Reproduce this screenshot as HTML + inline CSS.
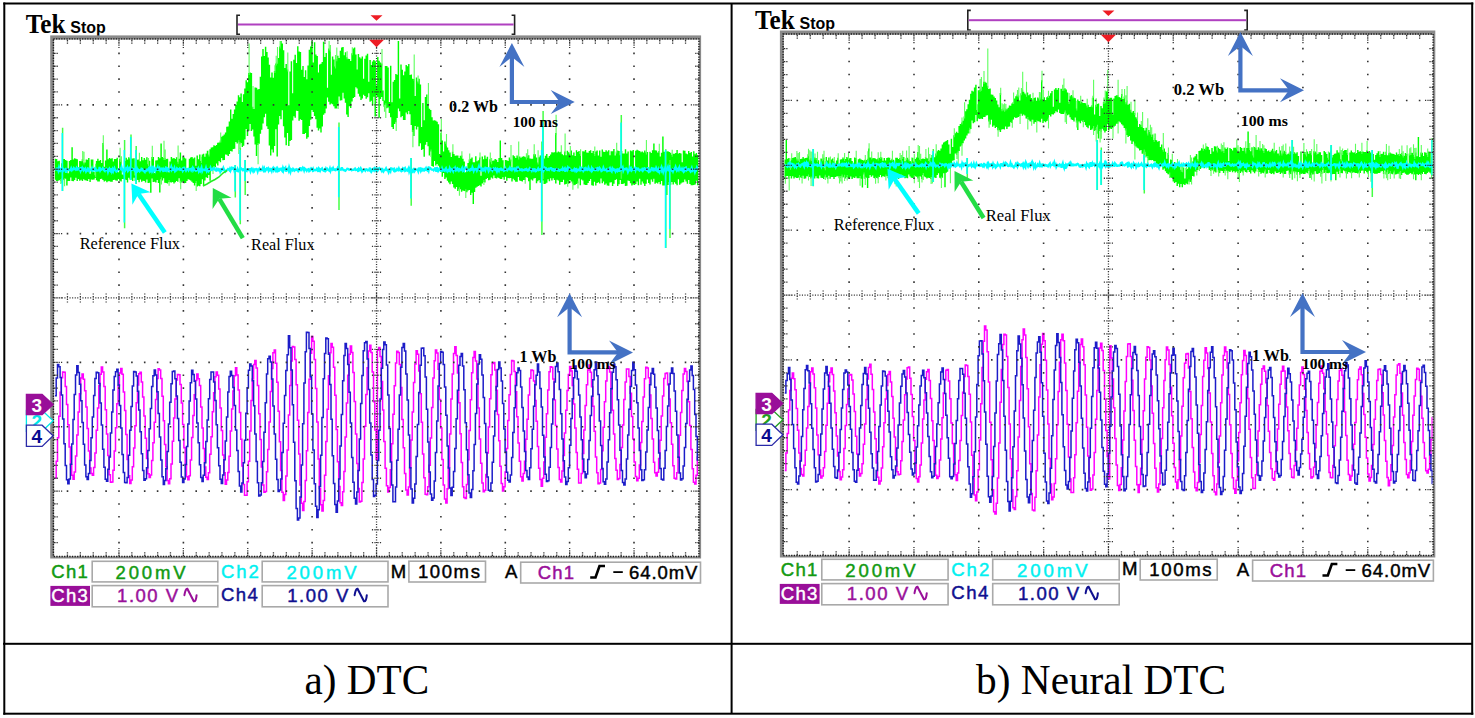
<!DOCTYPE html>
<html><head><meta charset="utf-8"><title>DTC vs Neural DTC</title>
<style>html,body{margin:0;padding:0;background:#fff;overflow:hidden;width:1475px;height:718px}svg{display:block}</style>
</head><body>
<svg width="1475" height="718" viewBox="0 0 1475 718">
<defs><clipPath id="cA"><rect x="54.6" y="40.5" width="643.8" height="515"/></clipPath><clipPath id="cB"><rect x="784.3" y="35.6" width="648.3" height="518.9"/></clipPath></defs>
<rect width="1475" height="718" fill="#fff"/>
<text x="25.8" y="33.4" font-family="Liberation Serif" font-size="27" font-weight="bold" fill="#000" text-anchor="start" textLength="39.7" lengthAdjust="spacingAndGlyphs">Tek</text>
<text x="70.3" y="33.1" font-family="Liberation Sans" font-size="17" font-weight="bold" fill="#000" text-anchor="start" textLength="35.5" lengthAdjust="spacingAndGlyphs">Stop</text>
<path fill="none" stroke="#222" stroke-width="1.6" d="M240 15.2H237V34.3H240 M511.6 15.2H514.6V34.3H511.6"/>
<rect x="238" y="23.5" width="275.6" height="2" fill="#b040c0"/>
<path fill="#ee1c24" d="M370.5 15.2h12l-6 5.6z"/>
<rect x="50.2" y="35.4" width="650.9" height="523.1" fill="#8a8a8a"/>
<rect x="54.1" y="39.6" width="644.7" height="516.8" fill="#fff"/>
<rect x="53.4" y="38.9" width="645.5" height="517.6" fill="none" stroke="#1a1a1a" stroke-width="1.4" stroke-dasharray="1.3 1.3"/>
<g clip-path="url(#cA)">
<path fill="none" stroke="#00ff00" stroke-width="1.45" d="M55.3 158.8V179.7M56.6 159.1V181.1M57.9 161.2V181.1M59.2 160.8V179.9M60.5 170.2V180.9M61.8 163.3V179.9M63 158.9V179.6M64.3 158.9V180.3M65.6 160V178.7M66.9 160.7V185.6M68.2 173.3V180.9M69.5 160.9V181.1M70.8 160V177.6M72.1 147.3V181M73.4 159.6V181.3M74.6 158.2V180M75.9 158.7V177.8M77.2 159.3V180.9M78.5 167.3V179.1M79.8 161V180.8M81.1 161.3V179.8M82.4 159.2V180.9M83.7 162.4V179.3M85 162.5V180.3M86.3 159.5V180.5M87.5 159.7V180.9M88.8 158.1V179M90.1 173.7V182M91.4 159.4V179.5M92.7 159.5V179.7M94 172V179.4M95.3 175.3V178M96.6 160.9V180.3M97.9 158.7V181.6M99.2 160.9V181.4M100.4 159.9V179.1M101.7 163V178.7M103 143V179.9M104.3 166.7V181.6M105.6 160.4V180.7M106.9 149.5V182.2M108.2 159.2V181.3M109.5 158V181.2M110.8 158.7V181.7M112.1 158.3V181.7M113.3 161.5V180.1M114.6 159V179.7M115.9 159.1V180.6M117.2 157.8V180.8M118.5 172.2V179M119.8 158.7V180.7M121.1 161.8V181.5M122.4 174.4V179M123.7 171.6V179M125 160.9V179.3M126.2 157.8V180M127.5 159.5V182.6M128.8 157.3V177.8M130.1 158.6V179.4M131.4 158.5V179.3M132.7 158.4V181M134 158.2V177.7M135.3 175.6V181M136.6 159.1V179.4M137.9 160.1V180.1M139.1 159.2V182.3M140.4 161.2V179.6M141.7 157.1V181.7M143 160.2V180.8M144.3 158.1V180.9M145.6 159.7V182.5M146.9 157.3V179.5M148.2 164.3V182.9M149.5 160.7V182.8M150.8 172.2V192.7M152 157V178.4M153.3 157.1V182.1M154.6 173.1V181.8M155.9 160.5V182.5M157.2 160.2V180M158.5 157V183.1M159.8 158.3V192.6M161.1 143.5V179.3M162.4 157V180.6M163.7 157.9V178.3M164.9 158.1V182.8M166.2 159V183.1M167.5 158.8V183.4M168.8 172.2V182.1M170.1 161.5V182.3M171.4 156.9V182.4M172.7 158.5V182M174 158.1V183.4M175.3 159.1V182.2M176.6 157.3V180.9M177.8 161.7V181.8M179.1 158.8V178.2M180.4 152.6V182.7M181.7 160.4V182.6M183 156.4V181.5M184.3 157.5V183.2M185.6 158.5V182.9M186.9 168.6V181.1M188.2 170.2V179.2M189.5 158.8V179.7M190.7 157.6V180.4M192 157V181.7M193.3 158.4V182.9M194.6 157.4V185.5M195.9 165.8V182.9M197.2 155.4V186.4M198.5 159.3V185.7M199.8 154.5V186.3M201.1 160.9V183.9M202.4 154.4V179.3M203.6 153.7V185.4M204.9 156.8V180.5M206.2 153.6V177.2M207.5 150.8V178.1M208.8 154.6V175.1M210.1 149.3V180.8M211.4 147.6V168.6M212.7 147.3V170M214 145.3V166.4M215.3 146.1V167.2M216.5 145V163.4M217.8 142.8V165.5M219.1 142.6V161.1M220.4 140.4V162.3M221.7 136.7V158M223 135.8V160.2M224.3 134.5V160.1M225.6 132.5V154.5M226.9 126.8V154.7M228.2 126.6V156M229.4 121.6V154M230.7 109.6V151M232 118.8V151.6M233.3 113.9V148.9M234.6 109.4V148.7M235.9 105V142.1M237.2 101.5V143.5M238.5 95.3V142.3M239.8 97.3V144.2M241.1 93.4V143M242.3 101.9V147M243.6 94.2V145.8M244.9 88.5V139.5M246.2 80.3V128.9M247.5 82.2V135.9M248.8 72.9V130.7M250.1 72.4V123.9M251.4 72.9V131M252.7 106.7V129.6M254 108.9V136.4M255.2 87.5V144.5M256.5 87.8V156M257.8 89.6V145M259.1 89V143.8M260.4 76.7V133.7M261.7 56.6V129.8M263 49.1V123.6M264.3 56V117.2M265.6 46.7V113.7M266.9 52.1V126.2M268.1 57.4V129M269.4 64.8V145.6M270.7 77.6V155.5M272 72.6V149.6M273.3 77.8V152.6M274.6 71V146.1M275.9 63.4V129.2M277.2 61.8V156.4M278.5 57.9V124.6M279.8 46.4V116M281 41.1V119.3M282.3 43.4V110.2M283.6 50.3V126.2M284.9 68.1V137.4M286.2 64V145.3M287.5 69.4V132.9M288.8 105.3V146.1M290.1 71.4V141M291.4 61.2V139.9M292.7 93.3V120.4M293.9 59.7V116.3M295.2 54.8V117.8M296.5 63V110.8M297.8 46.2V111.1M299.1 51.5V120.7M300.4 52.1V119.2M301.7 69.7V119.9M303 66V134M304.3 77V133.9M305.6 70.2V132.9M306.8 79.3V138.8M308.1 65.5V137.3M309.4 49.8V126M310.7 46.4V119.7M312 41V110M313.3 62.4V111.9M314.6 42.2V116M315.9 54.5V119.2M317.2 56V127.7M318.5 72.5V130.5M319.7 64.6V128.6M321 63.7V132.6M322.3 61.9V126.5M323.6 41.8V114.7M324.9 57V113.2M326.2 53.1V108.6M327.5 87.8V97.5M328.8 48.4V101.7M330.1 49.7V104.4M331.4 74.7V103.6M332.6 56.6V104.2M333.9 59.5V106.3M335.2 66.6V108.4M336.5 59.2V108.6M337.8 55.7V105.1M339.1 58.1V96.4M340.4 50.7V100.6M341.7 47.6V100.3M343 47V92.7M344.3 55.2V98.4M345.5 52.3V102.7M346.8 57.2V114.5M348.1 58.7V117.1M349.4 59V106.3M350.7 61V108.1M352 53.2V101.4M353.3 48.6V98.1M354.6 47.4V97M355.9 54.4V87.2M357.2 69.5V88.4M358.4 54.1V93.7M359.7 57.2V96.6M361 58.4V100M362.3 56.4V98.5M363.6 78.7V94.8M364.9 58.8V95.9M366.2 55.5V98.8M367.5 53.8V97.3M368.8 81.7V93.2M370.1 59.9V101.8M371.3 65.1V100.7M372.6 61.5V105.6M373.9 60V96.8M375.2 61.3V116.5M376.5 85.6V95.6M377.8 56.9V97M379.1 60.7V117.7M380.4 62.4V98.9M381.7 63.6V97.1M383 90.6V100.9M384.2 100.5V106.7M385.5 66.1V105.2M386.8 65.9V108.2M388.1 67.4V107.6M389.4 102V113M390.7 65.7V117.3M392 102.2V127M393.3 81.7V129.1M394.6 80.1V124M395.9 74.1V122.3M397.1 74.8V117.9M398.4 41V108.6M399.7 98.4V111.3M401 64.5V117.3M402.3 69.8V115.9M403.6 75.3V120M404.9 71.6V119.9M406.2 64.9V112.5M407.5 66.3V114.2M408.8 63.9V110.9M410 75.1V114.2M411.3 74.4V124.9M412.6 78.7V131.9M413.9 79V135.9M415.2 96.1V126.1M416.5 77.5V129.4M417.8 81.5V126.8M419.1 78.8V146.2M420.4 84.4V143.2M421.7 127.1V149.9M422.9 103V148.9M424.2 120.2V156.8M425.5 97V144.8M426.8 94.5V142M428.1 104.2V146.2M429.4 108.7V155.4M430.7 110V151.6M432 117.3V166M433.3 120.6V166.7M434.6 120.3V161M435.8 120.7V165.6M437.1 121.8V164.1M438.4 124.2V165.8M439.7 154V169.3M441 132.8V172.1M442.3 140.4V176.7M443.6 151.4V173.1M444.9 141.6V178.9M446.2 143.7V177.5M447.5 147.4V180.8M448.7 150.3V182.6M450 152.6V184.3M451.3 157.1V181.6M452.6 151.8V184M453.9 154V187.6M455.2 155.7V188.8M456.5 155.5V186.9M457.8 155.4V191.1M459.1 158V189.2M460.4 155.7V189.3M461.6 155.5V191.8M462.9 158.7V190.6M464.2 161.4V191M465.5 172.2V191.3M466.8 168.8V192.3M468.1 163.1V190.5M469.4 159.5V189.9M470.7 158.7V194.9M472 157.6V192.7M473.3 162.3V203.9M474.5 162.3V192.1M475.8 156.3V187.7M477.1 161.2V186.8M478.4 160.3V186.1M479.7 157.5V185.2M481 175.7V186.5M482.3 156.4V183.5M483.6 159.2V182.1M484.9 155.6V182.5M486.2 158.7V179.1M487.4 156.8V177.9M488.7 172.2V180.3M490 159.2V179.8M491.3 162.3V177.5M492.6 160.7V178.4M493.9 160.6V175.6M495.2 159.1V177.9M496.5 159.8V178.6M497.8 161.9V177.4M499.1 158V177.9M500.3 140.6V179M501.6 157.9V179.1M502.9 160.2V177.2M504.2 170.1V179.7M505.5 159.9V176.8M506.8 160.3V180.7M508.1 160.9V177.9M509.4 157.6V178.2M510.7 159.4V178M512 167.6V181.4M513.2 155.2V178.7M514.5 156.3V180.3M515.8 157.9V181.8M517.1 155.5V181.8M518.4 157.6V177.1M519.7 156.4V180.5M521 157.7V180.9M522.3 156.7V181.4M523.6 156.3V179.9M524.9 156.8V180M526.1 157.5V176.9M527.4 155.7V177.7M528.7 155.3V181.3M530 158.4V189.9M531.3 158.7V179.5M532.6 158.8V180.5M533.9 154.2V178.4M535.2 154.2V177.9M536.5 157.4V183.3M537.8 162.4V181.3M539 157.3V179.9M540.3 155.4V182.7M541.6 155.2V177.5M542.9 153.3V180.4M544.2 158.6V184M545.5 155.8V183.8M546.8 154.1V182.8M548.1 157.8V179.3M549.4 156V181.2M550.7 154.4V178.3M551.9 152.3V180.6M553.2 152.6V178.3M554.5 152.2V179.9M555.8 132.9V183.4M557.1 152.4V179.7M558.4 151.6V180.4M559.7 152.2V184.8M561 151.8V181.9M562.3 154.3V181.9M563.6 155.3V179.7M564.8 151.6V184.5M566.1 155.3V183.9M567.4 150.8V183.3M568.7 152.3V183.7M570 153.8V179.9M571.3 150.6V181.5M572.6 155.2V183.6M573.9 152.5V185.3M575.2 155.9V184.8M576.5 150.3V184M577.7 152.1V183.3M579 150.9V178.4M580.3 153.9V185.2M581.6 170.6V179.6M582.9 151.2V180.4M584.2 151.5V184.4M585.5 150V185M586.8 152.6V184.9M588.1 152.7V183.1M589.4 151.1V181M590.6 150.3V179.1M591.9 153.1V185.3M593.2 151V185.8M594.5 154V181.7M595.8 151.6V185.4M597.1 150.4V182.9M598.4 155.6V182.3M599.7 150.5V183.6M601 156.7V178.4M602.3 149.4V183.3M603.5 151.8V181.4M604.8 152.1V184.7M606.1 150.3V183.6M607.4 151.4V185.5M608.7 150.3V185.8M610 155.2V182.6M611.3 151.2V182.3M612.6 151.2V186.1M613.9 149.1V183.7M615.2 155.6V180.1M616.4 151.4V179.3M617.7 150.4V186.1M619 151V184.3M620.3 155.2V179.9M621.6 151V184.1M622.9 153.4V183.9M624.2 153.5V183.3M625.5 149.2V185.9M626.8 153.4V185.8M628.1 151.6V180.6M629.3 169.4V181M630.6 150.4V183.3M631.9 151.3V185.6M633.2 149.9V184.4M634.5 170.4V184.9M635.8 150.7V184M637.1 149.8V181.4M638.4 150.6V185.3M639.7 150.9V178.7M641 152.3V184.8M642.2 151.4V181.4M643.5 152.4V183.4M644.8 150.4V186M646.1 152.5V183.8M647.4 152V179.6M648.7 172.7V183.1M650 151.8V184.4M651.3 152.9V179.6M652.6 150.2V181.8M653.9 143.4V178.7M655.1 150.2V183.7M656.4 150.5V182.7M657.7 152.4V183.5M659 150.9V182.1M660.3 156.5V184.3M661.6 152.8V181M662.9 136.5V185.4M664.2 151.8V185.6M665.5 167.6V183.3M666.8 151.4V195.1M668 151.3V185.1M669.3 151.9V181.9M670.6 152.8V184.8M671.9 154.7V181.9M673.2 153.8V184.4M674.5 153.8V182.2M675.8 152.9V183.8M677.1 150.1V185.3M678.4 153.5V179.3M679.7 152.9V184.7M680.9 153.4V183.4M682.2 162.3V182.4M683.5 150.5V182.2M684.8 150.8V179.5M686.1 153.5V181.5M687.4 154.3V183.7M688.7 150.9V179.9M690 152.9V183.9M691.3 151.9V185.2M692.6 156.4V185.3M693.8 151.2V184.9M695.1 154.2V184.5M696.4 153V180.7M697.7 155.1V185.2"/><path fill="none" stroke="#5cff5c" stroke-width="1.1" d="M82.7 151V161.2M84 151.8V164.4M95.6 163.8V177.3M103.3 135.2V145M120.1 147.8V160.7M121.4 156.3V163.8M130.4 154.1V160.6M139.4 152.8V161.2M148.5 158V166.3M152.3 145.8V159M164 140.7V159.9M165.2 149.5V160.1M178.1 145.5V163.7M201.4 156.7V162.9M209.1 150.5V156.6M220.7 132.6V142.4M249.1 43.6V74.9M253 85.9V108.7M274.9 65.3V73M276.2 55.8V65.4M277.5 46.9V63.8M280.1 41V48.4M287.8 52.5V71.4M329.1 41V50.4M330.4 45.1V51.7M335.5 54.9V68.6M336.8 47.5V61.2M347.1 51.3V59.2M352.3 47.3V55.2M382 49V65.6M414.2 54.6V81M418.1 75.6V83.5M428.4 83.1V106.2M441.3 119.1V134.8M446.5 134V145.7M452.9 144.3V153.8M461.9 151.3V157.5M469.7 153.6V161.5M480 152.4V159.5M490.3 152.6V161.2M491.6 158.1V164.3M511 145.1V161.4M518.7 141.5V159.6M526.4 153.2V159.5M527.7 149.3V157.7M534.2 144.2V156.2M538.1 150.3V164.4M556.1 114.7V134.9M561.3 145.3V153.8M565.1 133.5V153.6M570.3 146.1V155.8M580.6 149.3V155.9M594.8 146.6V156M616.7 142.7V153.4M646.4 140V154.5M659.3 143.8V152.9M672.2 149.7V156.7M60.8 178.9V184.1M62 177.9V183.3M64.6 178.3V186.2M161.4 177.3V184.4M169.1 180.1V185.7M180.7 180.7V189.3M196.2 180.9V191M213 168V174.1M238.8 140.3V153.9M240.1 142.2V148.7M258.1 143V164.3M338.1 103.1V109.1M384.5 104.7V111.8M385.8 103.2V118.1M396.2 120.3V131M412.9 129.9V147.2M431 149.6V157.1M459.4 187.2V195.8M465.8 189.3V197.9M483.9 180.1V185.1M525.2 178V183.7M567.7 181.3V186.8M572.9 181.6V189.7M578 181.3V188.4"/>
<path stroke="#44ff44" stroke-width="1.5" fill="none" d="M62.6 127.7V191M124.6 140.1V228.3M131 134.4V180M136.2 146V184M235.3 165V197.6M240.3 147.7V224.3M245.2 160V194.9M339 122.4V210.1M411.2 158V205.8M541.9 141.5V234.9M543.1 111V179.1M621.3 115.1V178.8M665.8 149.2V248M670 160V238"/>
<polyline fill="none" stroke="#00ffff" stroke-width="2.2" points="55.1,170.1 55.7,169.8 56.4,168.8 57,169.3 57.7,168.7 58.3,170.6 59,167.5 59.6,169.4 60.3,172 60.9,169.3 61.6,168.5 62.2,169.6 62.8,170.9 63.5,169.4 64.1,170.2 64.8,169.7 65.4,169.2 66.1,172.8 66.7,169.7 67.4,169.1 68,169.1 68.6,170 69.3,170 69.9,170.4 70.6,169.7 71.2,168.2 71.9,170.1 72.5,169.3 73.2,169.3 73.8,168.1 74.5,169 75.1,168.9 75.7,169.6 76.4,168.1 77,169.7 77.7,169.7 78.3,168.5 79,169 79.6,168.7 80.3,170.5 80.9,167.1 81.5,169.3 82.2,167.9 82.8,169.2 83.5,170.4 84.1,169 84.8,169.7 85.4,168.8 86.1,171.5 86.7,170.5 87.4,170.7 88,168.3 88.6,168.5 89.3,170.7 89.9,169.4 90.6,169.3 91.2,169.9 91.9,168.3 92.5,170.4 93.2,169.6 93.8,170.1 94.4,168.9 95.1,170.1 95.7,168.9 96.4,170.6 97,170.7 97.7,170.5 98.3,170.1 99,170.2 99.6,166.9 100.3,170.4 100.9,169.3 101.5,169.7 102.2,169.3 102.8,168.2 103.5,169.1 104.1,170.3 104.8,171 105.4,169 106.1,168.7 106.7,171.1 107.3,168.7 108,171.7 108.6,169.7 109.3,168.7 109.9,170.6 110.6,171.3 111.2,168.2 111.9,171.2 112.5,169.3 113.2,171.1 113.8,169.2 114.4,168 115.1,170.1 115.7,170.5 116.4,171.7 117,171.3 117.7,170.3 118.3,169.4 119,169.1 119.6,169.3 120.2,168.8 120.9,169.3 121.5,167.1 122.2,169.8 122.8,169.6 123.5,172.2 124.1,170.4 124.8,169.1 125.4,170.2 126.1,168.4 126.7,169 127.3,167.7 128,171 128.6,170.2 129.3,168.4 129.9,169.5 130.6,170.5 131.2,170.1 131.9,170 132.5,168.7 133.1,169 133.8,169.7 134.4,170.5 135.1,168.8 135.7,168.5 136.4,170.7 137,168.7 137.7,170.7 138.3,169.8 139,170.5 139.6,171.3 140.2,170.3 140.9,170.4 141.5,168.7 142.2,168.9 142.8,170.2 143.5,171.1 144.1,171 144.8,171.9 145.4,169.9 146,169.8 146.7,170.6 147.3,169.6 148,169.5 148.6,168.6 149.3,170.6 149.9,168.5 150.6,170.1 151.2,168.2 151.9,170.7 152.5,168.6 153.1,170.4 153.8,168 154.4,169.2 155.1,170.8 155.7,168.8 156.4,169.7 157,169.1 157.7,167.3 158.3,169.9 158.9,170 159.6,168.5 160.2,170.2 160.9,168.8 161.5,168.6 162.2,169.6 162.8,168.9 163.5,171.9 164.1,168 164.8,170.3 165.4,170.6 166,167.6 166.7,167.9 167.3,170.2 168,169.1 168.6,170 169.3,170.7 169.9,169.2 170.6,168.5 171.2,166.9 171.8,169.8 172.5,168.7 173.1,169.9 173.8,169.8 174.4,168.2 175.1,171.3 175.7,170.7 176.4,170.4 177,168.4 177.7,169.2 178.3,169.1 178.9,169.2 179.6,168.5 180.2,170 180.9,169.8 181.5,170 182.2,169.1 182.8,170.9 183.5,169.8 184.1,166.9 184.7,169 185.4,169.5 186,170.6 186.7,169.3 187.3,169.3 188,168.9 188.6,170.3 189.3,169.2 189.9,169 190.6,168.9 191.2,170.2 191.8,169.1 192.5,167.9 193.1,170.2 193.8,168.9 194.4,170 195.1,170 195.7,170.8 196.4,170.6 197,169 197.6,169.4 198.3,168.3 198.9,171.3 199.6,170 200.2,171 200.9,169.3 201.5,167.6 202.2,171.1 202.8,169.7 203.5,169.7 204.1,169.7 204.7,170.2 205.4,170.1 206,168 206.7,170.7 207.3,169.1 208,169.1 208.6,171.3 209.3,170.5 209.9,169.3 210.5,167.7 211.2,169.8 211.8,170.1 212.5,169.5 213.1,168.4 213.8,168.8 214.4,168.3 215.1,169.8 215.7,170.4 216.4,170.6 217,168.9 217.6,169.8 218.3,170.2 218.9,169.1 219.6,169.5 220.2,171.7 220.9,169.8 221.5,170.5 222.2,169.2 222.8,169.6 223.4,167.9 224.1,169.6 224.7,170.8 225.4,171.7 226,170.8 226.7,170.3 227.3,169.7 228,169 228.6,169.4 229.3,170.2 229.9,168.8 230.5,170.5 231.2,168.6 231.8,167.8 232.5,168.6 233.1,167.9 233.8,168.2 234.4,170.7 235.1,169.4 235.7,169.8 236.3,170.8 237,170.9 237.6,169.1 238.3,170.9 238.9,170 239.6,169.6 240.2,170 240.9,168.2 241.5,168.8 242.2,169.5 242.8,170.2 243.4,169.2 244.1,169.5 244.7,170.6 245.4,171 246,170.4 246.7,170.9 247.3,169.2 248,169.3 248.6,169.9 249.2,169.3 249.9,169.1 250.5,171.3 251.2,169.4 251.8,168.6 252.5,170.1 253.1,171.4 253.8,169.7 254.4,170.8 255.1,169.2 255.7,169.1 256.3,168.9 257,169.5 257.6,171.4 258.3,168.4 258.9,171.2 259.6,168.6 260.2,169.4 260.9,170.4 261.5,170.2 262.1,169.9 262.8,168 263.4,170 264.1,168.6 264.7,172.2 265.4,169.4 266,169.8 266.7,168.5 267.3,169.1 268,168.3 268.6,170.6 269.2,169.3 269.9,170.2 270.5,168.9 271.2,169.1 271.8,170.9 272.5,168.6 273.1,167.8 273.8,170 274.4,168.5 275,169.2 275.7,170.5 276.3,168.8 277,170.5 277.6,168.9 278.3,171.1 278.9,170.9 279.6,169.1 280.2,169.4 280.9,168.8 281.5,169.8 282.1,170.7 282.8,168.2 283.4,170.5 284.1,168.3 284.7,168.7 285.4,167.8 286,171.7 286.7,169.7 287.3,169.8 287.9,168.9 288.6,170.7 289.2,167.5 289.9,169.6 290.5,171.8 291.2,169.2 291.8,169.6 292.5,170.3 293.1,168.8 293.8,169.6 294.4,170.6 295,169.8 295.7,170 296.3,169.3 297,169.9 297.6,169.7 298.3,171.1 298.9,170.3 299.6,169.4 300.2,167.2 300.8,170.3 301.5,170.4 302.1,168.7 302.8,167.6 303.4,168.5 304.1,170.5 304.7,168.5 305.4,169.1 306,169.8 306.7,170.8 307.3,169.6 307.9,169.5 308.6,169.1 309.2,171.2 309.9,170.7 310.5,169.5 311.2,168.2 311.8,168.8 312.5,170.2 313.1,168.9 313.7,170.5 314.4,170 315,169.9 315.7,170.3 316.3,170.1 317,168.7 317.6,169.3 318.3,171.9 318.9,168.4 319.6,169.1 320.2,170.7 320.8,169.4 321.5,168.8 322.1,168.3 322.8,170.1 323.4,170.6 324.1,171 324.7,169.7 325.4,170.6 326,168.6 326.6,169.8 327.3,168.9 327.9,169.8 328.6,170.4 329.2,170.7 329.9,168.6 330.5,170.9 331.2,169.1 331.8,168.6 332.5,169.4 333.1,168.1 333.7,169.6 334.4,169.9 335,169.4 335.7,170.1 336.3,169.3 337,169.6 337.6,168.2 338.3,169.6 338.9,168.7 339.5,169.2 340.2,169.5 340.8,169.8 341.5,168 342.1,168 342.8,169.3 343.4,170.1 344.1,170 344.7,170.5 345.4,170.9 346,170.1 346.6,169.6 347.3,168.6 347.9,168.7 348.6,169.1 349.2,169.9 349.9,169.8 350.5,169.6 351.2,169.4 351.8,170.2 352.4,169.8 353.1,169.9 353.7,169.9 354.4,169.1 355,168.6 355.7,170.1 356.3,170 357,169.4 357.6,169.2 358.3,171.9 358.9,168.8 359.5,169.4 360.2,169.9 360.8,168.4 361.5,169.7 362.1,171.4 362.8,170.5 363.4,170.2 364.1,170.2 364.7,169.7 365.3,170.6 366,169.4 366.6,169.2 367.3,169.7 367.9,170.5 368.6,169.9 369.2,170.3 369.9,167.6 370.5,170.8 371.2,171.9 371.8,170.9 372.4,169.3 373.1,168.8 373.7,169.9 374.4,168.6 375,170.3 375.7,169.1 376.3,170.6 377,171 377.6,167.6 378.2,169.9 378.9,168.9 379.5,168.2 380.2,169 380.8,169.4 381.5,170.6 382.1,168.1 382.8,170.7 383.4,171.6 384.1,170.2 384.7,170.1 385.3,169.6 386,168.4 386.6,170.1 387.3,170 387.9,170.3 388.6,172.2 389.2,170.3 389.9,170 390.5,171.2 391.1,168.3 391.8,168.5 392.4,169.2 393.1,168.9 393.7,170.3 394.4,169.3 395,171.3 395.7,171.1 396.3,170.4 397,169.2 397.6,170.2 398.2,170.4 398.9,168.5 399.5,169.9 400.2,170.3 400.8,169.8 401.5,171.2 402.1,170.8 402.8,168.8 403.4,169.7 404,168.8 404.7,170.2 405.3,168.7 406,170.5 406.6,170 407.3,170.6 407.9,169.5 408.6,168.1 409.2,171.4 409.9,169.4 410.5,171 411.1,170 411.8,170.3 412.4,171.4 413.1,169.9 413.7,171 414.4,168.1 415,170.5 415.7,169.4 416.3,169.5 416.9,169.6 417.6,169.9 418.2,171.3 418.9,167.7 419.5,169.6 420.2,168.9 420.8,170.8 421.5,169.2 422.1,170.1 422.8,169.2 423.4,170.3 424,170.6 424.7,169.2 425.3,169.6 426,168.2 426.6,169.9 427.3,170.5 427.9,169 428.6,170.7 429.2,167.5 429.8,167.7 430.5,168.2 431.1,169.1 431.8,169.6 432.4,169.5 433.1,169.5 433.7,170.3 434.4,169.1 435,168.3 435.7,168.4 436.3,171.7 436.9,167.2 437.6,169.4 438.2,171.1 438.9,170.1 439.5,168.8 440.2,169.6 440.8,170.5 441.5,170.8 442.1,168.7 442.7,170.4 443.4,169.9 444,170.7 444.7,171 445.3,169.3 446,168.2 446.6,170 447.3,171.4 447.9,170.3 448.6,169.8 449.2,172 449.8,168.6 450.5,170.5 451.1,169 451.8,169.6 452.4,169.7 453.1,171.1 453.7,168.7 454.4,169.1 455,168 455.6,170.1 456.3,169.1 456.9,170 457.6,168.5 458.2,169.2 458.9,170.6 459.5,169.4 460.2,170.2 460.8,170.1 461.5,169.2 462.1,168 462.7,170.6 463.4,169.8 464,170.6 464.7,167.6 465.3,167.9 466,167.5 466.6,168.7 467.3,170.6 467.9,170.2 468.5,169.6 469.2,169.7 469.8,170.4 470.5,169.3 471.1,170 471.8,169.7 472.4,167.4 473.1,169.2 473.7,171 474.4,169.2 475,169.5 475.6,169 476.3,169.1 476.9,170.7 477.6,169.3 478.2,168.6 478.9,166.5 479.5,169 480.2,167.6 480.8,167.8 481.4,170.4 482.1,170.3 482.7,167.7 483.4,170.5 484,170.1 484.7,168.8 485.3,170.3 486,168 486.6,168.4 487.3,168.2 487.9,168.5 488.5,170.5 489.2,168.3 489.8,168.4 490.5,168.6 491.1,169.8 491.8,169.3 492.4,170.5 493.1,168.9 493.7,168.3 494.3,169.1 495,169.6 495.6,168.7 496.3,169.9 496.9,171.4 497.6,169 498.2,169.6 498.9,170.9 499.5,168.9 500.2,168.7 500.8,168.5 501.4,170 502.1,170.1 502.7,169.4 503.4,169.6 504,170.9 504.7,170.4 505.3,168.2 506,169.6 506.6,169.7 507.2,170.3 507.9,169.4 508.5,168.9 509.2,169.1 509.8,167.8 510.5,169.5 511.1,169 511.8,170 512.4,168.5 513.1,169.1 513.7,168.6 514.3,168.5 515,170.3 515.6,169.1 516.3,170 516.9,168.4 517.6,169.7 518.2,167.9 518.9,169.1 519.5,169.1 520.1,170.1 520.8,169.7 521.4,169.4 522.1,170.4 522.7,169.7 523.4,170.1 524,170.3 524.7,169.5 525.3,169.3 526,169.9 526.6,169.1 527.2,169.9 527.9,170.7 528.5,170.4 529.2,169.2 529.8,168.3 530.5,169.5 531.1,169.4 531.8,170.7 532.4,169.2 533,169.3 533.7,170.3 534.3,169.1 535,169.4 535.6,171.3 536.3,171 536.9,170.2 537.6,169.8 538.2,168.6 538.9,170.1 539.5,169.6 540.1,169.8 540.8,169 541.4,169.5 542.1,169.4 542.7,169.9 543.4,171 544,169.9 544.7,167.9 545.3,168.6 545.9,168 546.6,168.8 547.2,170.1 547.9,170 548.5,169 549.2,169.8 549.8,168.8 550.5,168.1 551.1,168.1 551.8,168.7 552.4,171 553,168.2 553.7,170.8 554.3,170.9 555,169.4 555.6,169.5 556.3,168.9 556.9,169.5 557.6,170.2 558.2,169.6 558.8,170.5 559.5,170.7 560.1,169.9 560.8,169.9 561.4,169.5 562.1,169.9 562.7,168.4 563.4,170 564,169.8 564.7,168.7 565.3,171.7 565.9,168.6 566.6,168.7 567.2,169.8 567.9,167.6 568.5,168.8 569.2,168 569.8,168.6 570.5,169.4 571.1,169.9 571.7,170.6 572.4,170.4 573,170.7 573.7,170.1 574.3,169.1 575,170.7 575.6,169.1 576.3,168.9 576.9,171.1 577.6,170.3 578.2,169.8 578.8,170.3 579.5,170.4 580.1,168.2 580.8,169.5 581.4,168.4 582.1,169.7 582.7,168.9 583.4,170.9 584,170.1 584.6,168.7 585.3,169.5 585.9,168.3 586.6,169.6 587.2,170.1 587.9,169.8 588.5,167.6 589.2,169.2 589.8,170.1 590.5,169.8 591.1,170.7 591.7,168.3 592.4,170.1 593,168.9 593.7,169.7 594.3,169.9 595,170.2 595.6,169 596.3,169.7 596.9,168.4 597.5,168.1 598.2,170.1 598.8,169.5 599.5,167.9 600.1,168.7 600.8,169.6 601.4,171.1 602.1,170.6 602.7,170.3 603.4,167.8 604,169.4 604.6,170 605.3,169.9 605.9,170 606.6,169.3 607.2,171.3 607.9,171 608.5,169.4 609.2,168.6 609.8,171.6 610.4,169 611.1,170.7 611.7,171.5 612.4,168.6 613,169.8 613.7,169.2 614.3,170.1 615,169.9 615.6,171.5 616.3,170.1 616.9,169.5 617.5,170.7 618.2,169.3 618.8,169.2 619.5,171.8 620.1,168.7 620.8,169.1 621.4,169.6 622.1,168.5 622.7,167.4 623.3,170.6 624,168.8 624.6,169 625.3,169.2 625.9,168.6 626.6,168.5 627.2,169.7 627.9,171.9 628.5,170.3 629.2,170.3 629.8,168 630.4,169.5 631.1,168.4 631.7,170.3 632.4,169.3 633,169.6 633.7,169.5 634.3,169 635,168 635.6,170.1 636.2,168.2 636.9,168.4 637.5,169.2 638.2,168.8 638.8,169.8 639.5,170.6 640.1,169.8 640.8,169.7 641.4,169.6 642.1,170.4 642.7,167.7 643.3,169.9 644,168.6 644.6,168.3 645.3,169.5 645.9,169.2 646.6,170.1 647.2,170.6 647.9,167.2 648.5,169.5 649.1,171.5 649.8,170.4 650.4,171 651.1,169.6 651.7,168.1 652.4,168.4 653,170.3 653.7,170.5 654.3,168.8 655,169.3 655.6,169.8 656.2,167.8 656.9,169.2 657.5,171.2 658.2,171.7 658.8,169.4 659.5,171.4 660.1,169 660.8,168.7 661.4,167.3 662,170.5 662.7,169.2 663.3,171.9 664,169.9 664.6,169.7 665.3,167.7 665.9,171 666.6,169.2 667.2,169.4 667.9,167.3 668.5,170.5 669.1,170.5 669.8,168.9 670.4,169.6 671.1,169.9 671.7,170.5 672.4,169.6 673,171.3 673.7,169.3 674.3,168.9 674.9,169.1 675.6,167 676.2,168.7 676.9,170.6 677.5,169.8 678.2,168.7 678.8,169.9 679.5,167.5 680.1,169.3 680.8,170.1 681.4,170.2 682,168.8 682.7,170.5 683.3,171.4 684,169.1 684.6,170.3 685.3,168 685.9,167.6 686.6,170.2 687.2,169.6 687.8,169.7 688.5,169 689.1,169.3 689.8,170.4 690.4,171.3 691.1,169.3 691.7,167.9 692.4,170.8 693,170.2 693.7,170.2 694.3,169.7 694.9,171.9 695.6,169.6 696.2,170.1 696.9,167.7 697.5,169"/>
<path stroke="#00ffff" stroke-width="1.5" fill="none" d="M62.3 133V191M124.3 150V222.6M130.7 137V180M135.9 150V184M235 165V191.5M240 150V220.3M244.9 160V181M338.7 127V197.3M410.9 158V198.4M541.6 150V221.5M542.8 122.5V170M621 122.5V170M665.5 150V248M669.7 165V229"/>
<path fill="none" stroke="#ff00ff" stroke-width="1.5" d="M54.9 477.9H56.2V461.3H57.5V437.7H58.8V416.2H60.1V392.3H61.3V377.8H62.6V371.9H63.9V372.3H65.2V386.6H66.5V404.5H67.8V424.8H69.1V447H70.4V464.4H71.7V475.3H73V479.3H74.2V471.9H75.5V456H76.8V434.9H78.1V412H79.4V393.8H80.7V378.1H82V374.1H83.3V379.2H84.6V390.8H85.9V407H87.1V428.5H88.4V451.1H89.7V468H91V473.6H92.3V475.3H93.6V467.6H94.9V452.9H96.2V430.2H97.5V408.1H98.8V385.7H100V374.2H101.3V367.1H102.6V371.9H103.9V386.5H105.2V409.7H106.5V434H107.8V455.4H109.1V474.7H110.4V482.3H111.7V481.9H112.9V470.3H114.2V451H115.5V427.8H116.8V403.8H118.1V385.5H119.4V373.1H120.7V368.6H122V374.3H123.3V392H124.6V410.5H125.8V434.6H127.1V459.6H128.4V475.7H129.7V483.6H131V479.9H132.3V466.7H133.6V448.1H134.9V425.8H136.2V402.7H137.5V385.1H138.7V373.7H140V372.3H141.3V382H142.6V397H143.9V415.9H145.2V438.2H146.5V458.6H147.8V473.8H149.1V477.6H150.4V475.1H151.6V460.6H152.9V442.7H154.2V422.2H155.5V399.4H156.8V378.6H158.1V368.7H159.4V370.1H160.7V378.5H162V396.3H163.3V420.7H164.5V444.6H165.8V466.7H167.1V480.5H168.4V483.7H169.7V478.7H171V464H172.3V441.2H173.6V417.9H174.9V398.9H176.2V379.9H177.4V374.5H178.7V374.8H180V384.5H181.3V402.9H182.6V424.6H183.9V447.7H185.2V464.7H186.5V476.8H187.8V479.8H189.1V475.7H190.3V459.9H191.6V437.4H192.9V415.6H194.2V394.8H195.5V380.6H196.8V374H198.1V378.7H199.4V385.5H200.7V406.9H202V428.1H203.2V448.6H204.5V467H205.8V477.2H207.1V479.4H208.4V472.7H209.7V454.3H211V436.7H212.3V411.7H213.6V392.8H214.9V376.8H216.1V371.9H217.4V375.2H218.7V389H220V408H221.3V430.5H222.6V454.9H223.9V472.8H225.2V484.3H226.5V480H227.8V472.4H229V456.2H230.3V431.1H231.6V409H232.9V391.1H234.2V375.8H235.5V367.7H236.8V375.1H238.1V390H239.4V412.5H240.7V439.3H241.9V465.9H243.2V484.6H244.5V495.3H245.8V495.3H247.1V481.8H248.4V461.3H249.7V430.9H251V400.6H252.3V379.1H253.6V364.5H254.8V360.4H256.1V368H257.4V385.4H258.7V413.7H260V439.6H261.3V467.1H262.6V484.9H263.9V492.2H265.2V491.4H266.5V471.8H267.7V449.5H269V421.9H270.3V391.4H271.6V368.4H272.9V352.8H274.2V350H275.5V363.2H276.8V382.2H278.1V411.3H279.4V441.8H280.6V470.5H281.9V492.2H283.2V500.4H284.5V494.5H285.8V476H287.1V450.1H288.4V415.1H289.7V385.6H291V361H292.3V346.4H293.5V347H294.8V359.6H296.1V384.7H297.4V420.3H298.7V453.9H300V484.9H301.3V503.3H302.6V510.4H303.9V501.6H305.2V480.4H306.4V450.8H307.7V412.6H309V379.2H310.3V353.2H311.6V336.6H312.9V341.2H314.2V359.6H315.5V388.6H316.8V422.1H318.1V459.1H319.3V488.5H320.6V504.8H321.9V510.9H323.2V500.4H324.5V475.3H325.8V441.5H327.1V409.2H328.4V375.8H329.7V352.8H331V343.4H332.2V347.3H333.5V367.2H334.8V395.3H336.1V429.4H337.4V461.7H338.7V486.6H340V502.7H341.3V505.4H342.6V491.7H343.9V471.6H345.1V437H346.4V403H347.7V375.2H349V354.3H350.3V346H351.6V352.4H352.9V372.5H354.2V401.6H355.5V434H356.8V463.6H358V488.5H359.3V501.9H360.6V501.2H361.9V482.5H363.2V459.1H364.5V426.3H365.8V394.5H367.1V367.8H368.4V350.9H369.7V345.3H370.9V352.4H372.2V372.1H373.5V401.7H374.8V430H376.1V459.6H377.4V349.9H378.7V347.4H380V356.4H381.3V381.4H382.6V410H383.8V441.4H385.1V468.2H386.4V485.8H387.7V491.9H389V487.5H390.3V469.8H391.6V443.7H392.9V414.2H394.2V385.8H395.5V363.1H396.7V351.3H398V352.6H399.3V364.6H400.6V387.5H401.9V419.5H403.2V447.8H404.5V473.5H405.8V489.9H407.1V494.9H408.4V487H409.6V467.9H410.9V440.1H412.2V412H413.5V382.5H414.8V363.9H416.1V350.8H417.4V354.3H418.7V371.1H420V393.8H421.3V422.3H422.5V454H423.8V477.7H425.1V494.3H426.4V494.8H427.7V486.7H429V465.3H430.3V438.1H431.6V407.6H432.9V377.9H434.2V360.8H435.4V350H436.7V353H438V369.3H439.3V399.4H440.6V427.9H441.9V459.6H443.2V485H444.5V499.1H445.8V502.9H447.1V488.8H448.3V467H449.6V433.9H450.9V399H452.2V374H453.5V353.4H454.8V346.7H456.1V355.6H457.4V372.9H458.7V402.7H460V433.8H461.2V462.4H462.5V486.7H463.8V497.5H465.1V498.6H466.4V484.6H467.7V459.7H469V430.4H470.3V399.7H471.6V372.8H472.9V357.4H474.1V351.6H475.4V360.9H476.7V379H478V407.9H479.3V439H480.6V463.2H481.9V482.9H483.2V491.7H484.5V490.2H485.8V474.5H487V453.1H488.3V427.1H489.6V398.8H490.9V374.8H492.2V363.6H493.5V362.5H494.8V370.1H496.1V390.3H497.4V414.5H498.7V440.7H499.9V466.2H501.2V483.6H502.5V491H503.8V486.7H505.1V471.9H506.4V448.5H507.7V420.6H509V394.8H510.3V374.4H511.6V360.6H512.8V361H514.1V371.5H515.4V391.7H516.7V416.8H518V443H519.3V461.3H520.6V476.8H521.9V481H523.2V473.6H524.5V461.2H525.7V439.3H527V419.2H528.3V394.9H529.6V378.3H530.9V370.1H532.2V370.6H533.5V380.9H534.8V400.5H536.1V421.2H537.4V446.6H538.6V468.2H539.9V479.6H541.2V486.2H542.5V478.2H543.8V462.1H545.1V437.3H546.4V413.8H547.7V390H549V371.7H550.3V366.7H551.5V367.2H552.8V378.9H554.1V399.9H555.4V425.5H556.7V448.9H558V467.4H559.3V479.6H560.6V481.9H561.9V471H563.2V455.4H564.4V432.9H565.7V410.3H567V390.5H568.3V374.6H569.6V366.5H570.9V371.1H572.2V385.6H573.5V403.9H574.8V427.9H576.1V452.5H577.3V469.3H578.6V482.9H579.9V482.9H581.2V473.4H582.5V453.4H583.8V430H585.1V405.4H586.4V384.7H587.7V369.9H589V365H590.2V372.3H591.5V386.7H592.8V406.3H594.1V431.2H595.4V457.1H596.7V472.7H598V483.8H599.3V483H600.6V469.6H601.9V450.7H603.1V427.3H604.4V401.8H605.7V381.1H607V368.6H608.3V366.5H609.6V372H610.9V388.3H612.2V410.3H613.5V434H614.8V458.5H616V470.3H617.3V479.6H618.6V478.5H619.9V464.5H621.2V447.4H622.5V425H623.8V399.6H625.1V381.9H626.4V369.1H627.7V369.1H628.9V376.6H630.2V393.2H631.5V416.4H632.8V439H634.1V462.1H635.4V476.6H636.7V480.7H638V478.3H639.3V465.1H640.6V442.5H641.8V421.5H643.1V396.9H644.4V378.8H645.7V367.2H647V367.9H648.3V377.7H649.6V394.9H650.9V418.4H652.2V438.9H653.5V462.3H654.7V472.8H656V476H657.3V472.2H658.6V458.6H659.9V440.2H661.2V416H662.5V396.1H663.8V378.5H665.1V373.6H666.4V372.9H667.6V384.7H668.9V399.1H670.2V422.8H671.5V444.3H672.8V465.7H674.1V478.3H675.4V478.9H676.7V472.7H678V457.1H679.3V435.3H680.5V412.5H681.8V390.6H683.1V374.1H684.4V368.6H685.7V371.6H687V381.6H688.3V401.7H689.6V425.6H690.9V449.6H692.2V468.8H693.4V482.2H694.7V484H696V475.3H697.3V456.9H698.1"/>
<path fill="none" stroke="#1c1cc8" stroke-width="1.5" d="M54.9 395.7H56.2V378H57.5V364.4H58.8V366.8H60.1V377.6H61.3V395H62.6V419.1H63.9V443.7H65.2V465.6H66.5V479.7H67.8V483.7H69.1V479H70.4V464.3H71.7V443.9H73V419.4H74.2V394.5H75.5V375.1H76.8V365.7H78.1V372.4H79.4V384.3H80.7V400.8H82V422.4H83.3V444.2H84.6V465.1H85.9V476.7H87.1V479.6H88.4V473.5H89.7V460.5H91V437.8H92.3V417H93.6V395.5H94.9V378.6H96.2V372.3H97.5V372.8H98.8V383.6H100V403H101.3V425.1H102.6V449.3H103.9V467.3H105.2V479.2H106.5V481.3H107.8V469.2H109.1V456.9H110.4V433H111.7V412H112.9V390.1H114.2V376.4H115.5V371.8H116.8V369.2H118.1V384.9H119.4V405.5H120.7V427.9H122V454.4H123.3V472.5H124.6V482.5H125.8V482.7H127.1V477.4H128.4V455.2H129.7V430.2H131V406.6H132.3V385.9H133.6V371.4H134.9V371.9H136.2V375.9H137.5V391.3H138.7V410.1H140V431.7H141.3V453.7H142.6V470.4H143.9V480.2H145.2V478.8H146.5V467.7H147.8V450.5H149.1V428.8H150.4V408.4H151.6V386.6H152.9V375.7H154.2V369.9H155.5V374.9H156.8V391.8H158.1V413.5H159.4V436.9H160.7V460.1H162V476.8H163.3V484.4H164.5V480.4H165.8V468.7H167.1V451.5H168.4V424.1H169.7V402.2H171V383.7H172.3V371.4H173.6V371.1H174.9V378.7H176.2V395.9H177.4V418.6H178.7V440.6H180V462.3H181.3V476.9H182.6V482.5H183.9V479H185.2V464.5H186.5V446.4H187.8V423.9H189.1V401.1H190.3V382.7H191.6V370.2H192.9V374.5H194.2V381.3H195.5V399.1H196.8V423.1H198.1V442.8H199.4V464.7H200.7V477.4H202V481.4H203.2V475.3H204.5V462.8H205.8V441.5H207.1V420.1H208.4V398.7H209.7V379.4H211V371.9H212.3V372.1H213.6V382H214.9V400.5H216.1V424.7H217.4V447.7H218.7V465.7H220V479.3H221.3V483.6H222.6V474.9H223.9V459.7H225.2V441H226.5V417H227.8V392.1H229V376.6H230.3V371.3H231.6V375.5H232.9V387.4H234.2V405.6H235.5V430H236.8V450.6H238.1V471.6H239.4V486.1H240.7V491.9H241.9V483.1H243.2V462.8H244.5V440.2H245.8V413.3H247.1V387.8H248.4V370.3H249.7V363.9H251V366H252.3V380.7H253.6V405.7H254.8V434H256.1V461.4H257.4V482.7H258.7V495.9H260V495.1H261.3V482.8H262.6V461.5H263.9V432.3H265.2V402.7H266.5V374H267.7V358.8H269V356.3H270.3V362.1H271.6V378.9H272.9V406H274.2V433.9H275.5V459.2H276.8V479.5H278.1V491.6H279.4V489.9H280.6V479H281.9V452.6H283.2V423.3H284.5V395.4H285.8V370.6H287.1V354.7H288.4V335.7H289.7V347.8H291V370H292.3V404.7H293.5V442.3H294.8V480.7H296.1V508.4H297.4V520.1H298.7V518H300V496.9H301.3V465H302.6V423.8H303.9V383.1H305.2V351.8H306.4V332.2H307.7V332.6H309V348.6H310.3V376.7H311.6V414H312.9V450.1H314.2V483.8H315.5V506.3H316.8V517.5H318.1V509.7H319.3V486.6H320.6V455.2H321.9V417.4H323.2V378.7H324.5V353.6H325.8V337.9H327.1V338.7H328.4V354.2H329.7V384.4H331V419.3H332.2V455.8H333.5V483.5H334.8V504.4H336.1V512.3H337.4V501H338.7V479.1H340V446.1H341.3V414.6H342.6V380.8H343.9V355.6H345.1V343.5H346.4V348.6H347.7V364.6H349V392.2H350.3V423H351.6V457.4H352.9V482.2H354.2V498.2H355.5V504H356.8V492H358V470.5H359.3V438.9H360.6V403.4H361.9V375.6H363.2V350.8H364.5V342.8H365.8V341.5H367.1V359.1H368.4V389.6H369.7V422.9H370.9V455H372.2V479.4H373.5V496.5H374.8V495.3H376.1V484.1H377.4V460.6H378.7V430.3H380V398.9H381.3V368.3H382.6V349.5H383.8V342H385.1V344.8H386.4V364.9H387.7V394.9H389V428.4H390.3V461.9H391.6V484.9H392.9V501.8H394.2V501.8H395.5V486.9H396.7V460.2H398V429.3H399.3V395.1H400.6V367.3H401.9V347.6H403.2V343.6H404.5V350.9H405.8V374H407.1V399.9H408.4V434.9H409.6V467.8H410.9V489H412.2V502.9H413.5V498.3H414.8V483.9H416.1V456.4H417.4V424.5H418.7V392.6H420V365.3H421.3V348.3H422.5V347.9H423.8V355.8H425.1V376.9H426.4V409.2H427.7V441.9H429V472H430.3V494H431.6V500.3H432.9V498.1H434.2V480.9H435.4V452.6H436.7V420.9H438V386H439.3V363.5H440.6V351.5H441.9V352.2H443.2V364.6H444.5V386.9H445.8V415.2H447.1V445.9H448.3V468.1H449.6V487.9H450.9V495.4H452.2V487.3H453.5V471.6H454.8V448.4H456.1V418.8H457.4V390.2H458.7V365.3H460V356.6H461.2V353.5H462.5V366H463.8V389.8H465.1V422.8H466.4V449.7H467.7V474.8H469V493.1H470.3V497.5H471.6V489.6H472.9V470.7H474.1V444.5H475.4V413.6H476.7V383.9H478V364.1H479.3V354.7H480.6V359.2H481.9V375H483.2V397.6H484.5V423.4H485.8V452.5H487V476.9H488.3V490.2H489.6V490.9H490.9V482.9H492.2V462.2H493.5V436.1H494.8V411.1H496.1V386.5H497.4V369.6H498.7V361.9H499.9V368.1H501.2V381.1H502.5V403.5H503.8V428.9H505.1V452.1H506.4V472.2H507.7V480.2H509V482H510.3V475H511.6V457.4H512.8V432.6H514.1V407.8H515.4V385.4H516.7V372.8H518V368.1H519.3V370.5H520.6V386.9H521.9V407.5H523.2V431H524.5V451.6H525.7V470.4H527V477.1H528.3V479.6H529.6V467.8H530.9V448.7H532.2V429.3H533.5V406.2H534.8V384.7H536.1V375.2H537.4V363.9H538.6V371.9H539.9V388.6H541.2V407H542.5V435.3H543.8V457.1H545.1V474.3H546.4V481.4H547.7V480.8H549V467.2H550.3V447.5H551.5V424H552.8V398.9H554.1V382H555.4V366.5H556.7V363.1H558V371.8H559.3V389.4H560.6V413.7H561.9V439.1H563.2V460.8H564.4V477H565.7V484.4H567V481.6H568.3V467.8H569.6V445.2H570.9V418.5H572.2V398.7H573.5V377.8H574.8V365.9H576.1V371.3H577.3V379H578.6V394.9H579.9V417.1H581.2V439.8H582.5V459.1H583.8V471.7H585.1V477.8H586.4V474.1H587.7V459.5H589V440.4H590.2V415.5H591.5V396.2H592.8V379.8H594.1V369.8H595.4V362.1H596.7V375.8H598V394.4H599.3V420.9H600.6V445.6H601.9V468.6H603.1V481.7H604.4V484.3H605.7V478.9H607V462.1H608.3V439.8H609.6V412.7H610.9V388.7H612.2V372.3H613.5V364.2H614.8V366.8H616V379.7H617.3V399.7H618.6V425.1H619.9V450.3H621.2V470.4H622.5V482.6H623.8V484.9H625.1V479.1H626.4V458.9H627.7V435H628.9V409.3H630.2V386.6H631.5V370.6H632.8V362.3H634.1V369.7H635.4V385H636.7V402.8H638V428.1H639.3V450.6H640.6V469.8H641.8V480.6H643.1V479.8H644.4V469.8H645.7V451.9H647V430.1H648.3V407.6H649.6V384.8H650.9V373.3H652.2V368.6H653.5V374.3H654.7V387.2H656V408.1H657.3V430.5H658.6V452.9H659.9V468.4H661.2V479.3H662.5V480.1H663.8V468.2H665.1V450.4H666.4V426.4H667.6V406H668.9V384.1H670.2V373.2H671.5V368.1H672.8V373.4H674.1V390.9H675.4V411.2H676.7V435.1H678V457.3H679.3V472.9H680.5V480.1H681.8V478.8H683.1V466H684.4V447.4H685.7V423.4H687V399.3H688.3V381.2H689.6V370H690.9V365.9H692.2V375.5H693.4V389.4H694.7V414.4H696V436.6H697.3V460.1H698.1"/>
</g>
<path fill="#333" d="M118.2 52.6h1.6v1.6h-1.6zM118.2 65.4h1.6v1.6h-1.6zM118.2 78.3h1.6v1.6h-1.6zM118.2 91.2h1.6v1.6h-1.6zM118.2 104.1h1.6v1.6h-1.6zM118.2 116.9h1.6v1.6h-1.6zM118.2 129.8h1.6v1.6h-1.6zM118.2 142.7h1.6v1.6h-1.6zM118.2 155.6h1.6v1.6h-1.6zM118.2 168.4h1.6v1.6h-1.6zM118.2 181.3h1.6v1.6h-1.6zM118.2 194.2h1.6v1.6h-1.6zM118.2 207.1h1.6v1.6h-1.6zM118.2 219.9h1.6v1.6h-1.6zM118.2 232.8h1.6v1.6h-1.6zM118.2 245.7h1.6v1.6h-1.6zM118.2 258.6h1.6v1.6h-1.6zM118.2 271.4h1.6v1.6h-1.6zM118.2 284.3h1.6v1.6h-1.6zM118.2 297.2h1.6v1.6h-1.6zM118.2 310.1h1.6v1.6h-1.6zM118.2 322.9h1.6v1.6h-1.6zM118.2 335.8h1.6v1.6h-1.6zM118.2 348.7h1.6v1.6h-1.6zM118.2 361.6h1.6v1.6h-1.6zM118.2 374.4h1.6v1.6h-1.6zM118.2 387.3h1.6v1.6h-1.6zM118.2 400.2h1.6v1.6h-1.6zM118.2 413h1.6v1.6h-1.6zM118.2 425.9h1.6v1.6h-1.6zM118.2 438.8h1.6v1.6h-1.6zM118.2 451.7h1.6v1.6h-1.6zM118.2 464.5h1.6v1.6h-1.6zM118.2 477.4h1.6v1.6h-1.6zM118.2 490.3h1.6v1.6h-1.6zM118.2 503.2h1.6v1.6h-1.6zM118.2 516h1.6v1.6h-1.6zM118.2 528.9h1.6v1.6h-1.6zM118.2 541.8h1.6v1.6h-1.6zM182.6 52.6h1.6v1.6h-1.6zM182.6 65.4h1.6v1.6h-1.6zM182.6 78.3h1.6v1.6h-1.6zM182.6 91.2h1.6v1.6h-1.6zM182.6 104.1h1.6v1.6h-1.6zM182.6 116.9h1.6v1.6h-1.6zM182.6 129.8h1.6v1.6h-1.6zM182.6 142.7h1.6v1.6h-1.6zM182.6 155.6h1.6v1.6h-1.6zM182.6 168.4h1.6v1.6h-1.6zM182.6 181.3h1.6v1.6h-1.6zM182.6 194.2h1.6v1.6h-1.6zM182.6 207.1h1.6v1.6h-1.6zM182.6 219.9h1.6v1.6h-1.6zM182.6 232.8h1.6v1.6h-1.6zM182.6 245.7h1.6v1.6h-1.6zM182.6 258.6h1.6v1.6h-1.6zM182.6 271.4h1.6v1.6h-1.6zM182.6 284.3h1.6v1.6h-1.6zM182.6 297.2h1.6v1.6h-1.6zM182.6 310.1h1.6v1.6h-1.6zM182.6 322.9h1.6v1.6h-1.6zM182.6 335.8h1.6v1.6h-1.6zM182.6 348.7h1.6v1.6h-1.6zM182.6 361.6h1.6v1.6h-1.6zM182.6 374.4h1.6v1.6h-1.6zM182.6 387.3h1.6v1.6h-1.6zM182.6 400.2h1.6v1.6h-1.6zM182.6 413h1.6v1.6h-1.6zM182.6 425.9h1.6v1.6h-1.6zM182.6 438.8h1.6v1.6h-1.6zM182.6 451.7h1.6v1.6h-1.6zM182.6 464.5h1.6v1.6h-1.6zM182.6 477.4h1.6v1.6h-1.6zM182.6 490.3h1.6v1.6h-1.6zM182.6 503.2h1.6v1.6h-1.6zM182.6 516h1.6v1.6h-1.6zM182.6 528.9h1.6v1.6h-1.6zM182.6 541.8h1.6v1.6h-1.6zM246.9 52.6h1.6v1.6h-1.6zM246.9 65.4h1.6v1.6h-1.6zM246.9 78.3h1.6v1.6h-1.6zM246.9 91.2h1.6v1.6h-1.6zM246.9 104.1h1.6v1.6h-1.6zM246.9 116.9h1.6v1.6h-1.6zM246.9 129.8h1.6v1.6h-1.6zM246.9 142.7h1.6v1.6h-1.6zM246.9 155.6h1.6v1.6h-1.6zM246.9 168.4h1.6v1.6h-1.6zM246.9 181.3h1.6v1.6h-1.6zM246.9 194.2h1.6v1.6h-1.6zM246.9 207.1h1.6v1.6h-1.6zM246.9 219.9h1.6v1.6h-1.6zM246.9 232.8h1.6v1.6h-1.6zM246.9 245.7h1.6v1.6h-1.6zM246.9 258.6h1.6v1.6h-1.6zM246.9 271.4h1.6v1.6h-1.6zM246.9 284.3h1.6v1.6h-1.6zM246.9 297.2h1.6v1.6h-1.6zM246.9 310.1h1.6v1.6h-1.6zM246.9 322.9h1.6v1.6h-1.6zM246.9 335.8h1.6v1.6h-1.6zM246.9 348.7h1.6v1.6h-1.6zM246.9 361.6h1.6v1.6h-1.6zM246.9 374.4h1.6v1.6h-1.6zM246.9 387.3h1.6v1.6h-1.6zM246.9 400.2h1.6v1.6h-1.6zM246.9 413h1.6v1.6h-1.6zM246.9 425.9h1.6v1.6h-1.6zM246.9 438.8h1.6v1.6h-1.6zM246.9 451.7h1.6v1.6h-1.6zM246.9 464.5h1.6v1.6h-1.6zM246.9 477.4h1.6v1.6h-1.6zM246.9 490.3h1.6v1.6h-1.6zM246.9 503.2h1.6v1.6h-1.6zM246.9 516h1.6v1.6h-1.6zM246.9 528.9h1.6v1.6h-1.6zM246.9 541.8h1.6v1.6h-1.6zM311.3 52.6h1.6v1.6h-1.6zM311.3 65.4h1.6v1.6h-1.6zM311.3 78.3h1.6v1.6h-1.6zM311.3 91.2h1.6v1.6h-1.6zM311.3 104.1h1.6v1.6h-1.6zM311.3 116.9h1.6v1.6h-1.6zM311.3 129.8h1.6v1.6h-1.6zM311.3 142.7h1.6v1.6h-1.6zM311.3 155.6h1.6v1.6h-1.6zM311.3 168.4h1.6v1.6h-1.6zM311.3 181.3h1.6v1.6h-1.6zM311.3 194.2h1.6v1.6h-1.6zM311.3 207.1h1.6v1.6h-1.6zM311.3 219.9h1.6v1.6h-1.6zM311.3 232.8h1.6v1.6h-1.6zM311.3 245.7h1.6v1.6h-1.6zM311.3 258.6h1.6v1.6h-1.6zM311.3 271.4h1.6v1.6h-1.6zM311.3 284.3h1.6v1.6h-1.6zM311.3 297.2h1.6v1.6h-1.6zM311.3 310.1h1.6v1.6h-1.6zM311.3 322.9h1.6v1.6h-1.6zM311.3 335.8h1.6v1.6h-1.6zM311.3 348.7h1.6v1.6h-1.6zM311.3 361.6h1.6v1.6h-1.6zM311.3 374.4h1.6v1.6h-1.6zM311.3 387.3h1.6v1.6h-1.6zM311.3 400.2h1.6v1.6h-1.6zM311.3 413h1.6v1.6h-1.6zM311.3 425.9h1.6v1.6h-1.6zM311.3 438.8h1.6v1.6h-1.6zM311.3 451.7h1.6v1.6h-1.6zM311.3 464.5h1.6v1.6h-1.6zM311.3 477.4h1.6v1.6h-1.6zM311.3 490.3h1.6v1.6h-1.6zM311.3 503.2h1.6v1.6h-1.6zM311.3 516h1.6v1.6h-1.6zM311.3 528.9h1.6v1.6h-1.6zM311.3 541.8h1.6v1.6h-1.6zM440.1 52.6h1.6v1.6h-1.6zM440.1 65.4h1.6v1.6h-1.6zM440.1 78.3h1.6v1.6h-1.6zM440.1 91.2h1.6v1.6h-1.6zM440.1 104.1h1.6v1.6h-1.6zM440.1 116.9h1.6v1.6h-1.6zM440.1 129.8h1.6v1.6h-1.6zM440.1 142.7h1.6v1.6h-1.6zM440.1 155.6h1.6v1.6h-1.6zM440.1 168.4h1.6v1.6h-1.6zM440.1 181.3h1.6v1.6h-1.6zM440.1 194.2h1.6v1.6h-1.6zM440.1 207.1h1.6v1.6h-1.6zM440.1 219.9h1.6v1.6h-1.6zM440.1 232.8h1.6v1.6h-1.6zM440.1 245.7h1.6v1.6h-1.6zM440.1 258.6h1.6v1.6h-1.6zM440.1 271.4h1.6v1.6h-1.6zM440.1 284.3h1.6v1.6h-1.6zM440.1 297.2h1.6v1.6h-1.6zM440.1 310.1h1.6v1.6h-1.6zM440.1 322.9h1.6v1.6h-1.6zM440.1 335.8h1.6v1.6h-1.6zM440.1 348.7h1.6v1.6h-1.6zM440.1 361.6h1.6v1.6h-1.6zM440.1 374.4h1.6v1.6h-1.6zM440.1 387.3h1.6v1.6h-1.6zM440.1 400.2h1.6v1.6h-1.6zM440.1 413h1.6v1.6h-1.6zM440.1 425.9h1.6v1.6h-1.6zM440.1 438.8h1.6v1.6h-1.6zM440.1 451.7h1.6v1.6h-1.6zM440.1 464.5h1.6v1.6h-1.6zM440.1 477.4h1.6v1.6h-1.6zM440.1 490.3h1.6v1.6h-1.6zM440.1 503.2h1.6v1.6h-1.6zM440.1 516h1.6v1.6h-1.6zM440.1 528.9h1.6v1.6h-1.6zM440.1 541.8h1.6v1.6h-1.6zM504.5 52.6h1.6v1.6h-1.6zM504.5 65.4h1.6v1.6h-1.6zM504.5 78.3h1.6v1.6h-1.6zM504.5 91.2h1.6v1.6h-1.6zM504.5 104.1h1.6v1.6h-1.6zM504.5 116.9h1.6v1.6h-1.6zM504.5 129.8h1.6v1.6h-1.6zM504.5 142.7h1.6v1.6h-1.6zM504.5 155.6h1.6v1.6h-1.6zM504.5 168.4h1.6v1.6h-1.6zM504.5 181.3h1.6v1.6h-1.6zM504.5 194.2h1.6v1.6h-1.6zM504.5 207.1h1.6v1.6h-1.6zM504.5 219.9h1.6v1.6h-1.6zM504.5 232.8h1.6v1.6h-1.6zM504.5 245.7h1.6v1.6h-1.6zM504.5 258.6h1.6v1.6h-1.6zM504.5 271.4h1.6v1.6h-1.6zM504.5 284.3h1.6v1.6h-1.6zM504.5 297.2h1.6v1.6h-1.6zM504.5 310.1h1.6v1.6h-1.6zM504.5 322.9h1.6v1.6h-1.6zM504.5 335.8h1.6v1.6h-1.6zM504.5 348.7h1.6v1.6h-1.6zM504.5 361.6h1.6v1.6h-1.6zM504.5 374.4h1.6v1.6h-1.6zM504.5 387.3h1.6v1.6h-1.6zM504.5 400.2h1.6v1.6h-1.6zM504.5 413h1.6v1.6h-1.6zM504.5 425.9h1.6v1.6h-1.6zM504.5 438.8h1.6v1.6h-1.6zM504.5 451.7h1.6v1.6h-1.6zM504.5 464.5h1.6v1.6h-1.6zM504.5 477.4h1.6v1.6h-1.6zM504.5 490.3h1.6v1.6h-1.6zM504.5 503.2h1.6v1.6h-1.6zM504.5 516h1.6v1.6h-1.6zM504.5 528.9h1.6v1.6h-1.6zM504.5 541.8h1.6v1.6h-1.6zM568.8 52.6h1.6v1.6h-1.6zM568.8 65.4h1.6v1.6h-1.6zM568.8 78.3h1.6v1.6h-1.6zM568.8 91.2h1.6v1.6h-1.6zM568.8 104.1h1.6v1.6h-1.6zM568.8 116.9h1.6v1.6h-1.6zM568.8 129.8h1.6v1.6h-1.6zM568.8 142.7h1.6v1.6h-1.6zM568.8 155.6h1.6v1.6h-1.6zM568.8 168.4h1.6v1.6h-1.6zM568.8 181.3h1.6v1.6h-1.6zM568.8 194.2h1.6v1.6h-1.6zM568.8 207.1h1.6v1.6h-1.6zM568.8 219.9h1.6v1.6h-1.6zM568.8 232.8h1.6v1.6h-1.6zM568.8 245.7h1.6v1.6h-1.6zM568.8 258.6h1.6v1.6h-1.6zM568.8 271.4h1.6v1.6h-1.6zM568.8 284.3h1.6v1.6h-1.6zM568.8 297.2h1.6v1.6h-1.6zM568.8 310.1h1.6v1.6h-1.6zM568.8 322.9h1.6v1.6h-1.6zM568.8 335.8h1.6v1.6h-1.6zM568.8 348.7h1.6v1.6h-1.6zM568.8 361.6h1.6v1.6h-1.6zM568.8 374.4h1.6v1.6h-1.6zM568.8 387.3h1.6v1.6h-1.6zM568.8 400.2h1.6v1.6h-1.6zM568.8 413h1.6v1.6h-1.6zM568.8 425.9h1.6v1.6h-1.6zM568.8 438.8h1.6v1.6h-1.6zM568.8 451.7h1.6v1.6h-1.6zM568.8 464.5h1.6v1.6h-1.6zM568.8 477.4h1.6v1.6h-1.6zM568.8 490.3h1.6v1.6h-1.6zM568.8 503.2h1.6v1.6h-1.6zM568.8 516h1.6v1.6h-1.6zM568.8 528.9h1.6v1.6h-1.6zM568.8 541.8h1.6v1.6h-1.6zM633.2 52.6h1.6v1.6h-1.6zM633.2 65.4h1.6v1.6h-1.6zM633.2 78.3h1.6v1.6h-1.6zM633.2 91.2h1.6v1.6h-1.6zM633.2 104.1h1.6v1.6h-1.6zM633.2 116.9h1.6v1.6h-1.6zM633.2 129.8h1.6v1.6h-1.6zM633.2 142.7h1.6v1.6h-1.6zM633.2 155.6h1.6v1.6h-1.6zM633.2 168.4h1.6v1.6h-1.6zM633.2 181.3h1.6v1.6h-1.6zM633.2 194.2h1.6v1.6h-1.6zM633.2 207.1h1.6v1.6h-1.6zM633.2 219.9h1.6v1.6h-1.6zM633.2 232.8h1.6v1.6h-1.6zM633.2 245.7h1.6v1.6h-1.6zM633.2 258.6h1.6v1.6h-1.6zM633.2 271.4h1.6v1.6h-1.6zM633.2 284.3h1.6v1.6h-1.6zM633.2 297.2h1.6v1.6h-1.6zM633.2 310.1h1.6v1.6h-1.6zM633.2 322.9h1.6v1.6h-1.6zM633.2 335.8h1.6v1.6h-1.6zM633.2 348.7h1.6v1.6h-1.6zM633.2 361.6h1.6v1.6h-1.6zM633.2 374.4h1.6v1.6h-1.6zM633.2 387.3h1.6v1.6h-1.6zM633.2 400.2h1.6v1.6h-1.6zM633.2 413h1.6v1.6h-1.6zM633.2 425.9h1.6v1.6h-1.6zM633.2 438.8h1.6v1.6h-1.6zM633.2 451.7h1.6v1.6h-1.6zM633.2 464.5h1.6v1.6h-1.6zM633.2 477.4h1.6v1.6h-1.6zM633.2 490.3h1.6v1.6h-1.6zM633.2 503.2h1.6v1.6h-1.6zM633.2 516h1.6v1.6h-1.6zM633.2 528.9h1.6v1.6h-1.6zM633.2 541.8h1.6v1.6h-1.6zM66.7 104.1h1.6v1.6h-1.6zM79.6 104.1h1.6v1.6h-1.6zM92.4 104.1h1.6v1.6h-1.6zM105.3 104.1h1.6v1.6h-1.6zM131.1 104.1h1.6v1.6h-1.6zM143.9 104.1h1.6v1.6h-1.6zM156.8 104.1h1.6v1.6h-1.6zM169.7 104.1h1.6v1.6h-1.6zM195.4 104.1h1.6v1.6h-1.6zM208.3 104.1h1.6v1.6h-1.6zM221.2 104.1h1.6v1.6h-1.6zM234.1 104.1h1.6v1.6h-1.6zM259.8 104.1h1.6v1.6h-1.6zM272.7 104.1h1.6v1.6h-1.6zM285.6 104.1h1.6v1.6h-1.6zM298.4 104.1h1.6v1.6h-1.6zM324.2 104.1h1.6v1.6h-1.6zM337.1 104.1h1.6v1.6h-1.6zM349.9 104.1h1.6v1.6h-1.6zM362.8 104.1h1.6v1.6h-1.6zM388.6 104.1h1.6v1.6h-1.6zM401.5 104.1h1.6v1.6h-1.6zM414.3 104.1h1.6v1.6h-1.6zM427.2 104.1h1.6v1.6h-1.6zM453 104.1h1.6v1.6h-1.6zM465.8 104.1h1.6v1.6h-1.6zM478.7 104.1h1.6v1.6h-1.6zM491.6 104.1h1.6v1.6h-1.6zM517.3 104.1h1.6v1.6h-1.6zM530.2 104.1h1.6v1.6h-1.6zM543.1 104.1h1.6v1.6h-1.6zM556 104.1h1.6v1.6h-1.6zM581.7 104.1h1.6v1.6h-1.6zM594.6 104.1h1.6v1.6h-1.6zM607.5 104.1h1.6v1.6h-1.6zM620.3 104.1h1.6v1.6h-1.6zM646.1 104.1h1.6v1.6h-1.6zM659 104.1h1.6v1.6h-1.6zM671.8 104.1h1.6v1.6h-1.6zM684.7 104.1h1.6v1.6h-1.6zM66.7 168.4h1.6v1.6h-1.6zM79.6 168.4h1.6v1.6h-1.6zM92.4 168.4h1.6v1.6h-1.6zM105.3 168.4h1.6v1.6h-1.6zM131.1 168.4h1.6v1.6h-1.6zM143.9 168.4h1.6v1.6h-1.6zM156.8 168.4h1.6v1.6h-1.6zM169.7 168.4h1.6v1.6h-1.6zM195.4 168.4h1.6v1.6h-1.6zM208.3 168.4h1.6v1.6h-1.6zM221.2 168.4h1.6v1.6h-1.6zM234.1 168.4h1.6v1.6h-1.6zM259.8 168.4h1.6v1.6h-1.6zM272.7 168.4h1.6v1.6h-1.6zM285.6 168.4h1.6v1.6h-1.6zM298.4 168.4h1.6v1.6h-1.6zM324.2 168.4h1.6v1.6h-1.6zM337.1 168.4h1.6v1.6h-1.6zM349.9 168.4h1.6v1.6h-1.6zM362.8 168.4h1.6v1.6h-1.6zM388.6 168.4h1.6v1.6h-1.6zM401.5 168.4h1.6v1.6h-1.6zM414.3 168.4h1.6v1.6h-1.6zM427.2 168.4h1.6v1.6h-1.6zM453 168.4h1.6v1.6h-1.6zM465.8 168.4h1.6v1.6h-1.6zM478.7 168.4h1.6v1.6h-1.6zM491.6 168.4h1.6v1.6h-1.6zM517.3 168.4h1.6v1.6h-1.6zM530.2 168.4h1.6v1.6h-1.6zM543.1 168.4h1.6v1.6h-1.6zM556 168.4h1.6v1.6h-1.6zM581.7 168.4h1.6v1.6h-1.6zM594.6 168.4h1.6v1.6h-1.6zM607.5 168.4h1.6v1.6h-1.6zM620.3 168.4h1.6v1.6h-1.6zM646.1 168.4h1.6v1.6h-1.6zM659 168.4h1.6v1.6h-1.6zM671.8 168.4h1.6v1.6h-1.6zM684.7 168.4h1.6v1.6h-1.6zM66.7 232.8h1.6v1.6h-1.6zM79.6 232.8h1.6v1.6h-1.6zM92.4 232.8h1.6v1.6h-1.6zM105.3 232.8h1.6v1.6h-1.6zM131.1 232.8h1.6v1.6h-1.6zM143.9 232.8h1.6v1.6h-1.6zM156.8 232.8h1.6v1.6h-1.6zM169.7 232.8h1.6v1.6h-1.6zM195.4 232.8h1.6v1.6h-1.6zM208.3 232.8h1.6v1.6h-1.6zM221.2 232.8h1.6v1.6h-1.6zM234.1 232.8h1.6v1.6h-1.6zM259.8 232.8h1.6v1.6h-1.6zM272.7 232.8h1.6v1.6h-1.6zM285.6 232.8h1.6v1.6h-1.6zM298.4 232.8h1.6v1.6h-1.6zM324.2 232.8h1.6v1.6h-1.6zM337.1 232.8h1.6v1.6h-1.6zM349.9 232.8h1.6v1.6h-1.6zM362.8 232.8h1.6v1.6h-1.6zM388.6 232.8h1.6v1.6h-1.6zM401.5 232.8h1.6v1.6h-1.6zM414.3 232.8h1.6v1.6h-1.6zM427.2 232.8h1.6v1.6h-1.6zM453 232.8h1.6v1.6h-1.6zM465.8 232.8h1.6v1.6h-1.6zM478.7 232.8h1.6v1.6h-1.6zM491.6 232.8h1.6v1.6h-1.6zM517.3 232.8h1.6v1.6h-1.6zM530.2 232.8h1.6v1.6h-1.6zM543.1 232.8h1.6v1.6h-1.6zM556 232.8h1.6v1.6h-1.6zM581.7 232.8h1.6v1.6h-1.6zM594.6 232.8h1.6v1.6h-1.6zM607.5 232.8h1.6v1.6h-1.6zM620.3 232.8h1.6v1.6h-1.6zM646.1 232.8h1.6v1.6h-1.6zM659 232.8h1.6v1.6h-1.6zM671.8 232.8h1.6v1.6h-1.6zM684.7 232.8h1.6v1.6h-1.6zM66.7 361.6h1.6v1.6h-1.6zM79.6 361.6h1.6v1.6h-1.6zM92.4 361.6h1.6v1.6h-1.6zM105.3 361.6h1.6v1.6h-1.6zM131.1 361.6h1.6v1.6h-1.6zM143.9 361.6h1.6v1.6h-1.6zM156.8 361.6h1.6v1.6h-1.6zM169.7 361.6h1.6v1.6h-1.6zM195.4 361.6h1.6v1.6h-1.6zM208.3 361.6h1.6v1.6h-1.6zM221.2 361.6h1.6v1.6h-1.6zM234.1 361.6h1.6v1.6h-1.6zM259.8 361.6h1.6v1.6h-1.6zM272.7 361.6h1.6v1.6h-1.6zM285.6 361.6h1.6v1.6h-1.6zM298.4 361.6h1.6v1.6h-1.6zM324.2 361.6h1.6v1.6h-1.6zM337.1 361.6h1.6v1.6h-1.6zM349.9 361.6h1.6v1.6h-1.6zM362.8 361.6h1.6v1.6h-1.6zM388.6 361.6h1.6v1.6h-1.6zM401.5 361.6h1.6v1.6h-1.6zM414.3 361.6h1.6v1.6h-1.6zM427.2 361.6h1.6v1.6h-1.6zM453 361.6h1.6v1.6h-1.6zM465.8 361.6h1.6v1.6h-1.6zM478.7 361.6h1.6v1.6h-1.6zM491.6 361.6h1.6v1.6h-1.6zM517.3 361.6h1.6v1.6h-1.6zM530.2 361.6h1.6v1.6h-1.6zM543.1 361.6h1.6v1.6h-1.6zM556 361.6h1.6v1.6h-1.6zM581.7 361.6h1.6v1.6h-1.6zM594.6 361.6h1.6v1.6h-1.6zM607.5 361.6h1.6v1.6h-1.6zM620.3 361.6h1.6v1.6h-1.6zM646.1 361.6h1.6v1.6h-1.6zM659 361.6h1.6v1.6h-1.6zM671.8 361.6h1.6v1.6h-1.6zM684.7 361.6h1.6v1.6h-1.6zM66.7 425.9h1.6v1.6h-1.6zM79.6 425.9h1.6v1.6h-1.6zM92.4 425.9h1.6v1.6h-1.6zM105.3 425.9h1.6v1.6h-1.6zM131.1 425.9h1.6v1.6h-1.6zM143.9 425.9h1.6v1.6h-1.6zM156.8 425.9h1.6v1.6h-1.6zM169.7 425.9h1.6v1.6h-1.6zM195.4 425.9h1.6v1.6h-1.6zM208.3 425.9h1.6v1.6h-1.6zM221.2 425.9h1.6v1.6h-1.6zM234.1 425.9h1.6v1.6h-1.6zM259.8 425.9h1.6v1.6h-1.6zM272.7 425.9h1.6v1.6h-1.6zM285.6 425.9h1.6v1.6h-1.6zM298.4 425.9h1.6v1.6h-1.6zM324.2 425.9h1.6v1.6h-1.6zM337.1 425.9h1.6v1.6h-1.6zM349.9 425.9h1.6v1.6h-1.6zM362.8 425.9h1.6v1.6h-1.6zM388.6 425.9h1.6v1.6h-1.6zM401.5 425.9h1.6v1.6h-1.6zM414.3 425.9h1.6v1.6h-1.6zM427.2 425.9h1.6v1.6h-1.6zM453 425.9h1.6v1.6h-1.6zM465.8 425.9h1.6v1.6h-1.6zM478.7 425.9h1.6v1.6h-1.6zM491.6 425.9h1.6v1.6h-1.6zM517.3 425.9h1.6v1.6h-1.6zM530.2 425.9h1.6v1.6h-1.6zM543.1 425.9h1.6v1.6h-1.6zM556 425.9h1.6v1.6h-1.6zM581.7 425.9h1.6v1.6h-1.6zM594.6 425.9h1.6v1.6h-1.6zM607.5 425.9h1.6v1.6h-1.6zM620.3 425.9h1.6v1.6h-1.6zM646.1 425.9h1.6v1.6h-1.6zM659 425.9h1.6v1.6h-1.6zM671.8 425.9h1.6v1.6h-1.6zM684.7 425.9h1.6v1.6h-1.6zM66.7 490.3h1.6v1.6h-1.6zM79.6 490.3h1.6v1.6h-1.6zM92.4 490.3h1.6v1.6h-1.6zM105.3 490.3h1.6v1.6h-1.6zM131.1 490.3h1.6v1.6h-1.6zM143.9 490.3h1.6v1.6h-1.6zM156.8 490.3h1.6v1.6h-1.6zM169.7 490.3h1.6v1.6h-1.6zM195.4 490.3h1.6v1.6h-1.6zM208.3 490.3h1.6v1.6h-1.6zM221.2 490.3h1.6v1.6h-1.6zM234.1 490.3h1.6v1.6h-1.6zM259.8 490.3h1.6v1.6h-1.6zM272.7 490.3h1.6v1.6h-1.6zM285.6 490.3h1.6v1.6h-1.6zM298.4 490.3h1.6v1.6h-1.6zM324.2 490.3h1.6v1.6h-1.6zM337.1 490.3h1.6v1.6h-1.6zM349.9 490.3h1.6v1.6h-1.6zM362.8 490.3h1.6v1.6h-1.6zM388.6 490.3h1.6v1.6h-1.6zM401.5 490.3h1.6v1.6h-1.6zM414.3 490.3h1.6v1.6h-1.6zM427.2 490.3h1.6v1.6h-1.6zM453 490.3h1.6v1.6h-1.6zM465.8 490.3h1.6v1.6h-1.6zM478.7 490.3h1.6v1.6h-1.6zM491.6 490.3h1.6v1.6h-1.6zM517.3 490.3h1.6v1.6h-1.6zM530.2 490.3h1.6v1.6h-1.6zM543.1 490.3h1.6v1.6h-1.6zM556 490.3h1.6v1.6h-1.6zM581.7 490.3h1.6v1.6h-1.6zM594.6 490.3h1.6v1.6h-1.6zM607.5 490.3h1.6v1.6h-1.6zM620.3 490.3h1.6v1.6h-1.6zM646.1 490.3h1.6v1.6h-1.6zM659 490.3h1.6v1.6h-1.6zM671.8 490.3h1.6v1.6h-1.6zM684.7 490.3h1.6v1.6h-1.6zM375.9 42.5h1.3v1.1h-1.3zM375.9 45.1h1.3v1.1h-1.3zM375.9 47.7h1.3v1.1h-1.3zM375.9 50.2h1.3v1.1h-1.3zM375.9 52.8h1.3v1.1h-1.3zM375.9 55.4h1.3v1.1h-1.3zM375.9 58h1.3v1.1h-1.3zM375.9 60.5h1.3v1.1h-1.3zM375.9 63.1h1.3v1.1h-1.3zM375.9 65.7h1.3v1.1h-1.3zM375.9 68.3h1.3v1.1h-1.3zM375.9 70.8h1.3v1.1h-1.3zM375.9 73.4h1.3v1.1h-1.3zM375.9 76h1.3v1.1h-1.3zM375.9 78.6h1.3v1.1h-1.3zM375.9 81.1h1.3v1.1h-1.3zM375.9 83.7h1.3v1.1h-1.3zM375.9 86.3h1.3v1.1h-1.3zM375.9 88.9h1.3v1.1h-1.3zM375.9 91.4h1.3v1.1h-1.3zM375.9 94h1.3v1.1h-1.3zM375.9 96.6h1.3v1.1h-1.3zM375.9 99.2h1.3v1.1h-1.3zM375.9 101.7h1.3v1.1h-1.3zM375.9 104.3h1.3v1.1h-1.3zM375.9 106.9h1.3v1.1h-1.3zM375.9 109.5h1.3v1.1h-1.3zM375.9 112h1.3v1.1h-1.3zM375.9 114.6h1.3v1.1h-1.3zM375.9 117.2h1.3v1.1h-1.3zM375.9 119.8h1.3v1.1h-1.3zM375.9 122.3h1.3v1.1h-1.3zM375.9 124.9h1.3v1.1h-1.3zM375.9 127.5h1.3v1.1h-1.3zM375.9 130.1h1.3v1.1h-1.3zM375.9 132.6h1.3v1.1h-1.3zM375.9 135.2h1.3v1.1h-1.3zM375.9 137.8h1.3v1.1h-1.3zM375.9 140.4h1.3v1.1h-1.3zM375.9 142.9h1.3v1.1h-1.3zM375.9 145.5h1.3v1.1h-1.3zM375.9 148.1h1.3v1.1h-1.3zM375.9 150.7h1.3v1.1h-1.3zM375.9 153.2h1.3v1.1h-1.3zM375.9 155.8h1.3v1.1h-1.3zM375.9 158.4h1.3v1.1h-1.3zM375.9 161h1.3v1.1h-1.3zM375.9 163.5h1.3v1.1h-1.3zM375.9 166.1h1.3v1.1h-1.3zM375.9 168.7h1.3v1.1h-1.3zM375.9 171.3h1.3v1.1h-1.3zM375.9 173.8h1.3v1.1h-1.3zM375.9 176.4h1.3v1.1h-1.3zM375.9 179h1.3v1.1h-1.3zM375.9 181.6h1.3v1.1h-1.3zM375.9 184.1h1.3v1.1h-1.3zM375.9 186.7h1.3v1.1h-1.3zM375.9 189.3h1.3v1.1h-1.3zM375.9 191.9h1.3v1.1h-1.3zM375.9 194.4h1.3v1.1h-1.3zM375.9 197h1.3v1.1h-1.3zM375.9 199.6h1.3v1.1h-1.3zM375.9 202.2h1.3v1.1h-1.3zM375.9 204.7h1.3v1.1h-1.3zM375.9 207.3h1.3v1.1h-1.3zM375.9 209.9h1.3v1.1h-1.3zM375.9 212.5h1.3v1.1h-1.3zM375.9 215h1.3v1.1h-1.3zM375.9 217.6h1.3v1.1h-1.3zM375.9 220.2h1.3v1.1h-1.3zM375.9 222.8h1.3v1.1h-1.3zM375.9 225.3h1.3v1.1h-1.3zM375.9 227.9h1.3v1.1h-1.3zM375.9 230.5h1.3v1.1h-1.3zM375.9 233.1h1.3v1.1h-1.3zM375.9 235.6h1.3v1.1h-1.3zM375.9 238.2h1.3v1.1h-1.3zM375.9 240.8h1.3v1.1h-1.3zM375.9 243.4h1.3v1.1h-1.3zM375.9 245.9h1.3v1.1h-1.3zM375.9 248.5h1.3v1.1h-1.3zM375.9 251.1h1.3v1.1h-1.3zM375.9 253.7h1.3v1.1h-1.3zM375.9 256.2h1.3v1.1h-1.3zM375.9 258.8h1.3v1.1h-1.3zM375.9 261.4h1.3v1.1h-1.3zM375.9 264h1.3v1.1h-1.3zM375.9 266.5h1.3v1.1h-1.3zM375.9 269.1h1.3v1.1h-1.3zM375.9 271.7h1.3v1.1h-1.3zM375.9 274.3h1.3v1.1h-1.3zM375.9 276.8h1.3v1.1h-1.3zM375.9 279.4h1.3v1.1h-1.3zM375.9 282h1.3v1.1h-1.3zM375.9 284.6h1.3v1.1h-1.3zM375.9 287.1h1.3v1.1h-1.3zM375.9 289.7h1.3v1.1h-1.3zM375.9 292.3h1.3v1.1h-1.3zM375.9 294.9h1.3v1.1h-1.3zM375.9 297.4h1.3v1.1h-1.3zM375.9 300h1.3v1.1h-1.3zM375.9 302.6h1.3v1.1h-1.3zM375.9 305.2h1.3v1.1h-1.3zM375.9 307.7h1.3v1.1h-1.3zM375.9 310.3h1.3v1.1h-1.3zM375.9 312.9h1.3v1.1h-1.3zM375.9 315.5h1.3v1.1h-1.3zM375.9 318h1.3v1.1h-1.3zM375.9 320.6h1.3v1.1h-1.3zM375.9 323.2h1.3v1.1h-1.3zM375.9 325.8h1.3v1.1h-1.3zM375.9 328.3h1.3v1.1h-1.3zM375.9 330.9h1.3v1.1h-1.3zM375.9 333.5h1.3v1.1h-1.3zM375.9 336.1h1.3v1.1h-1.3zM375.9 338.6h1.3v1.1h-1.3zM375.9 341.2h1.3v1.1h-1.3zM375.9 343.8h1.3v1.1h-1.3zM375.9 346.4h1.3v1.1h-1.3zM375.9 348.9h1.3v1.1h-1.3zM375.9 351.5h1.3v1.1h-1.3zM375.9 354.1h1.3v1.1h-1.3zM375.9 356.7h1.3v1.1h-1.3zM375.9 359.2h1.3v1.1h-1.3zM375.9 361.8h1.3v1.1h-1.3zM375.9 364.4h1.3v1.1h-1.3zM375.9 366.9h1.3v1.1h-1.3zM375.9 369.5h1.3v1.1h-1.3zM375.9 372.1h1.3v1.1h-1.3zM375.9 374.7h1.3v1.1h-1.3zM375.9 377.2h1.3v1.1h-1.3zM375.9 379.8h1.3v1.1h-1.3zM375.9 382.4h1.3v1.1h-1.3zM375.9 385h1.3v1.1h-1.3zM375.9 387.5h1.3v1.1h-1.3zM375.9 390.1h1.3v1.1h-1.3zM375.9 392.7h1.3v1.1h-1.3zM375.9 395.3h1.3v1.1h-1.3zM375.9 397.8h1.3v1.1h-1.3zM375.9 400.4h1.3v1.1h-1.3zM375.9 403h1.3v1.1h-1.3zM375.9 405.6h1.3v1.1h-1.3zM375.9 408.1h1.3v1.1h-1.3zM375.9 410.7h1.3v1.1h-1.3zM375.9 413.3h1.3v1.1h-1.3zM375.9 415.9h1.3v1.1h-1.3zM375.9 418.4h1.3v1.1h-1.3zM375.9 421h1.3v1.1h-1.3zM375.9 423.6h1.3v1.1h-1.3zM375.9 426.2h1.3v1.1h-1.3zM375.9 428.7h1.3v1.1h-1.3zM375.9 431.3h1.3v1.1h-1.3zM375.9 433.9h1.3v1.1h-1.3zM375.9 436.5h1.3v1.1h-1.3zM375.9 439h1.3v1.1h-1.3zM375.9 441.6h1.3v1.1h-1.3zM375.9 444.2h1.3v1.1h-1.3zM375.9 446.8h1.3v1.1h-1.3zM375.9 449.3h1.3v1.1h-1.3zM375.9 451.9h1.3v1.1h-1.3zM375.9 454.5h1.3v1.1h-1.3zM375.9 457.1h1.3v1.1h-1.3zM375.9 459.6h1.3v1.1h-1.3zM375.9 462.2h1.3v1.1h-1.3zM375.9 464.8h1.3v1.1h-1.3zM375.9 467.4h1.3v1.1h-1.3zM375.9 469.9h1.3v1.1h-1.3zM375.9 472.5h1.3v1.1h-1.3zM375.9 475.1h1.3v1.1h-1.3zM375.9 477.7h1.3v1.1h-1.3zM375.9 480.2h1.3v1.1h-1.3zM375.9 482.8h1.3v1.1h-1.3zM375.9 485.4h1.3v1.1h-1.3zM375.9 488h1.3v1.1h-1.3zM375.9 490.5h1.3v1.1h-1.3zM375.9 493.1h1.3v1.1h-1.3zM375.9 495.7h1.3v1.1h-1.3zM375.9 498.3h1.3v1.1h-1.3zM375.9 500.8h1.3v1.1h-1.3zM375.9 503.4h1.3v1.1h-1.3zM375.9 506h1.3v1.1h-1.3zM375.9 508.6h1.3v1.1h-1.3zM375.9 511.1h1.3v1.1h-1.3zM375.9 513.7h1.3v1.1h-1.3zM375.9 516.3h1.3v1.1h-1.3zM375.9 518.9h1.3v1.1h-1.3zM375.9 521.4h1.3v1.1h-1.3zM375.9 524h1.3v1.1h-1.3zM375.9 526.6h1.3v1.1h-1.3zM375.9 529.2h1.3v1.1h-1.3zM375.9 531.7h1.3v1.1h-1.3zM375.9 534.3h1.3v1.1h-1.3zM375.9 536.9h1.3v1.1h-1.3zM375.9 539.5h1.3v1.1h-1.3zM375.9 542h1.3v1.1h-1.3zM375.9 544.6h1.3v1.1h-1.3zM375.9 547.2h1.3v1.1h-1.3zM375.9 549.8h1.3v1.1h-1.3zM375.9 552.3h1.3v1.1h-1.3zM56.6 297.3h1.1v1.3h-1.1zM59.2 297.3h1.1v1.3h-1.1zM61.8 297.3h1.1v1.3h-1.1zM64.4 297.3h1.1v1.3h-1.1zM66.9 297.3h1.1v1.3h-1.1zM69.5 297.3h1.1v1.3h-1.1zM72.1 297.3h1.1v1.3h-1.1zM74.7 297.3h1.1v1.3h-1.1zM77.2 297.3h1.1v1.3h-1.1zM79.8 297.3h1.1v1.3h-1.1zM82.4 297.3h1.1v1.3h-1.1zM85 297.3h1.1v1.3h-1.1zM87.5 297.3h1.1v1.3h-1.1zM90.1 297.3h1.1v1.3h-1.1zM92.7 297.3h1.1v1.3h-1.1zM95.3 297.3h1.1v1.3h-1.1zM97.8 297.3h1.1v1.3h-1.1zM100.4 297.3h1.1v1.3h-1.1zM103 297.3h1.1v1.3h-1.1zM105.6 297.3h1.1v1.3h-1.1zM108.1 297.3h1.1v1.3h-1.1zM110.7 297.3h1.1v1.3h-1.1zM113.3 297.3h1.1v1.3h-1.1zM115.9 297.3h1.1v1.3h-1.1zM118.4 297.3h1.1v1.3h-1.1zM121 297.3h1.1v1.3h-1.1zM123.6 297.3h1.1v1.3h-1.1zM126.2 297.3h1.1v1.3h-1.1zM128.7 297.3h1.1v1.3h-1.1zM131.3 297.3h1.1v1.3h-1.1zM133.9 297.3h1.1v1.3h-1.1zM136.5 297.3h1.1v1.3h-1.1zM139 297.3h1.1v1.3h-1.1zM141.6 297.3h1.1v1.3h-1.1zM144.2 297.3h1.1v1.3h-1.1zM146.8 297.3h1.1v1.3h-1.1zM149.3 297.3h1.1v1.3h-1.1zM151.9 297.3h1.1v1.3h-1.1zM154.5 297.3h1.1v1.3h-1.1zM157.1 297.3h1.1v1.3h-1.1zM159.6 297.3h1.1v1.3h-1.1zM162.2 297.3h1.1v1.3h-1.1zM164.8 297.3h1.1v1.3h-1.1zM167.4 297.3h1.1v1.3h-1.1zM169.9 297.3h1.1v1.3h-1.1zM172.5 297.3h1.1v1.3h-1.1zM175.1 297.3h1.1v1.3h-1.1zM177.7 297.3h1.1v1.3h-1.1zM180.2 297.3h1.1v1.3h-1.1zM182.8 297.3h1.1v1.3h-1.1zM185.4 297.3h1.1v1.3h-1.1zM188 297.3h1.1v1.3h-1.1zM190.5 297.3h1.1v1.3h-1.1zM193.1 297.3h1.1v1.3h-1.1zM195.7 297.3h1.1v1.3h-1.1zM198.3 297.3h1.1v1.3h-1.1zM200.8 297.3h1.1v1.3h-1.1zM203.4 297.3h1.1v1.3h-1.1zM206 297.3h1.1v1.3h-1.1zM208.6 297.3h1.1v1.3h-1.1zM211.1 297.3h1.1v1.3h-1.1zM213.7 297.3h1.1v1.3h-1.1zM216.3 297.3h1.1v1.3h-1.1zM218.9 297.3h1.1v1.3h-1.1zM221.4 297.3h1.1v1.3h-1.1zM224 297.3h1.1v1.3h-1.1zM226.6 297.3h1.1v1.3h-1.1zM229.2 297.3h1.1v1.3h-1.1zM231.7 297.3h1.1v1.3h-1.1zM234.3 297.3h1.1v1.3h-1.1zM236.9 297.3h1.1v1.3h-1.1zM239.5 297.3h1.1v1.3h-1.1zM242 297.3h1.1v1.3h-1.1zM244.6 297.3h1.1v1.3h-1.1zM247.2 297.3h1.1v1.3h-1.1zM249.8 297.3h1.1v1.3h-1.1zM252.3 297.3h1.1v1.3h-1.1zM254.9 297.3h1.1v1.3h-1.1zM257.5 297.3h1.1v1.3h-1.1zM260.1 297.3h1.1v1.3h-1.1zM262.6 297.3h1.1v1.3h-1.1zM265.2 297.3h1.1v1.3h-1.1zM267.8 297.3h1.1v1.3h-1.1zM270.4 297.3h1.1v1.3h-1.1zM272.9 297.3h1.1v1.3h-1.1zM275.5 297.3h1.1v1.3h-1.1zM278.1 297.3h1.1v1.3h-1.1zM280.7 297.3h1.1v1.3h-1.1zM283.2 297.3h1.1v1.3h-1.1zM285.8 297.3h1.1v1.3h-1.1zM288.4 297.3h1.1v1.3h-1.1zM291 297.3h1.1v1.3h-1.1zM293.5 297.3h1.1v1.3h-1.1zM296.1 297.3h1.1v1.3h-1.1zM298.7 297.3h1.1v1.3h-1.1zM301.3 297.3h1.1v1.3h-1.1zM303.8 297.3h1.1v1.3h-1.1zM306.4 297.3h1.1v1.3h-1.1zM309 297.3h1.1v1.3h-1.1zM311.6 297.3h1.1v1.3h-1.1zM314.1 297.3h1.1v1.3h-1.1zM316.7 297.3h1.1v1.3h-1.1zM319.3 297.3h1.1v1.3h-1.1zM321.9 297.3h1.1v1.3h-1.1zM324.4 297.3h1.1v1.3h-1.1zM327 297.3h1.1v1.3h-1.1zM329.6 297.3h1.1v1.3h-1.1zM332.2 297.3h1.1v1.3h-1.1zM334.7 297.3h1.1v1.3h-1.1zM337.3 297.3h1.1v1.3h-1.1zM339.9 297.3h1.1v1.3h-1.1zM342.5 297.3h1.1v1.3h-1.1zM345 297.3h1.1v1.3h-1.1zM347.6 297.3h1.1v1.3h-1.1zM350.2 297.3h1.1v1.3h-1.1zM352.8 297.3h1.1v1.3h-1.1zM355.3 297.3h1.1v1.3h-1.1zM357.9 297.3h1.1v1.3h-1.1zM360.5 297.3h1.1v1.3h-1.1zM363.1 297.3h1.1v1.3h-1.1zM365.6 297.3h1.1v1.3h-1.1zM368.2 297.3h1.1v1.3h-1.1zM370.8 297.3h1.1v1.3h-1.1zM373.4 297.3h1.1v1.3h-1.1zM375.9 297.3h1.1v1.3h-1.1zM378.5 297.3h1.1v1.3h-1.1zM381.1 297.3h1.1v1.3h-1.1zM383.7 297.3h1.1v1.3h-1.1zM386.3 297.3h1.1v1.3h-1.1zM388.8 297.3h1.1v1.3h-1.1zM391.4 297.3h1.1v1.3h-1.1zM394 297.3h1.1v1.3h-1.1zM396.6 297.3h1.1v1.3h-1.1zM399.1 297.3h1.1v1.3h-1.1zM401.7 297.3h1.1v1.3h-1.1zM404.3 297.3h1.1v1.3h-1.1zM406.9 297.3h1.1v1.3h-1.1zM409.4 297.3h1.1v1.3h-1.1zM412 297.3h1.1v1.3h-1.1zM414.6 297.3h1.1v1.3h-1.1zM417.2 297.3h1.1v1.3h-1.1zM419.7 297.3h1.1v1.3h-1.1zM422.3 297.3h1.1v1.3h-1.1zM424.9 297.3h1.1v1.3h-1.1zM427.5 297.3h1.1v1.3h-1.1zM430 297.3h1.1v1.3h-1.1zM432.6 297.3h1.1v1.3h-1.1zM435.2 297.3h1.1v1.3h-1.1zM437.8 297.3h1.1v1.3h-1.1zM440.3 297.3h1.1v1.3h-1.1zM442.9 297.3h1.1v1.3h-1.1zM445.5 297.3h1.1v1.3h-1.1zM448.1 297.3h1.1v1.3h-1.1zM450.6 297.3h1.1v1.3h-1.1zM453.2 297.3h1.1v1.3h-1.1zM455.8 297.3h1.1v1.3h-1.1zM458.4 297.3h1.1v1.3h-1.1zM460.9 297.3h1.1v1.3h-1.1zM463.5 297.3h1.1v1.3h-1.1zM466.1 297.3h1.1v1.3h-1.1zM468.7 297.3h1.1v1.3h-1.1zM471.2 297.3h1.1v1.3h-1.1zM473.8 297.3h1.1v1.3h-1.1zM476.4 297.3h1.1v1.3h-1.1zM479 297.3h1.1v1.3h-1.1zM481.5 297.3h1.1v1.3h-1.1zM484.1 297.3h1.1v1.3h-1.1zM486.7 297.3h1.1v1.3h-1.1zM489.3 297.3h1.1v1.3h-1.1zM491.8 297.3h1.1v1.3h-1.1zM494.4 297.3h1.1v1.3h-1.1zM497 297.3h1.1v1.3h-1.1zM499.6 297.3h1.1v1.3h-1.1zM502.1 297.3h1.1v1.3h-1.1zM504.7 297.3h1.1v1.3h-1.1zM507.3 297.3h1.1v1.3h-1.1zM509.9 297.3h1.1v1.3h-1.1zM512.4 297.3h1.1v1.3h-1.1zM515 297.3h1.1v1.3h-1.1zM517.6 297.3h1.1v1.3h-1.1zM520.2 297.3h1.1v1.3h-1.1zM522.7 297.3h1.1v1.3h-1.1zM525.3 297.3h1.1v1.3h-1.1zM527.9 297.3h1.1v1.3h-1.1zM530.5 297.3h1.1v1.3h-1.1zM533 297.3h1.1v1.3h-1.1zM535.6 297.3h1.1v1.3h-1.1zM538.2 297.3h1.1v1.3h-1.1zM540.8 297.3h1.1v1.3h-1.1zM543.3 297.3h1.1v1.3h-1.1zM545.9 297.3h1.1v1.3h-1.1zM548.5 297.3h1.1v1.3h-1.1zM551.1 297.3h1.1v1.3h-1.1zM553.6 297.3h1.1v1.3h-1.1zM556.2 297.3h1.1v1.3h-1.1zM558.8 297.3h1.1v1.3h-1.1zM561.4 297.3h1.1v1.3h-1.1zM563.9 297.3h1.1v1.3h-1.1zM566.5 297.3h1.1v1.3h-1.1zM569.1 297.3h1.1v1.3h-1.1zM571.7 297.3h1.1v1.3h-1.1zM574.2 297.3h1.1v1.3h-1.1zM576.8 297.3h1.1v1.3h-1.1zM579.4 297.3h1.1v1.3h-1.1zM582 297.3h1.1v1.3h-1.1zM584.5 297.3h1.1v1.3h-1.1zM587.1 297.3h1.1v1.3h-1.1zM589.7 297.3h1.1v1.3h-1.1zM592.3 297.3h1.1v1.3h-1.1zM594.8 297.3h1.1v1.3h-1.1zM597.4 297.3h1.1v1.3h-1.1zM600 297.3h1.1v1.3h-1.1zM602.6 297.3h1.1v1.3h-1.1zM605.1 297.3h1.1v1.3h-1.1zM607.7 297.3h1.1v1.3h-1.1zM610.3 297.3h1.1v1.3h-1.1zM612.9 297.3h1.1v1.3h-1.1zM615.4 297.3h1.1v1.3h-1.1zM618 297.3h1.1v1.3h-1.1zM620.6 297.3h1.1v1.3h-1.1zM623.2 297.3h1.1v1.3h-1.1zM625.7 297.3h1.1v1.3h-1.1zM628.3 297.3h1.1v1.3h-1.1zM630.9 297.3h1.1v1.3h-1.1zM633.5 297.3h1.1v1.3h-1.1zM636 297.3h1.1v1.3h-1.1zM638.6 297.3h1.1v1.3h-1.1zM641.2 297.3h1.1v1.3h-1.1zM643.8 297.3h1.1v1.3h-1.1zM646.3 297.3h1.1v1.3h-1.1zM648.9 297.3h1.1v1.3h-1.1zM651.5 297.3h1.1v1.3h-1.1zM654.1 297.3h1.1v1.3h-1.1zM656.6 297.3h1.1v1.3h-1.1zM659.2 297.3h1.1v1.3h-1.1zM661.8 297.3h1.1v1.3h-1.1zM664.4 297.3h1.1v1.3h-1.1zM666.9 297.3h1.1v1.3h-1.1zM669.5 297.3h1.1v1.3h-1.1zM672.1 297.3h1.1v1.3h-1.1zM674.7 297.3h1.1v1.3h-1.1zM677.2 297.3h1.1v1.3h-1.1zM679.8 297.3h1.1v1.3h-1.1zM682.4 297.3h1.1v1.3h-1.1zM685 297.3h1.1v1.3h-1.1zM687.5 297.3h1.1v1.3h-1.1zM690.1 297.3h1.1v1.3h-1.1zM692.7 297.3h1.1v1.3h-1.1zM695.3 297.3h1.1v1.3h-1.1zM371.9 52.7h1.2v1.3h-1.2zM374.4 52.7h1.2v1.3h-1.2zM377.4 52.7h1.2v1.3h-1.2zM379.9 52.7h1.2v1.3h-1.2zM371.9 65.6h1.2v1.3h-1.2zM374.4 65.6h1.2v1.3h-1.2zM377.4 65.6h1.2v1.3h-1.2zM379.9 65.6h1.2v1.3h-1.2zM371.9 78.5h1.2v1.3h-1.2zM374.4 78.5h1.2v1.3h-1.2zM377.4 78.5h1.2v1.3h-1.2zM379.9 78.5h1.2v1.3h-1.2zM371.9 91.3h1.2v1.3h-1.2zM374.4 91.3h1.2v1.3h-1.2zM377.4 91.3h1.2v1.3h-1.2zM379.9 91.3h1.2v1.3h-1.2zM371.9 104.2h1.2v1.3h-1.2zM374.4 104.2h1.2v1.3h-1.2zM377.4 104.2h1.2v1.3h-1.2zM379.9 104.2h1.2v1.3h-1.2zM371.9 117.1h1.2v1.3h-1.2zM374.4 117.1h1.2v1.3h-1.2zM377.4 117.1h1.2v1.3h-1.2zM379.9 117.1h1.2v1.3h-1.2zM371.9 130h1.2v1.3h-1.2zM374.4 130h1.2v1.3h-1.2zM377.4 130h1.2v1.3h-1.2zM379.9 130h1.2v1.3h-1.2zM371.9 142.8h1.2v1.3h-1.2zM374.4 142.8h1.2v1.3h-1.2zM377.4 142.8h1.2v1.3h-1.2zM379.9 142.8h1.2v1.3h-1.2zM371.9 155.7h1.2v1.3h-1.2zM374.4 155.7h1.2v1.3h-1.2zM377.4 155.7h1.2v1.3h-1.2zM379.9 155.7h1.2v1.3h-1.2zM371.9 168.6h1.2v1.3h-1.2zM374.4 168.6h1.2v1.3h-1.2zM377.4 168.6h1.2v1.3h-1.2zM379.9 168.6h1.2v1.3h-1.2zM371.9 181.5h1.2v1.3h-1.2zM374.4 181.5h1.2v1.3h-1.2zM377.4 181.5h1.2v1.3h-1.2zM379.9 181.5h1.2v1.3h-1.2zM371.9 194.3h1.2v1.3h-1.2zM374.4 194.3h1.2v1.3h-1.2zM377.4 194.3h1.2v1.3h-1.2zM379.9 194.3h1.2v1.3h-1.2zM371.9 207.2h1.2v1.3h-1.2zM374.4 207.2h1.2v1.3h-1.2zM377.4 207.2h1.2v1.3h-1.2zM379.9 207.2h1.2v1.3h-1.2zM371.9 220.1h1.2v1.3h-1.2zM374.4 220.1h1.2v1.3h-1.2zM377.4 220.1h1.2v1.3h-1.2zM379.9 220.1h1.2v1.3h-1.2zM371.9 233h1.2v1.3h-1.2zM374.4 233h1.2v1.3h-1.2zM377.4 233h1.2v1.3h-1.2zM379.9 233h1.2v1.3h-1.2zM371.9 245.8h1.2v1.3h-1.2zM374.4 245.8h1.2v1.3h-1.2zM377.4 245.8h1.2v1.3h-1.2zM379.9 245.8h1.2v1.3h-1.2zM371.9 258.7h1.2v1.3h-1.2zM374.4 258.7h1.2v1.3h-1.2zM377.4 258.7h1.2v1.3h-1.2zM379.9 258.7h1.2v1.3h-1.2zM371.9 271.6h1.2v1.3h-1.2zM374.4 271.6h1.2v1.3h-1.2zM377.4 271.6h1.2v1.3h-1.2zM379.9 271.6h1.2v1.3h-1.2zM371.9 284.5h1.2v1.3h-1.2zM374.4 284.5h1.2v1.3h-1.2zM377.4 284.5h1.2v1.3h-1.2zM379.9 284.5h1.2v1.3h-1.2zM371.9 297.3h1.2v1.3h-1.2zM374.4 297.3h1.2v1.3h-1.2zM377.4 297.3h1.2v1.3h-1.2zM379.9 297.3h1.2v1.3h-1.2zM371.9 310.2h1.2v1.3h-1.2zM374.4 310.2h1.2v1.3h-1.2zM377.4 310.2h1.2v1.3h-1.2zM379.9 310.2h1.2v1.3h-1.2zM371.9 323.1h1.2v1.3h-1.2zM374.4 323.1h1.2v1.3h-1.2zM377.4 323.1h1.2v1.3h-1.2zM379.9 323.1h1.2v1.3h-1.2zM371.9 336h1.2v1.3h-1.2zM374.4 336h1.2v1.3h-1.2zM377.4 336h1.2v1.3h-1.2zM379.9 336h1.2v1.3h-1.2zM371.9 348.8h1.2v1.3h-1.2zM374.4 348.8h1.2v1.3h-1.2zM377.4 348.8h1.2v1.3h-1.2zM379.9 348.8h1.2v1.3h-1.2zM371.9 361.7h1.2v1.3h-1.2zM374.4 361.7h1.2v1.3h-1.2zM377.4 361.7h1.2v1.3h-1.2zM379.9 361.7h1.2v1.3h-1.2zM371.9 374.6h1.2v1.3h-1.2zM374.4 374.6h1.2v1.3h-1.2zM377.4 374.6h1.2v1.3h-1.2zM379.9 374.6h1.2v1.3h-1.2zM371.9 387.4h1.2v1.3h-1.2zM374.4 387.4h1.2v1.3h-1.2zM377.4 387.4h1.2v1.3h-1.2zM379.9 387.4h1.2v1.3h-1.2zM371.9 400.3h1.2v1.3h-1.2zM374.4 400.3h1.2v1.3h-1.2zM377.4 400.3h1.2v1.3h-1.2zM379.9 400.3h1.2v1.3h-1.2zM371.9 413.2h1.2v1.3h-1.2zM374.4 413.2h1.2v1.3h-1.2zM377.4 413.2h1.2v1.3h-1.2zM379.9 413.2h1.2v1.3h-1.2zM371.9 426.1h1.2v1.3h-1.2zM374.4 426.1h1.2v1.3h-1.2zM377.4 426.1h1.2v1.3h-1.2zM379.9 426.1h1.2v1.3h-1.2zM371.9 438.9h1.2v1.3h-1.2zM374.4 438.9h1.2v1.3h-1.2zM377.4 438.9h1.2v1.3h-1.2zM379.9 438.9h1.2v1.3h-1.2zM371.9 451.8h1.2v1.3h-1.2zM374.4 451.8h1.2v1.3h-1.2zM377.4 451.8h1.2v1.3h-1.2zM379.9 451.8h1.2v1.3h-1.2zM371.9 464.7h1.2v1.3h-1.2zM374.4 464.7h1.2v1.3h-1.2zM377.4 464.7h1.2v1.3h-1.2zM379.9 464.7h1.2v1.3h-1.2zM371.9 477.6h1.2v1.3h-1.2zM374.4 477.6h1.2v1.3h-1.2zM377.4 477.6h1.2v1.3h-1.2zM379.9 477.6h1.2v1.3h-1.2zM371.9 490.4h1.2v1.3h-1.2zM374.4 490.4h1.2v1.3h-1.2zM377.4 490.4h1.2v1.3h-1.2zM379.9 490.4h1.2v1.3h-1.2zM371.9 503.3h1.2v1.3h-1.2zM374.4 503.3h1.2v1.3h-1.2zM377.4 503.3h1.2v1.3h-1.2zM379.9 503.3h1.2v1.3h-1.2zM371.9 516.2h1.2v1.3h-1.2zM374.4 516.2h1.2v1.3h-1.2zM377.4 516.2h1.2v1.3h-1.2zM379.9 516.2h1.2v1.3h-1.2zM371.9 529.1h1.2v1.3h-1.2zM374.4 529.1h1.2v1.3h-1.2zM377.4 529.1h1.2v1.3h-1.2zM379.9 529.1h1.2v1.3h-1.2zM371.9 541.9h1.2v1.3h-1.2zM374.4 541.9h1.2v1.3h-1.2zM377.4 541.9h1.2v1.3h-1.2zM379.9 541.9h1.2v1.3h-1.2zM66.8 293.4h1.3v1.2h-1.3zM66.8 295.9h1.3v1.2h-1.3zM66.8 298.9h1.3v1.2h-1.3zM66.8 301.4h1.3v1.2h-1.3zM79.7 293.4h1.3v1.2h-1.3zM79.7 295.9h1.3v1.2h-1.3zM79.7 298.9h1.3v1.2h-1.3zM79.7 301.4h1.3v1.2h-1.3zM92.6 293.4h1.3v1.2h-1.3zM92.6 295.9h1.3v1.2h-1.3zM92.6 298.9h1.3v1.2h-1.3zM92.6 301.4h1.3v1.2h-1.3zM105.5 293.4h1.3v1.2h-1.3zM105.5 295.9h1.3v1.2h-1.3zM105.5 298.9h1.3v1.2h-1.3zM105.5 301.4h1.3v1.2h-1.3zM118.3 293.4h1.3v1.2h-1.3zM118.3 295.9h1.3v1.2h-1.3zM118.3 298.9h1.3v1.2h-1.3zM118.3 301.4h1.3v1.2h-1.3zM131.2 293.4h1.3v1.2h-1.3zM131.2 295.9h1.3v1.2h-1.3zM131.2 298.9h1.3v1.2h-1.3zM131.2 301.4h1.3v1.2h-1.3zM144.1 293.4h1.3v1.2h-1.3zM144.1 295.9h1.3v1.2h-1.3zM144.1 298.9h1.3v1.2h-1.3zM144.1 301.4h1.3v1.2h-1.3zM157 293.4h1.3v1.2h-1.3zM157 295.9h1.3v1.2h-1.3zM157 298.9h1.3v1.2h-1.3zM157 301.4h1.3v1.2h-1.3zM169.8 293.4h1.3v1.2h-1.3zM169.8 295.9h1.3v1.2h-1.3zM169.8 298.9h1.3v1.2h-1.3zM169.8 301.4h1.3v1.2h-1.3zM182.7 293.4h1.3v1.2h-1.3zM182.7 295.9h1.3v1.2h-1.3zM182.7 298.9h1.3v1.2h-1.3zM182.7 301.4h1.3v1.2h-1.3zM195.6 293.4h1.3v1.2h-1.3zM195.6 295.9h1.3v1.2h-1.3zM195.6 298.9h1.3v1.2h-1.3zM195.6 301.4h1.3v1.2h-1.3zM208.5 293.4h1.3v1.2h-1.3zM208.5 295.9h1.3v1.2h-1.3zM208.5 298.9h1.3v1.2h-1.3zM208.5 301.4h1.3v1.2h-1.3zM221.3 293.4h1.3v1.2h-1.3zM221.3 295.9h1.3v1.2h-1.3zM221.3 298.9h1.3v1.2h-1.3zM221.3 301.4h1.3v1.2h-1.3zM234.2 293.4h1.3v1.2h-1.3zM234.2 295.9h1.3v1.2h-1.3zM234.2 298.9h1.3v1.2h-1.3zM234.2 301.4h1.3v1.2h-1.3zM247.1 293.4h1.3v1.2h-1.3zM247.1 295.9h1.3v1.2h-1.3zM247.1 298.9h1.3v1.2h-1.3zM247.1 301.4h1.3v1.2h-1.3zM260 293.4h1.3v1.2h-1.3zM260 295.9h1.3v1.2h-1.3zM260 298.9h1.3v1.2h-1.3zM260 301.4h1.3v1.2h-1.3zM272.8 293.4h1.3v1.2h-1.3zM272.8 295.9h1.3v1.2h-1.3zM272.8 298.9h1.3v1.2h-1.3zM272.8 301.4h1.3v1.2h-1.3zM285.7 293.4h1.3v1.2h-1.3zM285.7 295.9h1.3v1.2h-1.3zM285.7 298.9h1.3v1.2h-1.3zM285.7 301.4h1.3v1.2h-1.3zM298.6 293.4h1.3v1.2h-1.3zM298.6 295.9h1.3v1.2h-1.3zM298.6 298.9h1.3v1.2h-1.3zM298.6 301.4h1.3v1.2h-1.3zM311.5 293.4h1.3v1.2h-1.3zM311.5 295.9h1.3v1.2h-1.3zM311.5 298.9h1.3v1.2h-1.3zM311.5 301.4h1.3v1.2h-1.3zM324.3 293.4h1.3v1.2h-1.3zM324.3 295.9h1.3v1.2h-1.3zM324.3 298.9h1.3v1.2h-1.3zM324.3 301.4h1.3v1.2h-1.3zM337.2 293.4h1.3v1.2h-1.3zM337.2 295.9h1.3v1.2h-1.3zM337.2 298.9h1.3v1.2h-1.3zM337.2 301.4h1.3v1.2h-1.3zM350.1 293.4h1.3v1.2h-1.3zM350.1 295.9h1.3v1.2h-1.3zM350.1 298.9h1.3v1.2h-1.3zM350.1 301.4h1.3v1.2h-1.3zM363 293.4h1.3v1.2h-1.3zM363 295.9h1.3v1.2h-1.3zM363 298.9h1.3v1.2h-1.3zM363 301.4h1.3v1.2h-1.3zM375.9 293.4h1.3v1.2h-1.3zM375.9 295.9h1.3v1.2h-1.3zM375.9 298.9h1.3v1.2h-1.3zM375.9 301.4h1.3v1.2h-1.3zM388.7 293.4h1.3v1.2h-1.3zM388.7 295.9h1.3v1.2h-1.3zM388.7 298.9h1.3v1.2h-1.3zM388.7 301.4h1.3v1.2h-1.3zM401.6 293.4h1.3v1.2h-1.3zM401.6 295.9h1.3v1.2h-1.3zM401.6 298.9h1.3v1.2h-1.3zM401.6 301.4h1.3v1.2h-1.3zM414.5 293.4h1.3v1.2h-1.3zM414.5 295.9h1.3v1.2h-1.3zM414.5 298.9h1.3v1.2h-1.3zM414.5 301.4h1.3v1.2h-1.3zM427.4 293.4h1.3v1.2h-1.3zM427.4 295.9h1.3v1.2h-1.3zM427.4 298.9h1.3v1.2h-1.3zM427.4 301.4h1.3v1.2h-1.3zM440.2 293.4h1.3v1.2h-1.3zM440.2 295.9h1.3v1.2h-1.3zM440.2 298.9h1.3v1.2h-1.3zM440.2 301.4h1.3v1.2h-1.3zM453.1 293.4h1.3v1.2h-1.3zM453.1 295.9h1.3v1.2h-1.3zM453.1 298.9h1.3v1.2h-1.3zM453.1 301.4h1.3v1.2h-1.3zM466 293.4h1.3v1.2h-1.3zM466 295.9h1.3v1.2h-1.3zM466 298.9h1.3v1.2h-1.3zM466 301.4h1.3v1.2h-1.3zM478.9 293.4h1.3v1.2h-1.3zM478.9 295.9h1.3v1.2h-1.3zM478.9 298.9h1.3v1.2h-1.3zM478.9 301.4h1.3v1.2h-1.3zM491.7 293.4h1.3v1.2h-1.3zM491.7 295.9h1.3v1.2h-1.3zM491.7 298.9h1.3v1.2h-1.3zM491.7 301.4h1.3v1.2h-1.3zM504.6 293.4h1.3v1.2h-1.3zM504.6 295.9h1.3v1.2h-1.3zM504.6 298.9h1.3v1.2h-1.3zM504.6 301.4h1.3v1.2h-1.3zM517.5 293.4h1.3v1.2h-1.3zM517.5 295.9h1.3v1.2h-1.3zM517.5 298.9h1.3v1.2h-1.3zM517.5 301.4h1.3v1.2h-1.3zM530.4 293.4h1.3v1.2h-1.3zM530.4 295.9h1.3v1.2h-1.3zM530.4 298.9h1.3v1.2h-1.3zM530.4 301.4h1.3v1.2h-1.3zM543.2 293.4h1.3v1.2h-1.3zM543.2 295.9h1.3v1.2h-1.3zM543.2 298.9h1.3v1.2h-1.3zM543.2 301.4h1.3v1.2h-1.3zM556.1 293.4h1.3v1.2h-1.3zM556.1 295.9h1.3v1.2h-1.3zM556.1 298.9h1.3v1.2h-1.3zM556.1 301.4h1.3v1.2h-1.3zM569 293.4h1.3v1.2h-1.3zM569 295.9h1.3v1.2h-1.3zM569 298.9h1.3v1.2h-1.3zM569 301.4h1.3v1.2h-1.3zM581.9 293.4h1.3v1.2h-1.3zM581.9 295.9h1.3v1.2h-1.3zM581.9 298.9h1.3v1.2h-1.3zM581.9 301.4h1.3v1.2h-1.3zM594.7 293.4h1.3v1.2h-1.3zM594.7 295.9h1.3v1.2h-1.3zM594.7 298.9h1.3v1.2h-1.3zM594.7 301.4h1.3v1.2h-1.3zM607.6 293.4h1.3v1.2h-1.3zM607.6 295.9h1.3v1.2h-1.3zM607.6 298.9h1.3v1.2h-1.3zM607.6 301.4h1.3v1.2h-1.3zM620.5 293.4h1.3v1.2h-1.3zM620.5 295.9h1.3v1.2h-1.3zM620.5 298.9h1.3v1.2h-1.3zM620.5 301.4h1.3v1.2h-1.3zM633.4 293.4h1.3v1.2h-1.3zM633.4 295.9h1.3v1.2h-1.3zM633.4 298.9h1.3v1.2h-1.3zM633.4 301.4h1.3v1.2h-1.3zM646.2 293.4h1.3v1.2h-1.3zM646.2 295.9h1.3v1.2h-1.3zM646.2 298.9h1.3v1.2h-1.3zM646.2 301.4h1.3v1.2h-1.3zM659.1 293.4h1.3v1.2h-1.3zM659.1 295.9h1.3v1.2h-1.3zM659.1 298.9h1.3v1.2h-1.3zM659.1 301.4h1.3v1.2h-1.3zM672 293.4h1.3v1.2h-1.3zM672 295.9h1.3v1.2h-1.3zM672 298.9h1.3v1.2h-1.3zM672 301.4h1.3v1.2h-1.3zM684.9 293.4h1.3v1.2h-1.3zM684.9 295.9h1.3v1.2h-1.3zM684.9 298.9h1.3v1.2h-1.3zM684.9 301.4h1.3v1.2h-1.3zM118.3 42.1h1.3v1.2h-1.3zM118.3 552.7h1.3v1.2h-1.3zM118.3 44.5h1.3v1.2h-1.3zM118.3 550.3h1.3v1.2h-1.3zM118.3 46.9h1.3v1.2h-1.3zM118.3 547.9h1.3v1.2h-1.3zM182.7 42.1h1.3v1.2h-1.3zM182.7 552.7h1.3v1.2h-1.3zM182.7 44.5h1.3v1.2h-1.3zM182.7 550.3h1.3v1.2h-1.3zM182.7 46.9h1.3v1.2h-1.3zM182.7 547.9h1.3v1.2h-1.3zM247.1 42.1h1.3v1.2h-1.3zM247.1 552.7h1.3v1.2h-1.3zM247.1 44.5h1.3v1.2h-1.3zM247.1 550.3h1.3v1.2h-1.3zM247.1 46.9h1.3v1.2h-1.3zM247.1 547.9h1.3v1.2h-1.3zM311.5 42.1h1.3v1.2h-1.3zM311.5 552.7h1.3v1.2h-1.3zM311.5 44.5h1.3v1.2h-1.3zM311.5 550.3h1.3v1.2h-1.3zM311.5 46.9h1.3v1.2h-1.3zM311.5 547.9h1.3v1.2h-1.3zM375.9 42.1h1.3v1.2h-1.3zM375.9 552.7h1.3v1.2h-1.3zM375.9 44.5h1.3v1.2h-1.3zM375.9 550.3h1.3v1.2h-1.3zM375.9 46.9h1.3v1.2h-1.3zM375.9 547.9h1.3v1.2h-1.3zM440.2 42.1h1.3v1.2h-1.3zM440.2 552.7h1.3v1.2h-1.3zM440.2 44.5h1.3v1.2h-1.3zM440.2 550.3h1.3v1.2h-1.3zM440.2 46.9h1.3v1.2h-1.3zM440.2 547.9h1.3v1.2h-1.3zM504.6 42.1h1.3v1.2h-1.3zM504.6 552.7h1.3v1.2h-1.3zM504.6 44.5h1.3v1.2h-1.3zM504.6 550.3h1.3v1.2h-1.3zM504.6 46.9h1.3v1.2h-1.3zM504.6 547.9h1.3v1.2h-1.3zM569 42.1h1.3v1.2h-1.3zM569 552.7h1.3v1.2h-1.3zM569 44.5h1.3v1.2h-1.3zM569 550.3h1.3v1.2h-1.3zM569 46.9h1.3v1.2h-1.3zM569 547.9h1.3v1.2h-1.3zM633.4 42.1h1.3v1.2h-1.3zM633.4 552.7h1.3v1.2h-1.3zM633.4 44.5h1.3v1.2h-1.3zM633.4 550.3h1.3v1.2h-1.3zM633.4 46.9h1.3v1.2h-1.3zM633.4 547.9h1.3v1.2h-1.3zM56.2 104.2h1.2v1.3h-1.2zM695.6 104.2h1.2v1.3h-1.2zM58.6 104.2h1.2v1.3h-1.2zM693.2 104.2h1.2v1.3h-1.2zM61 104.2h1.2v1.3h-1.2zM690.8 104.2h1.2v1.3h-1.2zM56.2 168.6h1.2v1.3h-1.2zM695.6 168.6h1.2v1.3h-1.2zM58.6 168.6h1.2v1.3h-1.2zM693.2 168.6h1.2v1.3h-1.2zM61 168.6h1.2v1.3h-1.2zM690.8 168.6h1.2v1.3h-1.2zM56.2 233h1.2v1.3h-1.2zM695.6 233h1.2v1.3h-1.2zM58.6 233h1.2v1.3h-1.2zM693.2 233h1.2v1.3h-1.2zM61 233h1.2v1.3h-1.2zM690.8 233h1.2v1.3h-1.2zM56.2 297.3h1.2v1.3h-1.2zM695.6 297.3h1.2v1.3h-1.2zM58.6 297.3h1.2v1.3h-1.2zM693.2 297.3h1.2v1.3h-1.2zM61 297.3h1.2v1.3h-1.2zM690.8 297.3h1.2v1.3h-1.2zM56.2 361.7h1.2v1.3h-1.2zM695.6 361.7h1.2v1.3h-1.2zM58.6 361.7h1.2v1.3h-1.2zM693.2 361.7h1.2v1.3h-1.2zM61 361.7h1.2v1.3h-1.2zM690.8 361.7h1.2v1.3h-1.2zM56.2 426.1h1.2v1.3h-1.2zM695.6 426.1h1.2v1.3h-1.2zM58.6 426.1h1.2v1.3h-1.2zM693.2 426.1h1.2v1.3h-1.2zM61 426.1h1.2v1.3h-1.2zM690.8 426.1h1.2v1.3h-1.2zM56.2 490.4h1.2v1.3h-1.2zM695.6 490.4h1.2v1.3h-1.2zM58.6 490.4h1.2v1.3h-1.2zM693.2 490.4h1.2v1.3h-1.2zM61 490.4h1.2v1.3h-1.2zM690.8 490.4h1.2v1.3h-1.2zM66.8 39.7h1.3v1.8h-1.3zM66.8 42.4h1.3v1.3h-1.3zM66.8 554.5h1.3v1.8h-1.3zM66.8 552.3h1.3v1.3h-1.3zM79.7 39.7h1.3v1.8h-1.3zM79.7 42.4h1.3v1.3h-1.3zM79.7 554.5h1.3v1.8h-1.3zM79.7 552.3h1.3v1.3h-1.3zM92.6 39.7h1.3v1.8h-1.3zM92.6 42.4h1.3v1.3h-1.3zM92.6 554.5h1.3v1.8h-1.3zM92.6 552.3h1.3v1.3h-1.3zM105.5 39.7h1.3v1.8h-1.3zM105.5 42.4h1.3v1.3h-1.3zM105.5 554.5h1.3v1.8h-1.3zM105.5 552.3h1.3v1.3h-1.3zM118.3 39.7h1.3v1.8h-1.3zM118.3 42.4h1.3v1.3h-1.3zM118.3 554.5h1.3v1.8h-1.3zM118.3 552.3h1.3v1.3h-1.3zM131.2 39.7h1.3v1.8h-1.3zM131.2 42.4h1.3v1.3h-1.3zM131.2 554.5h1.3v1.8h-1.3zM131.2 552.3h1.3v1.3h-1.3zM144.1 39.7h1.3v1.8h-1.3zM144.1 42.4h1.3v1.3h-1.3zM144.1 554.5h1.3v1.8h-1.3zM144.1 552.3h1.3v1.3h-1.3zM157 39.7h1.3v1.8h-1.3zM157 42.4h1.3v1.3h-1.3zM157 554.5h1.3v1.8h-1.3zM157 552.3h1.3v1.3h-1.3zM169.8 39.7h1.3v1.8h-1.3zM169.8 42.4h1.3v1.3h-1.3zM169.8 554.5h1.3v1.8h-1.3zM169.8 552.3h1.3v1.3h-1.3zM182.7 39.7h1.3v1.8h-1.3zM182.7 42.4h1.3v1.3h-1.3zM182.7 554.5h1.3v1.8h-1.3zM182.7 552.3h1.3v1.3h-1.3zM195.6 39.7h1.3v1.8h-1.3zM195.6 42.4h1.3v1.3h-1.3zM195.6 554.5h1.3v1.8h-1.3zM195.6 552.3h1.3v1.3h-1.3zM208.5 39.7h1.3v1.8h-1.3zM208.5 42.4h1.3v1.3h-1.3zM208.5 554.5h1.3v1.8h-1.3zM208.5 552.3h1.3v1.3h-1.3zM221.3 39.7h1.3v1.8h-1.3zM221.3 42.4h1.3v1.3h-1.3zM221.3 554.5h1.3v1.8h-1.3zM221.3 552.3h1.3v1.3h-1.3zM234.2 39.7h1.3v1.8h-1.3zM234.2 42.4h1.3v1.3h-1.3zM234.2 554.5h1.3v1.8h-1.3zM234.2 552.3h1.3v1.3h-1.3zM247.1 39.7h1.3v1.8h-1.3zM247.1 42.4h1.3v1.3h-1.3zM247.1 554.5h1.3v1.8h-1.3zM247.1 552.3h1.3v1.3h-1.3zM260 39.7h1.3v1.8h-1.3zM260 42.4h1.3v1.3h-1.3zM260 554.5h1.3v1.8h-1.3zM260 552.3h1.3v1.3h-1.3zM272.8 39.7h1.3v1.8h-1.3zM272.8 42.4h1.3v1.3h-1.3zM272.8 554.5h1.3v1.8h-1.3zM272.8 552.3h1.3v1.3h-1.3zM285.7 39.7h1.3v1.8h-1.3zM285.7 42.4h1.3v1.3h-1.3zM285.7 554.5h1.3v1.8h-1.3zM285.7 552.3h1.3v1.3h-1.3zM298.6 39.7h1.3v1.8h-1.3zM298.6 42.4h1.3v1.3h-1.3zM298.6 554.5h1.3v1.8h-1.3zM298.6 552.3h1.3v1.3h-1.3zM311.5 39.7h1.3v1.8h-1.3zM311.5 42.4h1.3v1.3h-1.3zM311.5 554.5h1.3v1.8h-1.3zM311.5 552.3h1.3v1.3h-1.3zM324.3 39.7h1.3v1.8h-1.3zM324.3 42.4h1.3v1.3h-1.3zM324.3 554.5h1.3v1.8h-1.3zM324.3 552.3h1.3v1.3h-1.3zM337.2 39.7h1.3v1.8h-1.3zM337.2 42.4h1.3v1.3h-1.3zM337.2 554.5h1.3v1.8h-1.3zM337.2 552.3h1.3v1.3h-1.3zM350.1 39.7h1.3v1.8h-1.3zM350.1 42.4h1.3v1.3h-1.3zM350.1 554.5h1.3v1.8h-1.3zM350.1 552.3h1.3v1.3h-1.3zM363 39.7h1.3v1.8h-1.3zM363 42.4h1.3v1.3h-1.3zM363 554.5h1.3v1.8h-1.3zM363 552.3h1.3v1.3h-1.3zM375.9 39.7h1.3v1.8h-1.3zM375.9 42.4h1.3v1.3h-1.3zM375.9 554.5h1.3v1.8h-1.3zM375.9 552.3h1.3v1.3h-1.3zM388.7 39.7h1.3v1.8h-1.3zM388.7 42.4h1.3v1.3h-1.3zM388.7 554.5h1.3v1.8h-1.3zM388.7 552.3h1.3v1.3h-1.3zM401.6 39.7h1.3v1.8h-1.3zM401.6 42.4h1.3v1.3h-1.3zM401.6 554.5h1.3v1.8h-1.3zM401.6 552.3h1.3v1.3h-1.3zM414.5 39.7h1.3v1.8h-1.3zM414.5 42.4h1.3v1.3h-1.3zM414.5 554.5h1.3v1.8h-1.3zM414.5 552.3h1.3v1.3h-1.3zM427.4 39.7h1.3v1.8h-1.3zM427.4 42.4h1.3v1.3h-1.3zM427.4 554.5h1.3v1.8h-1.3zM427.4 552.3h1.3v1.3h-1.3zM440.2 39.7h1.3v1.8h-1.3zM440.2 42.4h1.3v1.3h-1.3zM440.2 554.5h1.3v1.8h-1.3zM440.2 552.3h1.3v1.3h-1.3zM453.1 39.7h1.3v1.8h-1.3zM453.1 42.4h1.3v1.3h-1.3zM453.1 554.5h1.3v1.8h-1.3zM453.1 552.3h1.3v1.3h-1.3zM466 39.7h1.3v1.8h-1.3zM466 42.4h1.3v1.3h-1.3zM466 554.5h1.3v1.8h-1.3zM466 552.3h1.3v1.3h-1.3zM478.9 39.7h1.3v1.8h-1.3zM478.9 42.4h1.3v1.3h-1.3zM478.9 554.5h1.3v1.8h-1.3zM478.9 552.3h1.3v1.3h-1.3zM491.7 39.7h1.3v1.8h-1.3zM491.7 42.4h1.3v1.3h-1.3zM491.7 554.5h1.3v1.8h-1.3zM491.7 552.3h1.3v1.3h-1.3zM504.6 39.7h1.3v1.8h-1.3zM504.6 42.4h1.3v1.3h-1.3zM504.6 554.5h1.3v1.8h-1.3zM504.6 552.3h1.3v1.3h-1.3zM517.5 39.7h1.3v1.8h-1.3zM517.5 42.4h1.3v1.3h-1.3zM517.5 554.5h1.3v1.8h-1.3zM517.5 552.3h1.3v1.3h-1.3zM530.4 39.7h1.3v1.8h-1.3zM530.4 42.4h1.3v1.3h-1.3zM530.4 554.5h1.3v1.8h-1.3zM530.4 552.3h1.3v1.3h-1.3zM543.2 39.7h1.3v1.8h-1.3zM543.2 42.4h1.3v1.3h-1.3zM543.2 554.5h1.3v1.8h-1.3zM543.2 552.3h1.3v1.3h-1.3zM556.1 39.7h1.3v1.8h-1.3zM556.1 42.4h1.3v1.3h-1.3zM556.1 554.5h1.3v1.8h-1.3zM556.1 552.3h1.3v1.3h-1.3zM569 39.7h1.3v1.8h-1.3zM569 42.4h1.3v1.3h-1.3zM569 554.5h1.3v1.8h-1.3zM569 552.3h1.3v1.3h-1.3zM581.9 39.7h1.3v1.8h-1.3zM581.9 42.4h1.3v1.3h-1.3zM581.9 554.5h1.3v1.8h-1.3zM581.9 552.3h1.3v1.3h-1.3zM594.7 39.7h1.3v1.8h-1.3zM594.7 42.4h1.3v1.3h-1.3zM594.7 554.5h1.3v1.8h-1.3zM594.7 552.3h1.3v1.3h-1.3zM607.6 39.7h1.3v1.8h-1.3zM607.6 42.4h1.3v1.3h-1.3zM607.6 554.5h1.3v1.8h-1.3zM607.6 552.3h1.3v1.3h-1.3zM620.5 39.7h1.3v1.8h-1.3zM620.5 42.4h1.3v1.3h-1.3zM620.5 554.5h1.3v1.8h-1.3zM620.5 552.3h1.3v1.3h-1.3zM633.4 39.7h1.3v1.8h-1.3zM633.4 42.4h1.3v1.3h-1.3zM633.4 554.5h1.3v1.8h-1.3zM633.4 552.3h1.3v1.3h-1.3zM646.2 39.7h1.3v1.8h-1.3zM646.2 42.4h1.3v1.3h-1.3zM646.2 554.5h1.3v1.8h-1.3zM646.2 552.3h1.3v1.3h-1.3zM659.1 39.7h1.3v1.8h-1.3zM659.1 42.4h1.3v1.3h-1.3zM659.1 554.5h1.3v1.8h-1.3zM659.1 552.3h1.3v1.3h-1.3zM672 39.7h1.3v1.8h-1.3zM672 42.4h1.3v1.3h-1.3zM672 554.5h1.3v1.8h-1.3zM672 552.3h1.3v1.3h-1.3zM684.9 39.7h1.3v1.8h-1.3zM684.9 42.4h1.3v1.3h-1.3zM684.9 554.5h1.3v1.8h-1.3zM684.9 552.3h1.3v1.3h-1.3zM53.8 52.7h1.8v1.3h-1.8zM56.5 52.7h1.3v1.3h-1.3zM697.4 52.7h1.8v1.3h-1.8zM695.2 52.7h1.3v1.3h-1.3zM53.8 65.6h1.8v1.3h-1.8zM56.5 65.6h1.3v1.3h-1.3zM697.4 65.6h1.8v1.3h-1.8zM695.2 65.6h1.3v1.3h-1.3zM53.8 78.5h1.8v1.3h-1.8zM56.5 78.5h1.3v1.3h-1.3zM697.4 78.5h1.8v1.3h-1.8zM695.2 78.5h1.3v1.3h-1.3zM53.8 91.3h1.8v1.3h-1.8zM56.5 91.3h1.3v1.3h-1.3zM697.4 91.3h1.8v1.3h-1.8zM695.2 91.3h1.3v1.3h-1.3zM53.8 104.2h1.8v1.3h-1.8zM56.5 104.2h1.3v1.3h-1.3zM697.4 104.2h1.8v1.3h-1.8zM695.2 104.2h1.3v1.3h-1.3zM53.8 117.1h1.8v1.3h-1.8zM56.5 117.1h1.3v1.3h-1.3zM697.4 117.1h1.8v1.3h-1.8zM695.2 117.1h1.3v1.3h-1.3zM53.8 130h1.8v1.3h-1.8zM56.5 130h1.3v1.3h-1.3zM697.4 130h1.8v1.3h-1.8zM695.2 130h1.3v1.3h-1.3zM53.8 142.8h1.8v1.3h-1.8zM56.5 142.8h1.3v1.3h-1.3zM697.4 142.8h1.8v1.3h-1.8zM695.2 142.8h1.3v1.3h-1.3zM53.8 155.7h1.8v1.3h-1.8zM56.5 155.7h1.3v1.3h-1.3zM697.4 155.7h1.8v1.3h-1.8zM695.2 155.7h1.3v1.3h-1.3zM53.8 168.6h1.8v1.3h-1.8zM56.5 168.6h1.3v1.3h-1.3zM697.4 168.6h1.8v1.3h-1.8zM695.2 168.6h1.3v1.3h-1.3zM53.8 181.5h1.8v1.3h-1.8zM56.5 181.5h1.3v1.3h-1.3zM697.4 181.5h1.8v1.3h-1.8zM695.2 181.5h1.3v1.3h-1.3zM53.8 194.3h1.8v1.3h-1.8zM56.5 194.3h1.3v1.3h-1.3zM697.4 194.3h1.8v1.3h-1.8zM695.2 194.3h1.3v1.3h-1.3zM53.8 207.2h1.8v1.3h-1.8zM56.5 207.2h1.3v1.3h-1.3zM697.4 207.2h1.8v1.3h-1.8zM695.2 207.2h1.3v1.3h-1.3zM53.8 220.1h1.8v1.3h-1.8zM56.5 220.1h1.3v1.3h-1.3zM697.4 220.1h1.8v1.3h-1.8zM695.2 220.1h1.3v1.3h-1.3zM53.8 233h1.8v1.3h-1.8zM56.5 233h1.3v1.3h-1.3zM697.4 233h1.8v1.3h-1.8zM695.2 233h1.3v1.3h-1.3zM53.8 245.8h1.8v1.3h-1.8zM56.5 245.8h1.3v1.3h-1.3zM697.4 245.8h1.8v1.3h-1.8zM695.2 245.8h1.3v1.3h-1.3zM53.8 258.7h1.8v1.3h-1.8zM56.5 258.7h1.3v1.3h-1.3zM697.4 258.7h1.8v1.3h-1.8zM695.2 258.7h1.3v1.3h-1.3zM53.8 271.6h1.8v1.3h-1.8zM56.5 271.6h1.3v1.3h-1.3zM697.4 271.6h1.8v1.3h-1.8zM695.2 271.6h1.3v1.3h-1.3zM53.8 284.5h1.8v1.3h-1.8zM56.5 284.5h1.3v1.3h-1.3zM697.4 284.5h1.8v1.3h-1.8zM695.2 284.5h1.3v1.3h-1.3zM53.8 297.3h1.8v1.3h-1.8zM56.5 297.3h1.3v1.3h-1.3zM697.4 297.3h1.8v1.3h-1.8zM695.2 297.3h1.3v1.3h-1.3zM53.8 310.2h1.8v1.3h-1.8zM56.5 310.2h1.3v1.3h-1.3zM697.4 310.2h1.8v1.3h-1.8zM695.2 310.2h1.3v1.3h-1.3zM53.8 323.1h1.8v1.3h-1.8zM56.5 323.1h1.3v1.3h-1.3zM697.4 323.1h1.8v1.3h-1.8zM695.2 323.1h1.3v1.3h-1.3zM53.8 336h1.8v1.3h-1.8zM56.5 336h1.3v1.3h-1.3zM697.4 336h1.8v1.3h-1.8zM695.2 336h1.3v1.3h-1.3zM53.8 348.8h1.8v1.3h-1.8zM56.5 348.8h1.3v1.3h-1.3zM697.4 348.8h1.8v1.3h-1.8zM695.2 348.8h1.3v1.3h-1.3zM53.8 361.7h1.8v1.3h-1.8zM56.5 361.7h1.3v1.3h-1.3zM697.4 361.7h1.8v1.3h-1.8zM695.2 361.7h1.3v1.3h-1.3zM53.8 374.6h1.8v1.3h-1.8zM56.5 374.6h1.3v1.3h-1.3zM697.4 374.6h1.8v1.3h-1.8zM695.2 374.6h1.3v1.3h-1.3zM53.8 387.4h1.8v1.3h-1.8zM56.5 387.4h1.3v1.3h-1.3zM697.4 387.4h1.8v1.3h-1.8zM695.2 387.4h1.3v1.3h-1.3zM53.8 400.3h1.8v1.3h-1.8zM56.5 400.3h1.3v1.3h-1.3zM697.4 400.3h1.8v1.3h-1.8zM695.2 400.3h1.3v1.3h-1.3zM53.8 413.2h1.8v1.3h-1.8zM56.5 413.2h1.3v1.3h-1.3zM697.4 413.2h1.8v1.3h-1.8zM695.2 413.2h1.3v1.3h-1.3zM53.8 426.1h1.8v1.3h-1.8zM56.5 426.1h1.3v1.3h-1.3zM697.4 426.1h1.8v1.3h-1.8zM695.2 426.1h1.3v1.3h-1.3zM53.8 438.9h1.8v1.3h-1.8zM56.5 438.9h1.3v1.3h-1.3zM697.4 438.9h1.8v1.3h-1.8zM695.2 438.9h1.3v1.3h-1.3zM53.8 451.8h1.8v1.3h-1.8zM56.5 451.8h1.3v1.3h-1.3zM697.4 451.8h1.8v1.3h-1.8zM695.2 451.8h1.3v1.3h-1.3zM53.8 464.7h1.8v1.3h-1.8zM56.5 464.7h1.3v1.3h-1.3zM697.4 464.7h1.8v1.3h-1.8zM695.2 464.7h1.3v1.3h-1.3zM53.8 477.6h1.8v1.3h-1.8zM56.5 477.6h1.3v1.3h-1.3zM697.4 477.6h1.8v1.3h-1.8zM695.2 477.6h1.3v1.3h-1.3zM53.8 490.4h1.8v1.3h-1.8zM56.5 490.4h1.3v1.3h-1.3zM697.4 490.4h1.8v1.3h-1.8zM695.2 490.4h1.3v1.3h-1.3zM53.8 503.3h1.8v1.3h-1.8zM56.5 503.3h1.3v1.3h-1.3zM697.4 503.3h1.8v1.3h-1.8zM695.2 503.3h1.3v1.3h-1.3zM53.8 516.2h1.8v1.3h-1.8zM56.5 516.2h1.3v1.3h-1.3zM697.4 516.2h1.8v1.3h-1.8zM695.2 516.2h1.3v1.3h-1.3zM53.8 529.1h1.8v1.3h-1.8zM56.5 529.1h1.3v1.3h-1.3zM697.4 529.1h1.8v1.3h-1.8zM695.2 529.1h1.3v1.3h-1.3zM53.8 541.9h1.8v1.3h-1.8zM56.5 541.9h1.3v1.3h-1.3zM697.4 541.9h1.8v1.3h-1.8zM695.2 541.9h1.3v1.3h-1.3z"/>
<path fill="#ee1c24" d="M369 39.7h15l-7.5 7.5z"/>
<path d="M26.4 410.3H42.1L53.1 420.8L42.1 431.3H26.4Z" fill="#fff" stroke="#00e8e8" stroke-width="1.3"/><text x="36.9" y="428.1" font-family="Liberation Sans" font-weight="bold" font-size="19" fill="#00e8e8" text-anchor="middle">2</text>
<path d="M26.4 394.3H42.1L53.1 404.5L42.1 414.7H26.4Z" fill="#990f99" stroke="#990f99" stroke-width="1.3"/><text x="36.9" y="411.5" font-family="Liberation Sans" font-weight="bold" font-size="19" fill="#fff" text-anchor="middle">3</text>
<path d="M26.4 425.2H42.1L53.1 435.8L42.1 446.4H26.4Z" fill="#fff" stroke="#2a2aa8" stroke-width="1.3"/><text x="36.9" y="443.2" font-family="Liberation Sans" font-weight="bold" font-size="19" fill="#0a0a90" text-anchor="middle">4</text>
<path fill="none" stroke="#4472c4" stroke-width="4.2" d="M511.9 55V102 M509.8 102H562.7"/>
<path fill="#4472c4" d="M511.9 43 L524.4 67 L511.9 57 L499.4 67 Z"/>
<path fill="#4472c4" d="M574.7 102 L550.7 114 L559.7 102 L550.7 90 Z"/>
<text x="449.1" y="112.2" font-family="Liberation Serif" font-size="15.8" font-weight="bold" fill="#000" text-anchor="start" textLength="49" lengthAdjust="spacingAndGlyphs">0.2 Wb</text>
<text x="512.7" y="127.2" font-family="Liberation Serif" font-size="15.5" font-weight="bold" fill="#000" text-anchor="start" textLength="45.2" lengthAdjust="spacingAndGlyphs">100 ms</text>
<path fill="none" stroke="#4472c4" stroke-width="4.2" d="M569.6 305.2V352.4 M567.5 352.4H621"/>
<path fill="#4472c4" d="M569.6 293.2 L582.1 317.2 L569.6 307.2 L557.1 317.2 Z"/>
<path fill="#4472c4" d="M633 352.4 L609 364.4 L618 352.4 L609 340.4 Z"/>
<text x="519.5" y="362.4" font-family="Liberation Serif" font-size="15.8" font-weight="bold" fill="#000" text-anchor="start" textLength="36.9" lengthAdjust="spacingAndGlyphs">1 Wb</text>
<text x="569.6" y="369.2" font-family="Liberation Serif" font-size="15.5" font-weight="bold" fill="#000" text-anchor="start" textLength="46" lengthAdjust="spacingAndGlyphs">100 ms</text>
<path fill="none" stroke="#00ffff" stroke-width="4.5" d="M164.8 232.6L138.5 194"/><path fill="#00ffff" d="M131.4 183.6L150.6 192.3L138.5 194L132.4 204.7Z"/>
<path fill="none" stroke="#22ee22" stroke-width="1.5" d="M203 186L207 184L211 181.5L215 179.5L219 177L223 173L227 170.5"/>
<path fill="none" stroke="#22dd44" stroke-width="4.5" d="M242.8 238.2L219.3 198.8"/><path fill="#22dd44" d="M212.8 188L231.5 197.8L219.3 198.8L212.6 209.1Z"/>
<text x="79.7" y="249.4" font-family="Liberation Serif" font-size="16.3" font-weight="normal" fill="#000" text-anchor="start" textLength="100.3" lengthAdjust="spacingAndGlyphs">Reference Flux</text>
<text x="251.1" y="250.3" font-family="Liberation Serif" font-size="16.3" font-weight="normal" fill="#000" text-anchor="start" textLength="63.4" lengthAdjust="spacingAndGlyphs">Real Flux</text>
<text x="51.3" y="577.8" font-family="Liberation Sans" font-size="18.5" font-weight="normal" fill="#119a11" text-anchor="start" textLength="36.6" lengthAdjust="spacing" stroke="#119a11" stroke-width="0.45">Ch1</text>
<rect x="92.2" y="561.3" width="125.6" height="20.6" fill="#fff" stroke="#a9a9a9" stroke-width="1.6"/>
<text x="115.5" y="578.6" font-family="Liberation Sans" font-size="18.5" font-weight="normal" fill="#119a11" text-anchor="start" textLength="70" lengthAdjust="spacing" stroke="#119a11" stroke-width="0.45">200mV</text>
<text x="220.9" y="577.8" font-family="Liberation Sans" font-size="18.5" font-weight="normal" fill="#00f0f0" text-anchor="start" textLength="37.9" lengthAdjust="spacing" stroke="#00f0f0" stroke-width="0.45">Ch2</text>
<rect x="262.2" y="561.3" width="125.8" height="20.6" fill="#fff" stroke="#a9a9a9" stroke-width="1.6"/>
<text x="286.4" y="578.6" font-family="Liberation Sans" font-size="18.5" font-weight="normal" fill="#00f0f0" text-anchor="start" textLength="70.2" lengthAdjust="spacing" stroke="#00f0f0" stroke-width="0.45">200mV</text>
<text x="390.8" y="577.5" font-family="Liberation Sans" font-size="18.5" font-weight="normal" fill="#000" text-anchor="start" textLength="15.2" lengthAdjust="spacing" stroke="#000" stroke-width="0.45">M</text>
<rect x="408.9" y="561.2" width="76.6" height="20.8" fill="#fff" stroke="#a9a9a9" stroke-width="1.6"/>
<text x="417.9" y="578.3" font-family="Liberation Sans" font-size="18.5" font-weight="normal" fill="#000" text-anchor="start" textLength="62" lengthAdjust="spacing" stroke="#000" stroke-width="0.45">100ms</text>
<text x="505" y="578.3" font-family="Liberation Sans" font-size="18.5" font-weight="normal" fill="#000" text-anchor="start" textLength="13.7" lengthAdjust="spacing" stroke="#000" stroke-width="0.45">A</text>
<rect x="520.7" y="562.2" width="179.8" height="20.8" fill="#fff" stroke="#a9a9a9" stroke-width="1.6"/>
<text x="537.7" y="578.8" font-family="Liberation Sans" font-size="18.5" font-weight="normal" fill="#9a109a" text-anchor="start" textLength="36.3" lengthAdjust="spacing" stroke="#9a109a" stroke-width="0.45">Ch1</text>
<path fill="none" stroke="#000" stroke-width="2.6" d="M590.2 577.5H595.5L599.5 566H605"/>
<rect x="613.3" y="571.2" width="9.5" height="1.8" fill="#000"/>
<text x="629" y="578.8" font-family="Liberation Sans" font-size="18.5" font-weight="normal" fill="#000" text-anchor="start" textLength="68.4" lengthAdjust="spacing" stroke="#000" stroke-width="0.45">64.0mV</text>
<rect x="50.4" y="585.9" width="39.6" height="20" fill="#990f99"/>
<text x="51.3" y="601.6" font-family="Liberation Sans" font-size="18.5" font-weight="normal" fill="#fff" text-anchor="start" textLength="36.6" lengthAdjust="spacing" stroke="#fff" stroke-width="0.45">Ch3</text>
<rect x="92.2" y="585.6" width="125.6" height="21.2" fill="#fff" stroke="#a9a9a9" stroke-width="1.6"/>
<text x="117.1" y="601.6" font-family="Liberation Sans" font-size="18.5" font-weight="normal" fill="#9a109a" text-anchor="start" textLength="61" lengthAdjust="spacing" stroke="#9a109a" stroke-width="0.45">1.00 V</text>
<path fill="none" stroke="#9a109a" stroke-width="2" stroke-linecap="round" d="M184.4 595.2q1.2 -7 2.9 -6.5l6.5 12.6q2.2 0.6 2.8 -6.1"/>
<text x="220.9" y="601.4" font-family="Liberation Sans" font-size="18.5" font-weight="normal" fill="#101090" text-anchor="start" textLength="37" lengthAdjust="spacing" stroke="#101090" stroke-width="0.45">Ch4</text>
<rect x="262.2" y="585.6" width="125.8" height="21.2" fill="#fff" stroke="#a9a9a9" stroke-width="1.6"/>
<text x="287.3" y="601.6" font-family="Liberation Sans" font-size="18.5" font-weight="normal" fill="#101090" text-anchor="start" textLength="61" lengthAdjust="spacing" stroke="#101090" stroke-width="0.45">1.00 V</text>
<path fill="none" stroke="#101090" stroke-width="2" stroke-linecap="round" d="M354.6 595.2q1.2 -7 2.9 -6.5l6.5 12.6q2.2 0.6 2.8 -6.1"/>
<text x="755" y="29.2" font-family="Liberation Serif" font-size="27" font-weight="bold" fill="#000" text-anchor="start" textLength="39.7" lengthAdjust="spacingAndGlyphs">Tek</text>
<text x="799.5" y="28.9" font-family="Liberation Sans" font-size="17" font-weight="bold" fill="#000" text-anchor="start" textLength="35.5" lengthAdjust="spacingAndGlyphs">Stop</text>
<path fill="none" stroke="#222" stroke-width="1.6" d="M970.8 10.4H967.8V30H970.8 M1244.2 10.4H1247.2V30H1244.2"/>
<rect x="968.8" y="19.2" width="277.4" height="2" fill="#b040c0"/>
<path fill="#ee1c24" d="M1102.4 10.4h12l-6 5.6z"/>
<rect x="779.9" y="30.5" width="655.4" height="527" fill="#8a8a8a"/>
<rect x="783.8" y="34.7" width="649.2" height="520.7" fill="#fff"/>
<rect x="783.1" y="34" width="650" height="521.5" fill="none" stroke="#1a1a1a" stroke-width="1.4" stroke-dasharray="1.3 1.3"/>
<g clip-path="url(#cB)">
<path fill="none" stroke="#00ff00" stroke-width="1.45" d="M785 159.6V178.9M786.3 140V176.2M787.6 158.8V176.1M788.9 158V178.8M790.2 167.7V176M791.4 158.2V178.6M792.7 158.1V176.3M794 157.6V178.5M795.3 157V177.2M796.6 158.6V177.9M797.9 159.2V177.9M799.2 160V177.1M800.5 159.1V177.6M801.8 158.7V178.1M803.1 157.1V175.8M804.3 158.4V178.8M805.6 157.9V178.6M806.9 157.7V176.3M808.2 154.3V176.4M809.5 159.6V177.1M810.8 158.3V178.4M812.1 160.8V177.6M813.4 160.1V176.8M814.7 157.6V178.4M816 157.9V176.2M817.2 160.2V178.2M818.5 160.3V178.4M819.8 165.1V175.6M821.1 158.6V177.8M822.4 159.2V177.9M823.7 157.7V179M825 168.3V176.7M826.3 157V177.4M827.6 160.4V178.9M828.9 157.6V175.8M830.1 164.2V178.8M831.4 159.5V177M832.7 158.5V176.9M834 161.3V179M835.3 167.4V177.1M836.6 160.4V176.5M837.9 157.8V176.3M839.2 164.1V178.2M840.5 159.5V178M841.8 159.2V176.4M843 157.6V177.5M844.3 158.9V176.7M845.6 159V178.6M846.9 157.1V177M848.2 158.3V177.9M849.5 158.3V178.8M850.8 158.1V176.4M852.1 161V178.9M853.4 164V177.5M854.7 157.5V178M855.9 157.9V176.6M857.2 166.1V178.2M858.5 159.2V178.3M859.8 158.5V177.9M861.1 159.6V178.7M862.4 159.9V187.5M863.7 160.5V174.6M865 159.8V178.8M866.3 160V177.8M867.6 158.7V188M868.8 148.6V177.9M870.1 157.6V175M871.4 157.6V176.7M872.7 158.3V175.5M874 157.9V178.1M875.3 158.6V178.7M876.6 159.2V178.1M877.9 158.4V178.5M879.2 158V176.9M880.5 157.1V174.9M881.7 157.5V177.2M883 160.7V176M884.3 158V176.8M885.6 160.5V176.4M886.9 158V176.1M888.2 157.4V178.2M889.5 157.8V177.9M890.8 160.3V178.6M892.1 158.7V179M893.4 159.8V176.4M894.6 164.5V178.9M895.9 157.8V178.4M897.2 157.7V177.8M898.5 159V179M899.8 158.1V177.6M901.1 159.7V174.8M902.4 157.1V175.8M903.7 157.1V176.8M905 161.2V178.2M906.3 158.2V177.8M907.5 157.7V178.2M908.8 159.6V174.6M910.1 161.1V176.5M911.4 161.8V177.7M912.7 157.8V178.1M914 161.5V177.3M915.3 158.9V176.3M916.6 157.5V176.8M917.9 152.1V178.4M919.2 157.8V178.3M920.4 158.7V176.5M921.7 158.9V178.9M923 158.5V175M924.3 159V176.4M925.6 157.3V177.3M926.9 157.9V178.5M928.2 158.9V177.8M929.5 160.3V178.1M930.8 157.8V179M932.1 155V177.1M933.3 154.1V176.1M934.6 157.2V177.5M935.9 153.6V178M937.2 151.3V175M938.5 150V173.2M939.8 150.7V177.7M941.1 148.4V178.6M942.4 144.5V177.7M943.7 142.6V173.3M945 141.7V187.2M946.2 140.9V172.7M947.5 139.9V171.8M948.8 144.5V167.3M950.1 153.7V168.7M951.4 138.8V166.1M952.7 147.1V160.8M954 135.2V160.2M955.3 133.3V153.5M956.6 131.8V154.8M957.9 133V152.7M959.1 126V151.1M960.4 124V146.6M961.7 122.4V145.5M963 120.7V143.3M964.3 116.5V140.5M965.6 111.3V138.6M966.9 109.2V135.6M968.2 104.3V133.4M969.5 99.7V129.7M970.8 93.8V128.9M972 90.7V120.6M973.3 91.4V123.3M974.6 87.5V122.2M975.9 84.7V115M977.2 110V121.2M978.5 90.2V118.5M979.8 89.7V119M981.1 88.7V118.5M982.4 86.7V119.1M983.7 81.7V116.9M984.9 81.8V117.1M986.2 82.8V115.5M987.5 85.8V115.2M988.8 89V121.5M990.1 88.5V124.4M991.4 94.5V119.8M992.7 94.8V126.8M994 96.4V125.4M995.3 97.9V128M996.6 100.6V127M997.8 104.5V130.2M999.1 107.3V130.2M1000.4 92.9V132.1M1001.7 109.3V129.4M1003 108.4V129M1004.3 109.7V129.5M1005.6 108.6V126.4M1006.9 109.3V129.1M1008.2 107.7V126.8M1009.5 105.5V126.5M1010.7 105.8V122.2M1012 103.6V123.1M1013.3 102.1V119.6M1014.6 98.6V117.3M1015.9 96.2V118.1M1017.2 94.6V117.4M1018.5 95.5V117.1M1019.8 100.5V115.9M1021.1 93.3V113.7M1022.4 89.8V115.8M1023.6 91.8V114.6M1024.9 93.5V115.5M1026.2 94.8V118.5M1027.5 92.5V118.9M1028.8 95.2V119.8M1030.1 94.3V121.3M1031.4 97.9V121.8M1032.7 99.5V119.8M1034 98.1V123.7M1035.3 97.4V122.1M1036.5 100.8V122.3M1037.8 97.6V120.9M1039.1 98.6V121.5M1040.4 97.5V122.3M1041.7 80.3V118.8M1043 99.3V122.9M1044.3 97.3V121.3M1045.6 100.1V122.2M1046.9 97.3V121.1M1048.2 96.1V119.4M1049.4 95.8V114.9M1050.7 93.3V116.6M1052 90.9V114.3M1053.3 106.8V114.6M1054.6 89.4V113.3M1055.9 88V111.2M1057.2 89.8V112.2M1058.5 87.9V109.6M1059.8 102.7V113.1M1061.1 88.8V113.9M1062.3 89.1V113.9M1063.6 88.7V113.9M1064.9 88.3V112.6M1066.2 89.6V115.6M1067.5 92.4V115.3M1068.8 102.1V114.6M1070.1 96.2V117.3M1071.4 95.1V119.4M1072.7 96.5V119.9M1074 97.7V121.4M1075.2 98.2V117.6M1076.5 108.6V122.4M1077.8 99.4V129.9M1079.1 100.9V121.6M1080.4 101.6V123.2M1081.7 101.7V120.8M1083 102.9V122M1084.3 103.1V122.1M1085.6 103.2V125.3M1086.9 105.5V127.1M1088.1 104.7V128.2M1089.4 107.1V125.4M1090.7 106.8V129.9M1092 105.3V129.5M1093.3 95.7V128M1094.6 114.4V131.1M1095.9 104.7V129.9M1097.2 104.1V126.7M1098.5 103.6V138.6M1099.8 116V131.1M1101 106.1V132M1102.3 108.2V128.7M1103.6 102.1V130.6M1104.9 101.2V132.6M1106.2 91.4V131.1M1107.5 90.7V124.3M1108.8 99V130.6M1110.1 97.8V128.4M1111.4 97.8V128.9M1112.7 113V128.1M1113.9 98.5V126.8M1115.2 96.1V125.8M1116.5 95.3V123.7M1117.8 95.3V123.7M1119.1 96.9V121.4M1120.4 97.8V122.5M1121.7 94V124.2M1123 99V125.5M1124.3 96.6V128.1M1125.6 102.3V130.4M1126.8 100.5V134.9M1128.1 104.8V137.1M1129.4 103.8V136.1M1130.7 109.7V140.5M1132 112.5V144.1M1133.3 111.1V141.5M1134.6 112.9V145.4M1135.9 117.3V146.4M1137.2 118.7V147.7M1138.5 127.1V148.4M1139.7 124.1V150.5M1141 125V150M1142.3 125.4V153.8M1143.6 128.1V153.6M1144.9 130.6V153.7M1146.2 127.8V156.5M1147.5 133.4V158M1148.8 130.1V160.2M1150.1 131.9V159.9M1151.4 134.9V160.2M1152.6 134.4V160.1M1153.9 140V161.2M1155.2 138V161.3M1156.5 140.3V163.7M1157.8 141.8V165.3M1159.1 141V165.4M1160.4 147.1V164.6M1161.7 144.5V164.3M1163 149.8V169.7M1164.3 148.5V168.6M1165.5 151.7V171.3M1166.8 158.7V173.1M1168.1 152.9V174.2M1169.4 165.4V174.5M1170.7 159.5V177.5M1172 160.1V177.9M1173.3 166.7V181.6M1174.6 162V182.9M1175.9 167.7V182M1177.2 164.3V185.9M1178.4 165.4V183.8M1179.7 166.2V187.3M1181 169.7V184.1M1182.3 170.2V187.3M1183.6 167.4V184.2M1184.9 178.5V185M1186.2 167.8V183.6M1187.5 168.8V184.2M1188.8 166.5V181.5M1190.1 164.2V182.1M1191.3 162.8V181.4M1192.6 161.6V176M1193.9 157.6V176.4M1195.2 156.3V171.6M1196.5 153.9V172.1M1197.8 159.3V170.1M1199.1 151V166.8M1200.4 150.5V169.1M1201.7 148.3V167.4M1203 148.8V166.4M1204.2 149V168.2M1205.5 147.7V166.4M1206.8 146.2V166.1M1208.1 147.1V167.4M1209.4 149.8V170.1M1210.7 153.9V171M1212 148V169.8M1213.3 151.5V170.7M1214.6 146.3V171.5M1215.9 146.5V172.4M1217.1 150.4V167.3M1218.4 147.8V172.3M1219.7 149V172.9M1221 149.6V170.8M1222.3 149.3V170.9M1223.6 151.1V172.9M1224.9 147.4V170.9M1226.2 148.9V170.7M1227.5 147.5V172.7M1228.8 160.9V171.2M1230 148V172M1231.3 149.1V170.4M1232.6 150.4V172.2M1233.9 147.8V170.9M1235.2 147.7V172.6M1236.5 147.4V171.5M1237.8 150.5V173.1M1239.1 151.5V171.8M1240.4 147.1V173M1241.7 148.1V171.4M1242.9 151.1V172.4M1244.2 147.8V170.5M1245.5 151.5V172.1M1246.8 148.1V172.4M1248.1 131.6V170.1M1249.4 147.9V172M1250.7 151.2V173.4M1252 147.3V170.3M1253.3 155.6V171.8M1254.6 147.1V173.2M1255.8 147.8V171.6M1257.1 149.8V168.7M1258.4 147.2V172.1M1259.7 148.5V171.9M1261 148.2V173.7M1262.3 148.6V172.8M1263.6 150.9V173.3M1264.9 148.3V171.6M1266.2 149.1V173.7M1267.5 151.3V173.6M1268.7 150.6V170M1270 152.1V173.1M1271.3 150.6V174M1272.6 148.8V173.2M1273.9 151.2V174.3M1275.2 151.3V171.6M1276.5 149.9V173.1M1277.8 153.6V172.9M1279.1 153.4V171.9M1280.4 150.6V173.9M1281.6 153.6V172.7M1282.9 151.4V173.6M1284.2 150.8V174.1M1285.5 151.9V174M1286.8 154.6V171M1288.1 153.8V170.6M1289.4 152.4V174.4M1290.7 151.2V173.9M1292 152.1V171.6M1293.3 152V171.4M1294.5 152.3V173.3M1295.8 153.4V171.8M1297.1 152.3V174.8M1298.4 156V172.1M1299.7 167.6V174.8M1301 151.6V174.1M1302.3 167.9V173.6M1303.6 152.1V174M1304.9 151.9V174M1306.2 154.4V172.4M1307.4 151.4V173.3M1308.7 153.8V170.9M1310 151.1V178.1M1311.3 153.3V174.8M1312.6 165.7V174.5M1313.9 151.2V174.2M1315.2 151.6V171.2M1316.5 152.7V173.8M1317.8 154.1V174.1M1319.1 152.2V173.1M1320.3 152.3V172.8M1321.6 155.1V174.1M1322.9 166.5V169.9M1324.2 151.1V173.1M1325.5 152.3V172.1M1326.8 153.9V172.9M1328.1 157.7V173.3M1329.4 152.4V172.8M1330.7 150.8V174.3M1332 157.6V174.3M1333.2 155.1V173.9M1334.5 153.7V174M1335.8 153.5V180.3M1337.1 150.3V171.8M1338.4 152.4V173.9M1339.7 152.4V170.7M1341 159.2V173.1M1342.3 153V173.2M1343.6 151.1V170.6M1344.9 150V171.2M1346.1 150V173.3M1347.4 153.1V173.8M1348.7 160.8V172.1M1350 152.4V172.6M1351.3 150.4V173.2M1352.6 152.3V172.8M1353.9 152.7V172.3M1355.2 152V172.9M1356.5 152.9V173.1M1357.8 150.1V173.4M1359 151.8V172.5M1360.3 151.2V172.9M1361.6 151.9V170.8M1362.9 151.5V170.6M1364.2 152V173.5M1365.5 151.9V171.1M1366.8 150.6V172.2M1368.1 153.1V173.8M1369.4 150.9V170.7M1370.7 152.4V173.2M1371.9 154.1V171.5M1373.2 154V173.1M1374.5 159.8V173.8M1375.8 155V173.8M1377.1 153.3V173.8M1378.4 151.2V172.9M1379.7 154.9V173M1381 154V171.4M1382.3 153.8V171M1383.6 151.8V173.9M1384.8 155V170.5M1386.1 151.8V174.5M1387.4 155.2V171.7M1388.7 153.2V173.9M1390 152.6V173M1391.3 153.4V173.7M1392.6 153.7V174.2M1393.9 154.1V172.5M1395.2 155.1V174.4M1396.5 152.6V174.3M1397.7 154.6V173.8M1399 153.9V173.8M1400.3 154.1V173.1M1401.6 153V175M1402.9 155.4V173.1M1404.2 155.8V172.4M1405.5 152.9V173.7M1406.8 154V174.8M1408.1 163.7V174.8M1409.4 153.5V173.8M1410.6 152.9V173.1M1411.9 152.7V174.3M1413.2 153V173.7M1414.5 157V174.5M1415.8 152.5V180.3M1417.1 156.2V174.1M1418.4 137V174.9M1419.7 157V174M1421 152.4V174.9M1422.3 152.7V174M1423.5 156.1V172.1M1424.8 152.2V173.9M1426.1 152.7V174.3M1427.4 154.9V173.1M1428.7 151.6V171.7M1430 152.5V172.7M1431.3 165.4V174.3"/><path fill="none" stroke="#5cff5c" stroke-width="1.1" d="M790.5 160.9V169.7M791.7 153.3V160.2M796.9 150.9V160.6M798.2 153.1V161.2M799.5 152V162M808.5 148.7V156.3M809.8 150.3V161.6M811.1 151.4V160.3M812.4 151.8V162.8M815 153.6V159.6M817.5 151.7V162.2M822.7 154.2V161.2M824 150.7V159.7M825.3 161V170.3M830.4 156.4V166.2M834.3 157V163.3M835.6 163.2V169.4M838.2 153.2V159.8M844.6 153.1V160.9M848.5 153V160.3M856.2 150.7V159.9M865.3 154.9V161.8M867.9 151.3V160.7M869.1 143.2V150.6M871.7 151.6V159.6M878.2 152.2V160.4M880.8 151.7V159.1M892.4 150.8V160.7M900.1 153.1V160.1M901.4 155.1V161.7M902.7 150.7V159.1M906.6 150.4V160.2M909.1 146V161.6M911.7 157.4V163.8M914.3 153.8V163.5M918.2 145V154.1M919.5 146.1V159.8M920.7 153.8V160.7M925.9 149V159.3M928.5 147.5V160.9M929.8 154.1V162.3M936.2 144.2V155.6M954.3 128.2V137.2M962 117.6V124.4M964.6 102.3V118.5M977.5 104.3V112M980.1 79V91.7M981.4 76.9V90.7M984 70.9V83.7M987.8 48.4V87.8M1000.7 87.7V94.9M1002 103.3V111.3M1003.3 104.2V110.4M1004.6 103.3V111.7M1005.9 103.9V110.6M1013.6 92.6V104.1M1017.5 89.9V96.6M1018.8 87.4V97.5M1021.4 87.9V95.3M1022.7 71.8V91.8M1026.5 81.8V96.8M1033 92.7V101.5M1039.4 92.1V100.6M1040.7 92.3V99.5M1042 70.7V82.3M1043.3 89.6V101.3M1048.5 90.8V98.1M1062.6 84.7V91.1M1063.9 78.6V90.7M1069.1 93.1V104.1M1073 90.3V98.5M1076.8 100.8V110.6M1080.7 95.7V103.6M1087.2 98.8V107.5M1092.3 97.7V107.3M1093.6 79.7V97.7M1096.2 98.3V106.7M1103.9 97.4V104.1M1105.2 90.5V103.2M1107.8 70.1V92.7M1113 99.7V115M1118.1 79.8V97.3M1122 89.1V96M1124.6 89.1V98.6M1125.9 95.2V104.3M1127.1 85.9V102.5M1131 101.7V111.7M1134.9 99.7V114.9M1137.5 112.5V120.7M1141.3 120.9V127M1142.6 112.1V127.4M1147.8 118.2V135.4M1150.4 124.7V133.9M1151.7 127.2V136.9M1154.2 133.5V142M1155.5 133.5V140M1163.3 132.9V151.8M1168.4 147.4V154.9M1172.3 153.8V162.1M1177.5 159.1V166.3M1181.3 162.6V171.7M1182.6 165.1V172.2M1186.5 162.4V169.8M1190.4 155V166.2M1191.6 157.6V164.8M1198.1 154.8V161.3M1203.3 144.5V150.8M1205.8 143.2V149.7M1217.4 145.7V152.4M1221.3 143.5V151.6M1222.6 145V151.3M1223.9 142.3V153.1M1236.8 139.5V149.4M1238.1 145.2V152.5M1245.8 141.2V153.5M1249.7 143V149.9M1253.6 146.6V157.6M1256.1 135.1V149.8M1260 140.9V150.5M1262.6 144.1V150.6M1263.9 145.2V152.9M1274.2 142.7V153.2M1279.4 146.8V155.4M1281.9 146.1V155.6M1283.2 144.4V153.4M1285.8 143.4V153.9M1289.7 146.5V154.4M1293.6 146.8V154M1303.9 143.1V154.1M1306.5 149.3V156.4M1311.6 149V155.3M1314.2 139.2V153.2M1316.8 143.9V154.7M1328.4 151.4V159.7M1331 146.4V152.8M1340 146.4V154.4M1341.3 150.1V161.2M1342.6 148.5V155M1347.7 148.5V155.1M1355.5 143.7V154M1361.9 142.8V153.9M1367.1 141.1V152.6M1380 150.9V156.9M1386.4 143.9V153.8M1389 145.8V155.2M1399.3 149V155.9M1401.9 145.4V155M1403.2 151.2V157.4M1407.1 145.3V156M1409.7 148.3V155.5M1410.9 147.3V154.9M1413.5 144.3V155M1414.8 148.1V159M1416.1 147.8V154.5M1421.3 144.9V154.4M1427.7 148.6V156.9M1431.6 156.9V167.4M785.3 176.9V183.8M789.2 176.8V190.6M799.5 175.1V180.2M802.1 176.1V183.5M808.5 174.4V180.4M811.1 176.4V185.9M825.3 174.7V179.9M827.9 176.9V183.5M839.5 176.2V183.6M840.8 176V181.5M842.1 174.4V183.5M844.6 174.7V181.1M847.2 175V180.5M860.1 175.9V185.8M864 172.6V178.4M865.3 176.8V185M875.6 176.7V183.8M878.2 176.5V183.3M885.9 174.4V180.5M894.9 176.9V184.3M896.2 176.4V186.4M914.3 175.3V183.2M918.2 176.4V181.9M919.5 176.3V188.1M922 176.9V182.6M923.3 173V180.1M931.1 177V183.9M932.4 175.1V183.6M941.4 176.6V188M950.4 166.7V183.3M956.9 152.8V159M958.2 150.7V164.7M962 143.5V155.8M969.8 127.7V133.5M989.1 119.5V127.8M998.1 128.2V136.7M1012.3 121.1V127.7M1020.1 113.9V123.9M1027.8 116.9V129.5M1031.7 119.8V125.7M1036.8 120.3V132.4M1048.5 117.4V128.4M1065.2 110.6V122.2M1066.5 113.6V123.9M1076.8 120.4V127.4M1083.3 120V127.2M1093.6 126V135.1M1096.2 127.9V141.6M1097.5 124.7V133.8M1100.1 129.1V142.6M1101.3 130V138.8M1113 126.1V138.6M1118.1 121.7V133.4M1125.9 128.4V143.6M1134.9 143.4V159.4M1143.9 151.6V160.2M1145.2 151.7V157.4M1147.8 156V163.7M1169.7 172.5V177.9M1189.1 179.5V184.5M1191.6 179.4V184.5M1196.8 170.1V175.4M1199.4 164.8V171.1M1211 169V176M1213.6 168.7V173.7M1218.7 170.3V176.6M1225.2 168.9V175.5M1227.8 170.7V179.2M1238.1 171.1V178M1239.4 169.8V181.9M1243.2 170.4V175.5M1258.7 170.1V176.5M1265.2 169.6V177.5M1283.2 171.6V177.6M1289.7 172.4V178.1M1292.3 169.6V174.8M1294.8 171.3V178.2M1297.4 172.8V181.3M1300 172.8V178.1M1309 168.9V174.5M1311.6 172.8V179.7M1314.2 172.2V181.4M1320.6 170.8V176.7M1321.9 172.1V183.4M1323.2 167.9V173.2M1325.8 170.1V180.9M1331 172.3V181.4M1340 168.7V177.4M1346.4 171.3V178.4M1351.6 171.2V178.3M1359.3 170.5V177.6M1368.4 171.8V176.9M1371 171.2V181.8M1383.9 171.9V178.5M1386.4 172.5V178.3M1387.7 169.7V180.2M1390.3 171V178.9M1394.2 170.5V178.4M1399.3 171.8V178.4M1400.6 171.1V178.9M1413.5 171.7V179.3M1421.3 172.9V180.3M1431.6 172.3V178.6"/>
<path stroke="#44ff44" stroke-width="1.5" fill="none" d="M813.3 149V186.3M933.3 149V182M967.3 158V178.3M1097.3 140V190M1101.3 147.4V185M1144.3 149.5V193.4M1432.3 138.1V175M1292.3 140V179.7M1372.3 150V197.1M1331.3 145V180"/>
<polyline fill="none" stroke="#00ffff" stroke-width="2.2" points="784.8,164.3 785.4,165 786.1,165.6 786.7,165.6 787.4,166.7 788,166 788.7,162.5 789.3,164.8 790,163.2 790.6,164.8 791.2,165.8 791.9,163.8 792.5,164 793.2,165.3 793.8,164.9 794.5,166.7 795.1,165.5 795.8,165.7 796.4,166.9 797.1,164.7 797.7,165.2 798.3,164.2 799,165.4 799.6,166.2 800.3,166.5 800.9,165.1 801.6,164.4 802.2,164.4 802.9,163.8 803.5,165.3 804.1,166.5 804.8,162.8 805.4,163 806.1,166.6 806.7,163.6 807.4,165.5 808,163.9 808.7,165.9 809.3,165.9 810,165.3 810.6,166 811.2,165.2 811.9,165.7 812.5,167 813.2,166.3 813.8,164.5 814.5,164.4 815.1,164.9 815.8,164.9 816.4,165.2 817,164.6 817.7,165.8 818.3,165.2 819,165.5 819.6,165.2 820.3,165.8 820.9,164 821.6,166.7 822.2,165.5 822.9,165.6 823.5,165.8 824.1,166.3 824.8,165.9 825.4,165.4 826.1,165 826.7,163.5 827.4,165.4 828,164.9 828.7,164.9 829.3,167.6 829.9,163.3 830.6,165.2 831.2,166.4 831.9,166.1 832.5,166.4 833.2,163.9 833.8,164.2 834.5,165.8 835.1,164.9 835.8,166.9 836.4,165.4 837,165.4 837.7,165.6 838.3,164.9 839,165.3 839.6,164.5 840.3,165.1 840.9,164.7 841.6,165.4 842.2,163.8 842.8,163.7 843.5,165.6 844.1,165.4 844.8,164.2 845.4,165 846.1,164.1 846.7,167.2 847.4,163.6 848,166.9 848.7,164.4 849.3,165.6 849.9,164.9 850.6,164.8 851.2,166.1 851.9,166 852.5,164.9 853.2,164.3 853.8,167.3 854.5,166.6 855.1,165.3 855.7,164.9 856.4,165.5 857,165.3 857.7,166.4 858.3,164.2 859,165.2 859.6,164.4 860.3,166.5 860.9,167 861.6,165.1 862.2,165.7 862.8,166.6 863.5,164.9 864.1,164.3 864.8,166.2 865.4,165.7 866.1,165 866.7,166.7 867.4,165.4 868,163.4 868.6,165.5 869.3,165.1 869.9,167.1 870.6,165.2 871.2,165 871.9,165.6 872.5,165.4 873.2,163.8 873.8,165.3 874.5,164.9 875.1,166.6 875.7,167.6 876.4,164.1 877,164.2 877.7,164.3 878.3,164.5 879,164.5 879.6,165.2 880.3,166.3 880.9,163.9 881.5,163.7 882.2,163.4 882.8,166.3 883.5,166.5 884.1,163.7 884.8,163.6 885.4,165.3 886.1,166.3 886.7,166.2 887.4,165.4 888,165.9 888.6,165.5 889.3,164.6 889.9,167.1 890.6,165.2 891.2,164.1 891.9,164.7 892.5,163.7 893.2,165.2 893.8,166.3 894.4,163.9 895.1,166.3 895.7,167.3 896.4,165.6 897,164 897.7,164.3 898.3,164.9 899,163.9 899.6,163.9 900.3,164.9 900.9,165 901.5,165.8 902.2,164 902.8,167.1 903.5,166.3 904.1,166.1 904.8,164.5 905.4,166.9 906.1,164.9 906.7,167 907.3,166.3 908,164.3 908.6,164.7 909.3,167.1 909.9,166.2 910.6,165 911.2,165.4 911.9,165.4 912.5,164.4 913.2,165 913.8,164.5 914.4,164.8 915.1,165.7 915.7,164.2 916.4,165.9 917,165.3 917.7,166 918.3,166.1 919,166.4 919.6,165.8 920.2,165.9 920.9,165 921.5,165.8 922.2,164.3 922.8,164.9 923.5,165.9 924.1,165.1 924.8,165.6 925.4,164.1 926.1,166.6 926.7,164.6 927.3,165.6 928,165.2 928.6,166.1 929.3,164.8 929.9,164.2 930.6,163.3 931.2,164.9 931.9,164 932.5,165.7 933.1,166.6 933.8,163 934.4,163.9 935.1,165.5 935.7,166.4 936.4,165.5 937,165.5 937.7,165.7 938.3,165.8 939,166.8 939.6,165.8 940.2,164 940.9,164.7 941.5,165.4 942.2,164.4 942.8,164.9 943.5,164.7 944.1,164.5 944.8,165.9 945.4,164.8 946,164.1 946.7,164.5 947.3,165.2 948,167.3 948.6,165.5 949.3,166.7 949.9,165.7 950.6,163 951.2,165.6 951.9,164.3 952.5,163.8 953.1,164.1 953.8,167 954.4,163.6 955.1,164.6 955.7,166.4 956.4,165.9 957,163.5 957.7,165.1 958.3,164.7 958.9,165 959.6,165.9 960.2,164.6 960.9,164.9 961.5,166.7 962.2,163.3 962.8,164.8 963.5,165.7 964.1,163.9 964.8,164.6 965.4,163.9 966,165.3 966.7,164.6 967.3,166 968,166.2 968.6,165.2 969.3,164.8 969.9,165.5 970.6,165.2 971.2,164 971.8,166.3 972.5,165.4 973.1,166 973.8,163.8 974.4,166.1 975.1,167.3 975.7,165.8 976.4,163.7 977,165.2 977.7,165.1 978.3,165.4 978.9,165 979.6,165.7 980.2,164.7 980.9,165.4 981.5,164.5 982.2,165.3 982.8,166.2 983.5,164.7 984.1,165.9 984.7,164.3 985.4,164.8 986,164.9 986.7,166.4 987.3,164.4 988,166.4 988.6,163.7 989.3,165 989.9,166.1 990.6,165.9 991.2,164.2 991.8,164 992.5,166.1 993.1,163.9 993.8,165.8 994.4,164.7 995.1,165.2 995.7,167.5 996.4,166.8 997,166 997.6,163.8 998.3,165.5 998.9,165.2 999.6,165.1 1000.2,166.5 1000.9,163.4 1001.5,165.5 1002.2,165.3 1002.8,164.4 1003.5,166.9 1004.1,163.9 1004.7,165.2 1005.4,165.3 1006,163 1006.7,163.7 1007.3,164.2 1008,166 1008.6,166.1 1009.3,165.8 1009.9,165.4 1010.5,163 1011.2,165.4 1011.8,164.7 1012.5,166.4 1013.1,166.5 1013.8,167.4 1014.4,165.9 1015.1,166 1015.7,164.1 1016.4,165.3 1017,163.9 1017.6,166.1 1018.3,164 1018.9,165 1019.6,164.3 1020.2,164.7 1020.9,165.6 1021.5,164.6 1022.2,165.4 1022.8,164.2 1023.4,166.6 1024.1,164.5 1024.7,166.2 1025.4,167.3 1026,162.7 1026.7,164.2 1027.3,165 1028,166.4 1028.6,164.7 1029.3,165.6 1029.9,164.4 1030.5,165.7 1031.2,163.9 1031.8,166 1032.5,162.1 1033.1,163.3 1033.8,167 1034.4,165.3 1035.1,164.3 1035.7,167.4 1036.3,166.2 1037,166.3 1037.6,164.7 1038.3,165.8 1038.9,165.7 1039.6,163.5 1040.2,165.8 1040.9,165 1041.5,166.5 1042.2,166.5 1042.8,164.5 1043.4,164.6 1044.1,165.4 1044.7,165.8 1045.4,164.8 1046,165.1 1046.7,165.8 1047.3,165.6 1048,166.4 1048.6,165.4 1049.2,164.3 1049.9,163.4 1050.5,166 1051.2,164.8 1051.8,164.8 1052.5,164.9 1053.1,163.6 1053.8,164.8 1054.4,162.5 1055.1,164.8 1055.7,164.3 1056.3,167 1057,165.6 1057.6,164.9 1058.3,165.3 1058.9,165.9 1059.6,164.4 1060.2,164.9 1060.9,164.8 1061.5,167.7 1062.1,165.2 1062.8,163.2 1063.4,166 1064.1,167.8 1064.7,164.2 1065.4,168.7 1066,165.1 1066.7,166.2 1067.3,164.6 1068,164.9 1068.6,163.9 1069.2,164.1 1069.9,163 1070.5,166.3 1071.2,164 1071.8,165.5 1072.5,165.5 1073.1,164.5 1073.8,165.2 1074.4,165.1 1075,164.7 1075.7,165.2 1076.3,165.2 1077,164.1 1077.6,163.8 1078.3,164.3 1078.9,165.3 1079.6,166.6 1080.2,166.7 1080.9,165.5 1081.5,166.1 1082.1,165.3 1082.8,166.3 1083.4,165.3 1084.1,165.6 1084.7,164.9 1085.4,165.2 1086,167.1 1086.7,163.9 1087.3,165.2 1087.9,164.5 1088.6,166.1 1089.2,167 1089.9,164.8 1090.5,162.3 1091.2,165.8 1091.8,165.8 1092.5,163.4 1093.1,164.9 1093.8,165.1 1094.4,162.8 1095,165.9 1095.7,165.6 1096.3,165.4 1097,164.1 1097.6,164.4 1098.3,164.5 1098.9,165.7 1099.6,164.1 1100.2,166.7 1100.8,165.5 1101.5,162.9 1102.1,166.9 1102.8,165.3 1103.4,164.6 1104.1,165.3 1104.7,163.3 1105.4,165.3 1106,162.6 1106.7,164.1 1107.3,166.6 1107.9,166.5 1108.6,164.8 1109.2,164.1 1109.9,166.1 1110.5,165.1 1111.2,165.4 1111.8,165.8 1112.5,164 1113.1,166 1113.7,162.9 1114.4,166.7 1115,163.5 1115.7,164.5 1116.3,164.5 1117,165.9 1117.6,165.9 1118.3,165.5 1118.9,165.7 1119.6,165.6 1120.2,165.1 1120.8,163.2 1121.5,162.7 1122.1,162.7 1122.8,165.1 1123.4,164.9 1124.1,165 1124.7,165.4 1125.4,164.9 1126,164.1 1126.6,163.6 1127.3,163.2 1127.9,166.4 1128.6,166.1 1129.2,163.7 1129.9,164.9 1130.5,165.6 1131.2,166.8 1131.8,164.5 1132.5,165.3 1133.1,166.3 1133.7,163.3 1134.4,164.4 1135,165.1 1135.7,164.4 1136.3,167.3 1137,166 1137.6,165.3 1138.3,164.1 1138.9,166 1139.5,165.8 1140.2,164.6 1140.8,164.7 1141.5,163.6 1142.1,165.1 1142.8,166 1143.4,166.2 1144.1,165.7 1144.7,166 1145.4,164.5 1146,164.6 1146.6,166.4 1147.3,165.6 1147.9,164.3 1148.6,165.7 1149.2,166 1149.9,165.9 1150.5,165.2 1151.2,164.6 1151.8,165.5 1152.4,166.9 1153.1,165.3 1153.7,164.4 1154.4,165.5 1155,163.8 1155.7,165.4 1156.3,164.8 1157,166.1 1157.6,165.2 1158.3,166.2 1158.9,167.5 1159.5,164.9 1160.2,164.3 1160.8,165.6 1161.5,165 1162.1,165.3 1162.8,164.5 1163.4,165.7 1164.1,165.2 1164.7,162.9 1165.3,164.9 1166,165.5 1166.6,166.4 1167.3,164.5 1167.9,164.3 1168.6,166.3 1169.2,164.5 1169.9,165.2 1170.5,165.6 1171.2,165.9 1171.8,165.1 1172.4,164 1173.1,166.2 1173.7,164.7 1174.4,164.6 1175,167.2 1175.7,166 1176.3,164 1177,164.6 1177.6,164.9 1178.2,164.3 1178.9,163.1 1179.5,166 1180.2,165.9 1180.8,165.4 1181.5,164.7 1182.1,165.3 1182.8,165.8 1183.4,164 1184.1,164.8 1184.7,164.5 1185.3,165.8 1186,165.4 1186.6,163.8 1187.3,164.5 1187.9,167 1188.6,164.1 1189.2,165.3 1189.9,164.5 1190.5,166.4 1191.1,165.1 1191.8,164.7 1192.4,163.9 1193.1,164.9 1193.7,166 1194.4,165.8 1195,163.7 1195.7,166.7 1196.3,164.9 1197,164 1197.6,165.2 1198.2,164.5 1198.9,164.5 1199.5,164.5 1200.2,165 1200.8,164.6 1201.5,163.3 1202.1,165.7 1202.8,164.6 1203.4,166.4 1204,165.7 1204.7,165.8 1205.3,165.3 1206,166.5 1206.6,164.8 1207.3,164.1 1207.9,165.5 1208.6,162.3 1209.2,164.7 1209.9,165.3 1210.5,164.7 1211.1,166.4 1211.8,165.8 1212.4,165.2 1213.1,164.7 1213.7,166.2 1214.4,164.4 1215,164.7 1215.7,165.9 1216.3,165.7 1216.9,167.2 1217.6,164.9 1218.2,163.2 1218.9,165.8 1219.5,166.4 1220.2,164.9 1220.8,166.7 1221.5,166.9 1222.1,164.4 1222.8,164.6 1223.4,163.8 1224,165.7 1224.7,165.8 1225.3,165.7 1226,163.8 1226.6,164.3 1227.3,163.6 1227.9,163.4 1228.6,163.7 1229.2,163.5 1229.8,164.9 1230.5,165.5 1231.1,165.7 1231.8,165.1 1232.4,164.4 1233.1,165.1 1233.7,165.7 1234.4,164.8 1235,165.2 1235.7,164.8 1236.3,164.6 1236.9,165.1 1237.6,164 1238.2,166.2 1238.9,163.5 1239.5,165.6 1240.2,163.7 1240.8,166.7 1241.5,166 1242.1,164.3 1242.7,164.6 1243.4,163.9 1244,165 1244.7,165.5 1245.3,167.7 1246,163.7 1246.6,166.4 1247.3,164.5 1247.9,165.4 1248.6,166 1249.2,165.7 1249.8,165.5 1250.5,164.9 1251.1,165.1 1251.8,165.3 1252.4,166.3 1253.1,163.6 1253.7,164.6 1254.4,163.8 1255,164.1 1255.6,164.3 1256.3,166.2 1256.9,167.3 1257.6,166.5 1258.2,163.9 1258.9,165.2 1259.5,163.9 1260.2,165.6 1260.8,166.4 1261.5,165.7 1262.1,166 1262.7,164.9 1263.4,163.1 1264,163.1 1264.7,165 1265.3,165.7 1266,166.4 1266.6,164.7 1267.3,165.2 1267.9,165.4 1268.5,166.2 1269.2,165 1269.8,164 1270.5,166.2 1271.1,165.5 1271.8,165.5 1272.4,163.8 1273.1,165.1 1273.7,163.3 1274.4,163 1275,164.9 1275.6,164.7 1276.3,165.7 1276.9,166.6 1277.6,165.1 1278.2,166.9 1278.9,164.5 1279.5,165.9 1280.2,163.8 1280.8,165.2 1281.4,164.8 1282.1,164.9 1282.7,165.7 1283.4,163.2 1284,165.2 1284.7,164.3 1285.3,165.2 1286,165.5 1286.6,164.7 1287.3,164.7 1287.9,163.9 1288.5,165.7 1289.2,164.4 1289.8,165.6 1290.5,163.6 1291.1,166.5 1291.8,164.1 1292.4,166.3 1293.1,164.6 1293.7,165.7 1294.3,165 1295,165.8 1295.6,165.1 1296.3,166.4 1296.9,165.8 1297.6,165.8 1298.2,166.8 1298.9,164.4 1299.5,166.4 1300.2,165.2 1300.8,163.6 1301.4,165.6 1302.1,164.9 1302.7,166.8 1303.4,164.6 1304,165.2 1304.7,165.3 1305.3,163.1 1306,165.6 1306.6,164.1 1307.2,166.5 1307.9,166.8 1308.5,165.1 1309.2,163.5 1309.8,165.3 1310.5,165.3 1311.1,165.8 1311.8,164.8 1312.4,163.9 1313.1,165 1313.7,164.2 1314.3,166.9 1315,164.4 1315.6,164.4 1316.3,165.1 1316.9,163.8 1317.6,164.6 1318.2,165 1318.9,164.6 1319.5,164.8 1320.1,166.4 1320.8,165.5 1321.4,163.7 1322.1,164.7 1322.7,165.9 1323.4,164.4 1324,165.2 1324.7,165.1 1325.3,165.6 1326,164.9 1326.6,165 1327.2,164.2 1327.9,165.5 1328.5,164.1 1329.2,166.9 1329.8,165.1 1330.5,164.9 1331.1,165.9 1331.8,165 1332.4,165.2 1333,165 1333.7,164.4 1334.3,164.2 1335,164.4 1335.6,166.3 1336.3,164.5 1336.9,164.7 1337.6,164.6 1338.2,165.8 1338.9,167.1 1339.5,164.2 1340.1,165.7 1340.8,165.2 1341.4,164.8 1342.1,165.6 1342.7,163.8 1343.4,166 1344,165.3 1344.7,164.1 1345.3,166.7 1345.9,166 1346.6,166.3 1347.2,163.6 1347.9,164.8 1348.5,164.6 1349.2,165.7 1349.8,166.5 1350.5,163.1 1351.1,165.1 1351.8,165 1352.4,166.1 1353,165.1 1353.7,163.8 1354.3,164.9 1355,164 1355.6,164.3 1356.3,165.1 1356.9,164.6 1357.6,165.4 1358.2,163.5 1358.8,167.5 1359.5,166.4 1360.1,165.8 1360.8,163.8 1361.4,162.9 1362.1,164.2 1362.7,164.9 1363.4,167.4 1364,166.4 1364.7,164.6 1365.3,166.3 1365.9,166.4 1366.6,165.1 1367.2,166.3 1367.9,165.4 1368.5,164.4 1369.2,163.9 1369.8,165 1370.5,166.1 1371.1,163.7 1371.7,163.5 1372.4,165.7 1373,162.3 1373.7,167 1374.3,164.7 1375,165.8 1375.6,167 1376.3,163.6 1376.9,164 1377.6,167.4 1378.2,164.8 1378.8,165 1379.5,165.3 1380.1,166.2 1380.8,166.5 1381.4,165.2 1382.1,164.8 1382.7,165.1 1383.4,165.4 1384,166.4 1384.6,165.2 1385.3,167 1385.9,164.2 1386.6,165.6 1387.2,166.9 1387.9,166.4 1388.5,165.4 1389.2,164.2 1389.8,164.4 1390.5,164.9 1391.1,165.4 1391.7,164.8 1392.4,163.6 1393,164.3 1393.7,165.6 1394.3,166 1395,163.7 1395.6,164.7 1396.3,163.4 1396.9,164.5 1397.5,168.7 1398.2,165.2 1398.8,164.7 1399.5,164.5 1400.1,163.9 1400.8,163.2 1401.4,165.1 1402.1,164.8 1402.7,166.6 1403.4,163.4 1404,165.5 1404.6,166.5 1405.3,163.1 1405.9,165.8 1406.6,163.5 1407.2,165.6 1407.9,166.6 1408.5,165.1 1409.2,165.4 1409.8,164.4 1410.4,165.4 1411.1,166.3 1411.7,164.9 1412.4,165 1413,165.5 1413.7,165.9 1414.3,163.4 1415,165.2 1415.6,164.4 1416.3,165.6 1416.9,166.2 1417.5,165.4 1418.2,166.4 1418.8,164.1 1419.5,164.7 1420.1,164.1 1420.8,165.2 1421.4,165.2 1422.1,164.9 1422.7,163.9 1423.3,165 1424,164.7 1424.6,165.7 1425.3,164.8 1425.9,166.3 1426.6,165.3 1427.2,163.2 1427.9,164.9 1428.5,163.6 1429.2,166.1 1429.8,166.6 1430.4,165.1 1431.1,165.6 1431.7,163.6"/>
<path stroke="#00ffff" stroke-width="1.5" fill="none" d="M813 149V186M933 151V182M967 158V174M1097 140V190M1101 150V185M1144 155V190M1432 140V175M1292 140V166M1372 150V188M1331 145V180"/>
<path fill="none" stroke="#ff00ff" stroke-width="1.5" d="M784.6 470.5H785.9V453.1H787.2V433.4H788.5V410.1H789.8V390.5H791V378.3H792.3V373.1H793.6V378.7H794.9V389.8H796.2V408.5H797.5V430.2H798.8V452.9H800.1V468.6H801.4V474.5H802.7V476H803.9V465.3H805.2V450.3H806.5V428H807.8V406.4H809.1V385.1H810.4V371.7H811.7V368H813V374H814.3V387.8H815.6V407.9H816.8V434.9H818.1V454.7H819.4V469.9H820.7V477.9H822V476H823.3V467.7H824.6V451.5H825.9V425.3H827.2V403.3H828.5V381.8H829.7V372.4H831V368.1H832.3V374.6H833.6V391.1H834.9V412.8H836.2V435.9H837.5V456H838.8V471.6H840.1V479.8H841.4V477.1H842.6V469.7H843.9V448.4H845.2V425.6H846.5V404.5H847.8V389H849.1V375.1H850.4V374.6H851.7V380.1H853V393.9H854.3V411.5H855.5V436.3H856.8V454H858.1V468.7H859.4V476.1H860.7V473.5H862V463.8H863.3V444.2H864.6V423.9H865.9V399.5H867.2V379H868.4V367.5H869.7V364.3H871V374.3H872.3V389.5H873.6V411.9H874.9V438.8H876.2V462.9H877.5V477.2H878.8V484.1H880.1V480.9H881.3V468H882.6V446.7H883.9V422.7H885.2V399.1H886.5V385.6H887.8V374.5H889.1V371.6H890.4V382H891.7V396.5H893V418.2H894.2V437.1H895.5V459.8H896.8V471.7H898.1V474.7H899.4V474.2H900.7V460.8H902V441.4H903.3V420.1H904.6V394.8H905.9V379.1H907.1V367.7H908.4V367H909.7V378.3H911V394.4H912.3V416.6H913.6V440.5H914.9V462.7H916.2V478.6H917.5V482.1H918.8V476.8H920V464.9H921.3V442.9H922.6V419H923.9V399.9H925.2V379.3H926.5V371.8H927.8V369.6H929.1V380.6H930.4V398.5H931.7V420.7H932.9V440.5H934.2V462.3H935.5V475.3H936.8V478.6H938.1V476.4H939.4V459.9H940.7V439.1H942V417.7H943.3V392.9H944.6V379.8H945.8V370.2H947.1V369.4H948.4V380.9H949.7V398.8H951V423.1H952.3V443.5H953.6V462.5H954.9V474.7H956.2V480.5H957.5V473H958.7V460.5H960V440.5H961.3V415.6H962.6V392.2H963.9V376.5H965.2V365.1H966.5V365.6H967.8V376.6H969.1V394.3H970.4V421.9H971.6V455.2H972.9V478.7H974.2V494.9H975.5V500.8H976.8V491.9H978.1V469.8H979.4V439.9H980.7V403.8H982V367.5H983.3V341.3H984.5V326H985.8V329.9H987.1V351.8H988.4V382H989.7V422.3H991V459.8H992.3V489.8H993.6V511.8H994.9V514.1H996.2V503.3H997.4V477.9H998.7V442.9H1000V402.3H1001.3V369.5H1002.6V344.6H1003.9V334.2H1005.2V334.9H1006.5V356.4H1007.8V387.6H1009.1V424.1H1010.3V458.7H1011.6V489.8H1012.9V507.8H1014.2V509.4H1015.5V496.5H1016.8V470.7H1018.1V436.9H1019.4V400.4H1020.7V366.5H1022V339.8H1023.2V329.1H1024.5V335H1025.8V357.6H1027.1V388.8H1028.4V426.7H1029.7V463.8H1031V493.4H1032.3V510H1033.6V510.7H1034.9V497.2H1036.1V470.7H1037.4V435.1H1038.7V397.1H1040V364.8H1041.3V344.3H1042.6V333.5H1043.9V340.7H1045.2V360.3H1046.5V389.9H1047.8V424H1049V458.4H1050.3V483.9H1051.6V499.7H1052.9V497.1H1054.2V483.4H1055.5V458.7H1056.8V424.8H1058.1V391.4H1059.4V362.3H1060.7V339.8H1061.9V334.3H1063.2V340.8H1064.5V363.1H1065.8V390.4H1067.1V424.2H1068.4V457H1069.7V479.1H1071V492.6H1072.3V492.5H1073.6V477.8H1074.8V454.7H1076.1V422.8H1077.4V391.2H1078.7V363H1080V344.6H1081.3V339H1082.6V346.7H1083.9V364.8H1085.2V395.1H1086.5V427.2H1087.7V456H1089V478H1090.3V490.2H1091.6V489H1092.9V475.1H1094.2V452.5H1095.5V419.3H1096.8V390.4H1098.1V365.2H1099.4V348.1H1100.6V343.2H1101.9V350.6H1103.2V370.5H1104.5V399.3H1105.8V430.5H1107.1V456.4H1108.4V478.9H1109.7V345.8H1111V357.9H1112.3V379H1113.5V407.8H1114.8V438.6H1116.1V464.9H1117.4V485.4H1118.7V490.6H1120V484.4H1121.3V467.7H1122.6V439.9H1123.9V411H1125.2V381.6H1126.4V356.6H1127.7V343.9H1129V343.7H1130.3V356.4H1131.6V380.2H1132.9V410.4H1134.2V440.3H1135.5V466.6H1136.8V484.8H1138.1V492.5H1139.3V484.5H1140.6V468.2H1141.9V439.6H1143.2V410.8H1144.5V379H1145.8V357.2H1147.1V346.7H1148.4V347.5H1149.7V360.1H1151V385.9H1152.2V413.3H1153.5V443.6H1154.8V468.3H1156.1V487.7H1157.4V492H1158.7V484.1H1160V463.1H1161.3V438.6H1162.6V407.7H1163.9V380.5H1165.1V359.7H1166.4V347.1H1167.7V349.9H1169V364.4H1170.3V387.2H1171.6V415.8H1172.9V443.3H1174.2V467.4H1175.5V481.9H1176.8V488.5H1178V479.8H1179.3V460.1H1180.6V435.9H1181.9V406.2H1183.2V377.8H1184.5V363.3H1185.8V353.9H1187.1V353.4H1188.4V367.9H1189.7V391.6H1190.9V418.7H1192.2V447.4H1193.5V472.1H1194.8V487.7H1196.1V490.7H1197.4V482.6H1198.7V462.3H1200V434.5H1201.3V405.6H1202.6V376.6H1203.8V360.2H1205.1V347.7H1206.4V352.9H1207.7V368.6H1209V393H1210.3V422.1H1211.6V453.5H1212.9V475.7H1214.2V491.9H1215.5V494.8H1216.7V483.9H1218V462.5H1219.3V435.9H1220.6V402.8H1221.9V375.1H1223.2V355.4H1224.5V347H1225.8V351.8H1227.1V368H1228.4V394.5H1229.6V424.8H1230.9V453.6H1232.2V477.7H1233.5V488.8H1234.8V493.2H1236.1V480.3H1237.4V460.7H1238.7V432.6H1240V402.7H1241.3V374.8H1242.5V360.5H1243.8V350.6H1245.1V355.6H1246.4V374.1H1247.7V398.4H1249V429.3H1250.3V457.4H1251.6V477.7H1252.9V488.5H1254.2V488.6H1255.4V474.8H1256.7V456.1H1258V430.9H1259.3V404.8H1260.6V384.3H1261.9V368.7H1263.2V366H1264.5V371.3H1265.8V382.7H1267.1V405.4H1268.3V431.2H1269.6V452.5H1270.9V468.7H1272.2V478.4H1273.5V480.3H1274.8V471.5H1276.1V450.5H1277.4V428.9H1278.7V404.3H1280V384.3H1281.2V371.2H1282.5V366.3H1283.8V371H1285.1V388.5H1286.4V407H1287.7V430.8H1289V453.5H1290.3V468.9H1291.6V477.3H1292.9V477.8H1294.1V465.5H1295.4V449.9H1296.7V428.2H1298V405.1H1299.3V384.9H1300.6V372.5H1301.9V366.9H1303.2V374.5H1304.5V389.3H1305.8V410.4H1307V432.5H1308.3V453.4H1309.6V469.1H1310.9V478H1312.2V476.8H1313.5V467.2H1314.8V447.8H1316.1V424.9H1317.4V402.6H1318.7V383.2H1319.9V371.3H1321.2V366.1H1322.5V373.3H1323.8V388.8H1325.1V411.4H1326.4V433.9H1327.7V455.6H1329V472.5H1330.3V477.6H1331.6V477.8H1332.8V465.6H1334.1V445.7H1335.4V425.4H1336.7V399.5H1338V381H1339.3V370.4H1340.6V368.7H1341.9V375.3H1343.2V388.8H1344.5V412.1H1345.7V435.5H1347V460.2H1348.3V474.6H1349.6V480.2H1350.9V476H1352.2V465.3H1353.5V444.2H1354.8V422.4H1356.1V399.5H1357.4V379.8H1358.6V369.3H1359.9V366.9H1361.2V374.7H1362.5V393.5H1363.8V414.4H1365.1V437.2H1366.4V458H1367.7V474.1H1369V480.9H1370.3V477.6H1371.5V465.5H1372.8V444.5H1374.1V419.3H1375.4V399.8H1376.7V380.4H1378V369.4H1379.3V368.9H1380.6V374.5H1381.9V392.7H1383.2V414.9H1384.4V440.4H1385.7V461.2H1387V477.6H1388.3V485.7H1389.6V480.2H1390.9V464.8H1392.2V445.6H1393.5V417.1H1394.8V394.8H1396.1V375H1397.3V365.1H1398.6V363.8H1399.9V373.2H1401.2V392.9H1402.5V415.2H1403.8V442.4H1405.1V459.6H1406.4V474.4H1407.7V477.7H1409V472.7H1410.2V460.4H1411.5V441.5H1412.8V415.2H1414.1V395.9H1415.4V379.6H1416.7V368.3H1418V369.2H1419.3V380.5H1420.6V396.2H1421.9V418.2H1423.1V442.6H1424.4V458.3H1425.7V470.8H1427V473.1H1428.3V469.3H1429.6V455.8H1430.9V439.8H1432.2V417.5H1432.3"/>
<path fill="none" stroke="#1c1cc8" stroke-width="1.5" d="M784.6 392.9H785.9V380.4H787.2V373.7H788.5V367.4H789.8V379.5H791V399.9H792.3V424.4H793.6V448.6H794.9V467.8H796.2V482.3H797.5V483.9H798.8V476H800.1V460.9H801.4V436.4H802.7V409.8H803.9V388.4H805.2V369.8H806.5V365.5H807.8V370.8H809.1V382.9H810.4V403.7H811.7V428.2H813V449.4H814.3V467.7H815.6V482.1H816.8V481.3H818.1V474.4H819.4V455.2H820.7V434H822V408.9H823.3V388.9H824.6V372.9H825.9V366.4H827.2V374.9H828.5V386.3H829.7V403.2H831V427.9H832.3V449.3H833.6V466.6H834.9V477.4H836.2V478.2H837.5V470H838.8V452.4H840.1V429.6H841.4V408.1H842.6V389.4H843.9V373.1H845.2V370.1H846.5V372.1H847.8V385H849.1V406.5H850.4V429.2H851.7V452.5H853V469.8H854.3V481.2H855.5V482.3H856.8V470.2H858.1V454.4H859.4V427.9H860.7V405.4H862V384.5H863.3V373.6H864.6V367.4H865.9V374.1H867.2V385.2H868.4V408.2H869.7V432.2H871V453.8H872.3V468H873.6V480.2H874.9V480.3H876.2V470.6H877.5V451.6H878.8V426.6H880.1V404.9H881.3V386.1H882.6V371.1H883.9V371.5H885.2V376H886.5V390.6H887.8V411.2H889.1V432H890.4V456.8H891.7V469.7H893V477.9H894.2V475.4H895.5V466H896.8V448.1H898.1V425.1H899.4V402.9H900.7V386.3H902V374H903.3V370.6H904.6V377H905.9V392.9H907.1V412.4H908.4V434.6H909.7V452.3H911V468.9H912.3V475H913.6V472.9H914.9V462.9H916.2V447H917.5V425.7H918.8V405.1H920V386H921.3V375.6H922.6V370.2H923.9V377.7H925.2V392.8H926.5V413H927.8V436.6H929.1V456.6H930.4V471.7H931.7V477.7H932.9V476.2H934.2V463.7H935.5V446.5H936.8V424.1H938.1V402.7H939.4V384.1H940.7V372.1H942V367.9H943.3V379.4H944.6V393.6H945.8V415.2H947.1V437.7H948.4V458.2H949.7V476.7H951V478.7H952.3V476.5H953.6V464H954.9V443.5H956.2V420.5H957.5V398.7H958.7V380.5H960V368.6H961.3V368.6H962.6V374.3H963.9V393.3H965.2V418.3H966.5V444.1H967.8V466.8H969.1V483.9H970.4V497.2H971.6V493.7H972.9V476.8H974.2V451.8H975.5V417H976.8V384.5H978.1V355.7H979.4V340.9H980.7V340.7H982V353.9H983.3V380.7H984.5V412H985.8V444.2H987.1V476.3H988.4V496.8H989.7V502.3H991V495.9H992.3V476.4H993.6V446.5H994.9V413H996.2V381.1H997.4V354.6H998.7V343.7H1000V334.6H1001.3V350.1H1002.6V380.6H1003.9V416.2H1005.2V450.2H1006.5V481.5H1007.8V501.6H1009.1V510.9H1010.3V501.3H1011.6V477.8H1012.9V446.8H1014.2V411.1H1015.5V375.7H1016.8V350.8H1018.1V335.9H1019.4V343.9H1020.7V358.3H1022V384.8H1023.2V418H1024.5V450.9H1025.8V479.4H1027.1V496.9H1028.4V502.8H1029.7V494.5H1031V471.8H1032.3V440.5H1033.6V410.2H1034.9V377.6H1036.1V353H1037.4V342H1038.7V336.7H1040V352.3H1041.3V382.7H1042.6V416.3H1043.9V453.2H1045.2V481.9H1046.5V501.1H1047.8V503.4H1049V492.9H1050.3V468.3H1051.6V435.8H1052.9V399.4H1054.2V369.9H1055.5V345.5H1056.8V333.8H1058.1V342.4H1059.4V357.4H1060.7V382.6H1061.9V414.7H1063.2V446.7H1064.5V470.6H1065.8V485H1067.1V488.9H1068.4V481.6H1069.7V457.5H1071V431H1072.3V398.2H1073.6V371.1H1074.8V349.8H1076.1V339.3H1077.4V342.8H1078.7V362.3H1080V386.1H1081.3V418.2H1082.6V448H1083.9V473.3H1085.2V488.6H1086.5V491H1087.7V482H1089V457.6H1090.3V428.2H1091.6V396.4H1092.9V367.8H1094.2V347.8H1095.5V342.3H1096.8V348.3H1098.1V368H1099.4V392.2H1100.6V420H1101.9V447.4H1103.2V471.2H1104.5V484.2H1105.8V486.7H1107.1V473.8H1108.4V453.3H1109.7V426.3H1111V397.1H1112.3V371.1H1113.5V352.1H1114.8V345.5H1116.1V348.6H1117.4V366.6H1118.7V394.2H1120V426.1H1121.3V454.7H1122.6V476.4H1123.9V490.8H1125.2V489H1126.4V476.5H1127.7V457.1H1129V424.4H1130.3V394.8H1131.6V368.5H1132.9V352.5H1134.2V346.6H1135.5V354.4H1136.8V370.6H1138.1V395.4H1139.3V426.4H1140.6V454.3H1141.9V474.5H1143.2V486.4H1144.5V486H1145.8V475.4H1147.1V452.6H1148.4V424.3H1149.7V395.5H1151V369.5H1152.2V354H1153.5V350.8H1154.8V356.8H1156.1V374.9H1157.4V400.8H1158.7V428.7H1160V456.1H1161.3V473.1H1162.6V484.9H1163.9V484.3H1165.1V470.3H1166.4V449.9H1167.7V422.2H1169V393.8H1170.3V373H1171.6V355.2H1172.9V348.2H1174.2V354.9H1175.5V373.7H1176.8V401H1178V431.4H1179.3V459.4H1180.6V481.6H1181.9V489.5H1183.2V490.6H1184.5V475.8H1185.8V452.4H1187.1V420.4H1188.4V389.3H1189.7V366.4H1190.9V351.4H1192.2V348.5H1193.5V356.6H1194.8V377.1H1196.1V404.9H1197.4V433.2H1198.7V464.6H1200V481.6H1201.3V492.5H1202.6V490.3H1203.8V473.1H1205.1V449.5H1206.4V421.8H1207.7V390.4H1209V367.7H1210.3V352.2H1211.6V346.7H1212.9V357.4H1214.2V377.8H1215.5V406.7H1216.7V439.3H1218V466.9H1219.3V487.5H1220.6V494.4H1221.9V491.6H1223.2V476.4H1224.5V450.2H1225.8V418.9H1227.1V387.7H1228.4V363.1H1229.6V349.8H1230.9V350.8H1232.2V360.1H1233.5V383H1234.8V409.8H1236.1V441.9H1237.4V466.7H1238.7V487.1H1240V493.5H1241.3V490.4H1242.5V473.5H1243.8V446.2H1245.1V416.3H1246.4V387.3H1247.7V363.5H1249V352.3H1250.3V356.7H1251.6V370.1H1252.9V391H1254.2V414.3H1255.4V440.1H1256.7V462.3H1258V475.6H1259.3V480.3H1260.6V476H1261.9V461.1H1263.2V440.9H1264.5V417.6H1265.8V398H1267.1V378.5H1268.3V369.9H1269.6V367.6H1270.9V377.6H1272.2V395.8H1273.5V417.5H1274.8V441.8H1276.1V461.4H1277.4V473.4H1278.7V476.9H1280V475.4H1281.2V459.6H1282.5V441.4H1283.8V416.5H1285.1V393.6H1286.4V378.1H1287.7V368.2H1289V373.8H1290.3V382H1291.6V400.1H1292.9V421.1H1294.1V440.5H1295.4V461.2H1296.7V470.5H1298V474.9H1299.3V467.5H1300.6V453.9H1301.9V439.3H1303.2V417.2H1304.5V396.9H1305.8V378.7H1307V373.2H1308.3V371.3H1309.6V381.4H1310.9V399.5H1312.2V420.3H1313.5V443.6H1314.8V461.5H1316.1V474.5H1317.4V478.4H1318.7V470.8H1319.9V456.6H1321.2V435.8H1322.5V413.5H1323.8V393.4H1325.1V377H1326.4V369.7H1327.7V363.8H1329V377.3H1330.3V398.9H1331.6V421.9H1332.8V447.3H1334.1V467.3H1335.4V482.7H1336.7V483.5H1338V475.4H1339.3V459.9H1340.6V437.2H1341.9V411.2H1343.2V388.5H1344.5V370.8H1345.7V362.8H1347V364.9H1348.3V377.9H1349.6V398.8H1350.9V425H1352.2V449.5H1353.5V470.1H1354.8V483H1356.1V484.3H1357.4V474.3H1358.6V457.2H1359.9V433.1H1361.2V406.6H1362.5V385.8H1363.8V367.9H1365.1V360.8H1366.4V366.6H1367.7V382H1369V401.5H1370.3V427.4H1371.5V450.2H1372.8V469.2H1374.1V481.6H1375.4V482.9H1376.7V473.4H1378V454.4H1379.3V431.8H1380.6V406.2H1381.9V385.2H1383.2V370.2H1384.4V365.7H1385.7V371H1387V383.9H1388.3V404.9H1389.6V428.2H1390.9V454.4H1392.2V471.5H1393.5V483.1H1394.8V481.2H1396.1V471.7H1397.3V454.6H1398.6V430.6H1399.9V406.5H1401.2V383.9H1402.5V371.5H1403.8V365.4H1405.1V370.4H1406.4V383.7H1407.7V403.3H1409V430.3H1410.2V454.5H1411.5V470H1412.8V480.2H1414.1V480.8H1415.4V470.6H1416.7V450.5H1418V430.7H1419.3V405.4H1420.6V382.5H1421.9V367.1H1423.1V365.2H1424.4V372.6H1425.7V386.3H1427V408.2H1428.3V430.4H1429.6V454.8H1430.9V470.6H1432.2V483.6H1432.3"/>
</g>
<path fill="#333" d="M848.3 47.8h1.6v1.6h-1.6zM848.3 60.7h1.6v1.6h-1.6zM848.3 73.7h1.6v1.6h-1.6zM848.3 86.7h1.6v1.6h-1.6zM848.3 99.7h1.6v1.6h-1.6zM848.3 112.6h1.6v1.6h-1.6zM848.3 125.6h1.6v1.6h-1.6zM848.3 138.6h1.6v1.6h-1.6zM848.3 151.5h1.6v1.6h-1.6zM848.3 164.5h1.6v1.6h-1.6zM848.3 177.5h1.6v1.6h-1.6zM848.3 190.5h1.6v1.6h-1.6zM848.3 203.4h1.6v1.6h-1.6zM848.3 216.4h1.6v1.6h-1.6zM848.3 229.4h1.6v1.6h-1.6zM848.3 242.4h1.6v1.6h-1.6zM848.3 255.3h1.6v1.6h-1.6zM848.3 268.3h1.6v1.6h-1.6zM848.3 281.3h1.6v1.6h-1.6zM848.3 294.2h1.6v1.6h-1.6zM848.3 307.2h1.6v1.6h-1.6zM848.3 320.2h1.6v1.6h-1.6zM848.3 333.2h1.6v1.6h-1.6zM848.3 346.1h1.6v1.6h-1.6zM848.3 359.1h1.6v1.6h-1.6zM848.3 372.1h1.6v1.6h-1.6zM848.3 385h1.6v1.6h-1.6zM848.3 398h1.6v1.6h-1.6zM848.3 411h1.6v1.6h-1.6zM848.3 424h1.6v1.6h-1.6zM848.3 436.9h1.6v1.6h-1.6zM848.3 449.9h1.6v1.6h-1.6zM848.3 462.9h1.6v1.6h-1.6zM848.3 475.8h1.6v1.6h-1.6zM848.3 488.8h1.6v1.6h-1.6zM848.3 501.8h1.6v1.6h-1.6zM848.3 514.8h1.6v1.6h-1.6zM848.3 527.7h1.6v1.6h-1.6zM848.3 540.7h1.6v1.6h-1.6zM913.2 47.8h1.6v1.6h-1.6zM913.2 60.7h1.6v1.6h-1.6zM913.2 73.7h1.6v1.6h-1.6zM913.2 86.7h1.6v1.6h-1.6zM913.2 99.7h1.6v1.6h-1.6zM913.2 112.6h1.6v1.6h-1.6zM913.2 125.6h1.6v1.6h-1.6zM913.2 138.6h1.6v1.6h-1.6zM913.2 151.5h1.6v1.6h-1.6zM913.2 164.5h1.6v1.6h-1.6zM913.2 177.5h1.6v1.6h-1.6zM913.2 190.5h1.6v1.6h-1.6zM913.2 203.4h1.6v1.6h-1.6zM913.2 216.4h1.6v1.6h-1.6zM913.2 229.4h1.6v1.6h-1.6zM913.2 242.4h1.6v1.6h-1.6zM913.2 255.3h1.6v1.6h-1.6zM913.2 268.3h1.6v1.6h-1.6zM913.2 281.3h1.6v1.6h-1.6zM913.2 294.2h1.6v1.6h-1.6zM913.2 307.2h1.6v1.6h-1.6zM913.2 320.2h1.6v1.6h-1.6zM913.2 333.2h1.6v1.6h-1.6zM913.2 346.1h1.6v1.6h-1.6zM913.2 359.1h1.6v1.6h-1.6zM913.2 372.1h1.6v1.6h-1.6zM913.2 385h1.6v1.6h-1.6zM913.2 398h1.6v1.6h-1.6zM913.2 411h1.6v1.6h-1.6zM913.2 424h1.6v1.6h-1.6zM913.2 436.9h1.6v1.6h-1.6zM913.2 449.9h1.6v1.6h-1.6zM913.2 462.9h1.6v1.6h-1.6zM913.2 475.8h1.6v1.6h-1.6zM913.2 488.8h1.6v1.6h-1.6zM913.2 501.8h1.6v1.6h-1.6zM913.2 514.8h1.6v1.6h-1.6zM913.2 527.7h1.6v1.6h-1.6zM913.2 540.7h1.6v1.6h-1.6zM978 47.8h1.6v1.6h-1.6zM978 60.7h1.6v1.6h-1.6zM978 73.7h1.6v1.6h-1.6zM978 86.7h1.6v1.6h-1.6zM978 99.7h1.6v1.6h-1.6zM978 112.6h1.6v1.6h-1.6zM978 125.6h1.6v1.6h-1.6zM978 138.6h1.6v1.6h-1.6zM978 151.5h1.6v1.6h-1.6zM978 164.5h1.6v1.6h-1.6zM978 177.5h1.6v1.6h-1.6zM978 190.5h1.6v1.6h-1.6zM978 203.4h1.6v1.6h-1.6zM978 216.4h1.6v1.6h-1.6zM978 229.4h1.6v1.6h-1.6zM978 242.4h1.6v1.6h-1.6zM978 255.3h1.6v1.6h-1.6zM978 268.3h1.6v1.6h-1.6zM978 281.3h1.6v1.6h-1.6zM978 294.2h1.6v1.6h-1.6zM978 307.2h1.6v1.6h-1.6zM978 320.2h1.6v1.6h-1.6zM978 333.2h1.6v1.6h-1.6zM978 346.1h1.6v1.6h-1.6zM978 359.1h1.6v1.6h-1.6zM978 372.1h1.6v1.6h-1.6zM978 385h1.6v1.6h-1.6zM978 398h1.6v1.6h-1.6zM978 411h1.6v1.6h-1.6zM978 424h1.6v1.6h-1.6zM978 436.9h1.6v1.6h-1.6zM978 449.9h1.6v1.6h-1.6zM978 462.9h1.6v1.6h-1.6zM978 475.8h1.6v1.6h-1.6zM978 488.8h1.6v1.6h-1.6zM978 501.8h1.6v1.6h-1.6zM978 514.8h1.6v1.6h-1.6zM978 527.7h1.6v1.6h-1.6zM978 540.7h1.6v1.6h-1.6zM1042.8 47.8h1.6v1.6h-1.6zM1042.8 60.7h1.6v1.6h-1.6zM1042.8 73.7h1.6v1.6h-1.6zM1042.8 86.7h1.6v1.6h-1.6zM1042.8 99.7h1.6v1.6h-1.6zM1042.8 112.6h1.6v1.6h-1.6zM1042.8 125.6h1.6v1.6h-1.6zM1042.8 138.6h1.6v1.6h-1.6zM1042.8 151.5h1.6v1.6h-1.6zM1042.8 164.5h1.6v1.6h-1.6zM1042.8 177.5h1.6v1.6h-1.6zM1042.8 190.5h1.6v1.6h-1.6zM1042.8 203.4h1.6v1.6h-1.6zM1042.8 216.4h1.6v1.6h-1.6zM1042.8 229.4h1.6v1.6h-1.6zM1042.8 242.4h1.6v1.6h-1.6zM1042.8 255.3h1.6v1.6h-1.6zM1042.8 268.3h1.6v1.6h-1.6zM1042.8 281.3h1.6v1.6h-1.6zM1042.8 294.2h1.6v1.6h-1.6zM1042.8 307.2h1.6v1.6h-1.6zM1042.8 320.2h1.6v1.6h-1.6zM1042.8 333.2h1.6v1.6h-1.6zM1042.8 346.1h1.6v1.6h-1.6zM1042.8 359.1h1.6v1.6h-1.6zM1042.8 372.1h1.6v1.6h-1.6zM1042.8 385h1.6v1.6h-1.6zM1042.8 398h1.6v1.6h-1.6zM1042.8 411h1.6v1.6h-1.6zM1042.8 424h1.6v1.6h-1.6zM1042.8 436.9h1.6v1.6h-1.6zM1042.8 449.9h1.6v1.6h-1.6zM1042.8 462.9h1.6v1.6h-1.6zM1042.8 475.8h1.6v1.6h-1.6zM1042.8 488.8h1.6v1.6h-1.6zM1042.8 501.8h1.6v1.6h-1.6zM1042.8 514.8h1.6v1.6h-1.6zM1042.8 527.7h1.6v1.6h-1.6zM1042.8 540.7h1.6v1.6h-1.6zM1172.5 47.8h1.6v1.6h-1.6zM1172.5 60.7h1.6v1.6h-1.6zM1172.5 73.7h1.6v1.6h-1.6zM1172.5 86.7h1.6v1.6h-1.6zM1172.5 99.7h1.6v1.6h-1.6zM1172.5 112.6h1.6v1.6h-1.6zM1172.5 125.6h1.6v1.6h-1.6zM1172.5 138.6h1.6v1.6h-1.6zM1172.5 151.5h1.6v1.6h-1.6zM1172.5 164.5h1.6v1.6h-1.6zM1172.5 177.5h1.6v1.6h-1.6zM1172.5 190.5h1.6v1.6h-1.6zM1172.5 203.4h1.6v1.6h-1.6zM1172.5 216.4h1.6v1.6h-1.6zM1172.5 229.4h1.6v1.6h-1.6zM1172.5 242.4h1.6v1.6h-1.6zM1172.5 255.3h1.6v1.6h-1.6zM1172.5 268.3h1.6v1.6h-1.6zM1172.5 281.3h1.6v1.6h-1.6zM1172.5 294.2h1.6v1.6h-1.6zM1172.5 307.2h1.6v1.6h-1.6zM1172.5 320.2h1.6v1.6h-1.6zM1172.5 333.2h1.6v1.6h-1.6zM1172.5 346.1h1.6v1.6h-1.6zM1172.5 359.1h1.6v1.6h-1.6zM1172.5 372.1h1.6v1.6h-1.6zM1172.5 385h1.6v1.6h-1.6zM1172.5 398h1.6v1.6h-1.6zM1172.5 411h1.6v1.6h-1.6zM1172.5 424h1.6v1.6h-1.6zM1172.5 436.9h1.6v1.6h-1.6zM1172.5 449.9h1.6v1.6h-1.6zM1172.5 462.9h1.6v1.6h-1.6zM1172.5 475.8h1.6v1.6h-1.6zM1172.5 488.8h1.6v1.6h-1.6zM1172.5 501.8h1.6v1.6h-1.6zM1172.5 514.8h1.6v1.6h-1.6zM1172.5 527.7h1.6v1.6h-1.6zM1172.5 540.7h1.6v1.6h-1.6zM1237.3 47.8h1.6v1.6h-1.6zM1237.3 60.7h1.6v1.6h-1.6zM1237.3 73.7h1.6v1.6h-1.6zM1237.3 86.7h1.6v1.6h-1.6zM1237.3 99.7h1.6v1.6h-1.6zM1237.3 112.6h1.6v1.6h-1.6zM1237.3 125.6h1.6v1.6h-1.6zM1237.3 138.6h1.6v1.6h-1.6zM1237.3 151.5h1.6v1.6h-1.6zM1237.3 164.5h1.6v1.6h-1.6zM1237.3 177.5h1.6v1.6h-1.6zM1237.3 190.5h1.6v1.6h-1.6zM1237.3 203.4h1.6v1.6h-1.6zM1237.3 216.4h1.6v1.6h-1.6zM1237.3 229.4h1.6v1.6h-1.6zM1237.3 242.4h1.6v1.6h-1.6zM1237.3 255.3h1.6v1.6h-1.6zM1237.3 268.3h1.6v1.6h-1.6zM1237.3 281.3h1.6v1.6h-1.6zM1237.3 294.2h1.6v1.6h-1.6zM1237.3 307.2h1.6v1.6h-1.6zM1237.3 320.2h1.6v1.6h-1.6zM1237.3 333.2h1.6v1.6h-1.6zM1237.3 346.1h1.6v1.6h-1.6zM1237.3 359.1h1.6v1.6h-1.6zM1237.3 372.1h1.6v1.6h-1.6zM1237.3 385h1.6v1.6h-1.6zM1237.3 398h1.6v1.6h-1.6zM1237.3 411h1.6v1.6h-1.6zM1237.3 424h1.6v1.6h-1.6zM1237.3 436.9h1.6v1.6h-1.6zM1237.3 449.9h1.6v1.6h-1.6zM1237.3 462.9h1.6v1.6h-1.6zM1237.3 475.8h1.6v1.6h-1.6zM1237.3 488.8h1.6v1.6h-1.6zM1237.3 501.8h1.6v1.6h-1.6zM1237.3 514.8h1.6v1.6h-1.6zM1237.3 527.7h1.6v1.6h-1.6zM1237.3 540.7h1.6v1.6h-1.6zM1302.1 47.8h1.6v1.6h-1.6zM1302.1 60.7h1.6v1.6h-1.6zM1302.1 73.7h1.6v1.6h-1.6zM1302.1 86.7h1.6v1.6h-1.6zM1302.1 99.7h1.6v1.6h-1.6zM1302.1 112.6h1.6v1.6h-1.6zM1302.1 125.6h1.6v1.6h-1.6zM1302.1 138.6h1.6v1.6h-1.6zM1302.1 151.5h1.6v1.6h-1.6zM1302.1 164.5h1.6v1.6h-1.6zM1302.1 177.5h1.6v1.6h-1.6zM1302.1 190.5h1.6v1.6h-1.6zM1302.1 203.4h1.6v1.6h-1.6zM1302.1 216.4h1.6v1.6h-1.6zM1302.1 229.4h1.6v1.6h-1.6zM1302.1 242.4h1.6v1.6h-1.6zM1302.1 255.3h1.6v1.6h-1.6zM1302.1 268.3h1.6v1.6h-1.6zM1302.1 281.3h1.6v1.6h-1.6zM1302.1 294.2h1.6v1.6h-1.6zM1302.1 307.2h1.6v1.6h-1.6zM1302.1 320.2h1.6v1.6h-1.6zM1302.1 333.2h1.6v1.6h-1.6zM1302.1 346.1h1.6v1.6h-1.6zM1302.1 359.1h1.6v1.6h-1.6zM1302.1 372.1h1.6v1.6h-1.6zM1302.1 385h1.6v1.6h-1.6zM1302.1 398h1.6v1.6h-1.6zM1302.1 411h1.6v1.6h-1.6zM1302.1 424h1.6v1.6h-1.6zM1302.1 436.9h1.6v1.6h-1.6zM1302.1 449.9h1.6v1.6h-1.6zM1302.1 462.9h1.6v1.6h-1.6zM1302.1 475.8h1.6v1.6h-1.6zM1302.1 488.8h1.6v1.6h-1.6zM1302.1 501.8h1.6v1.6h-1.6zM1302.1 514.8h1.6v1.6h-1.6zM1302.1 527.7h1.6v1.6h-1.6zM1302.1 540.7h1.6v1.6h-1.6zM1367 47.8h1.6v1.6h-1.6zM1367 60.7h1.6v1.6h-1.6zM1367 73.7h1.6v1.6h-1.6zM1367 86.7h1.6v1.6h-1.6zM1367 99.7h1.6v1.6h-1.6zM1367 112.6h1.6v1.6h-1.6zM1367 125.6h1.6v1.6h-1.6zM1367 138.6h1.6v1.6h-1.6zM1367 151.5h1.6v1.6h-1.6zM1367 164.5h1.6v1.6h-1.6zM1367 177.5h1.6v1.6h-1.6zM1367 190.5h1.6v1.6h-1.6zM1367 203.4h1.6v1.6h-1.6zM1367 216.4h1.6v1.6h-1.6zM1367 229.4h1.6v1.6h-1.6zM1367 242.4h1.6v1.6h-1.6zM1367 255.3h1.6v1.6h-1.6zM1367 268.3h1.6v1.6h-1.6zM1367 281.3h1.6v1.6h-1.6zM1367 294.2h1.6v1.6h-1.6zM1367 307.2h1.6v1.6h-1.6zM1367 320.2h1.6v1.6h-1.6zM1367 333.2h1.6v1.6h-1.6zM1367 346.1h1.6v1.6h-1.6zM1367 359.1h1.6v1.6h-1.6zM1367 372.1h1.6v1.6h-1.6zM1367 385h1.6v1.6h-1.6zM1367 398h1.6v1.6h-1.6zM1367 411h1.6v1.6h-1.6zM1367 424h1.6v1.6h-1.6zM1367 436.9h1.6v1.6h-1.6zM1367 449.9h1.6v1.6h-1.6zM1367 462.9h1.6v1.6h-1.6zM1367 475.8h1.6v1.6h-1.6zM1367 488.8h1.6v1.6h-1.6zM1367 501.8h1.6v1.6h-1.6zM1367 514.8h1.6v1.6h-1.6zM1367 527.7h1.6v1.6h-1.6zM1367 540.7h1.6v1.6h-1.6zM796.5 99.7h1.6v1.6h-1.6zM809.4 99.7h1.6v1.6h-1.6zM822.4 99.7h1.6v1.6h-1.6zM835.4 99.7h1.6v1.6h-1.6zM861.3 99.7h1.6v1.6h-1.6zM874.3 99.7h1.6v1.6h-1.6zM887.2 99.7h1.6v1.6h-1.6zM900.2 99.7h1.6v1.6h-1.6zM926.1 99.7h1.6v1.6h-1.6zM939.1 99.7h1.6v1.6h-1.6zM952.1 99.7h1.6v1.6h-1.6zM965 99.7h1.6v1.6h-1.6zM991 99.7h1.6v1.6h-1.6zM1003.9 99.7h1.6v1.6h-1.6zM1016.9 99.7h1.6v1.6h-1.6zM1029.9 99.7h1.6v1.6h-1.6zM1055.8 99.7h1.6v1.6h-1.6zM1068.8 99.7h1.6v1.6h-1.6zM1081.7 99.7h1.6v1.6h-1.6zM1094.7 99.7h1.6v1.6h-1.6zM1120.6 99.7h1.6v1.6h-1.6zM1133.6 99.7h1.6v1.6h-1.6zM1146.5 99.7h1.6v1.6h-1.6zM1159.5 99.7h1.6v1.6h-1.6zM1185.4 99.7h1.6v1.6h-1.6zM1198.4 99.7h1.6v1.6h-1.6zM1211.4 99.7h1.6v1.6h-1.6zM1224.3 99.7h1.6v1.6h-1.6zM1250.3 99.7h1.6v1.6h-1.6zM1263.2 99.7h1.6v1.6h-1.6zM1276.2 99.7h1.6v1.6h-1.6zM1289.2 99.7h1.6v1.6h-1.6zM1315.1 99.7h1.6v1.6h-1.6zM1328.1 99.7h1.6v1.6h-1.6zM1341 99.7h1.6v1.6h-1.6zM1354 99.7h1.6v1.6h-1.6zM1379.9 99.7h1.6v1.6h-1.6zM1392.9 99.7h1.6v1.6h-1.6zM1405.9 99.7h1.6v1.6h-1.6zM1418.8 99.7h1.6v1.6h-1.6zM796.5 164.5h1.6v1.6h-1.6zM809.4 164.5h1.6v1.6h-1.6zM822.4 164.5h1.6v1.6h-1.6zM835.4 164.5h1.6v1.6h-1.6zM861.3 164.5h1.6v1.6h-1.6zM874.3 164.5h1.6v1.6h-1.6zM887.2 164.5h1.6v1.6h-1.6zM900.2 164.5h1.6v1.6h-1.6zM926.1 164.5h1.6v1.6h-1.6zM939.1 164.5h1.6v1.6h-1.6zM952.1 164.5h1.6v1.6h-1.6zM965 164.5h1.6v1.6h-1.6zM991 164.5h1.6v1.6h-1.6zM1003.9 164.5h1.6v1.6h-1.6zM1016.9 164.5h1.6v1.6h-1.6zM1029.9 164.5h1.6v1.6h-1.6zM1055.8 164.5h1.6v1.6h-1.6zM1068.8 164.5h1.6v1.6h-1.6zM1081.7 164.5h1.6v1.6h-1.6zM1094.7 164.5h1.6v1.6h-1.6zM1120.6 164.5h1.6v1.6h-1.6zM1133.6 164.5h1.6v1.6h-1.6zM1146.5 164.5h1.6v1.6h-1.6zM1159.5 164.5h1.6v1.6h-1.6zM1185.4 164.5h1.6v1.6h-1.6zM1198.4 164.5h1.6v1.6h-1.6zM1211.4 164.5h1.6v1.6h-1.6zM1224.3 164.5h1.6v1.6h-1.6zM1250.3 164.5h1.6v1.6h-1.6zM1263.2 164.5h1.6v1.6h-1.6zM1276.2 164.5h1.6v1.6h-1.6zM1289.2 164.5h1.6v1.6h-1.6zM1315.1 164.5h1.6v1.6h-1.6zM1328.1 164.5h1.6v1.6h-1.6zM1341 164.5h1.6v1.6h-1.6zM1354 164.5h1.6v1.6h-1.6zM1379.9 164.5h1.6v1.6h-1.6zM1392.9 164.5h1.6v1.6h-1.6zM1405.9 164.5h1.6v1.6h-1.6zM1418.8 164.5h1.6v1.6h-1.6zM796.5 229.4h1.6v1.6h-1.6zM809.4 229.4h1.6v1.6h-1.6zM822.4 229.4h1.6v1.6h-1.6zM835.4 229.4h1.6v1.6h-1.6zM861.3 229.4h1.6v1.6h-1.6zM874.3 229.4h1.6v1.6h-1.6zM887.2 229.4h1.6v1.6h-1.6zM900.2 229.4h1.6v1.6h-1.6zM926.1 229.4h1.6v1.6h-1.6zM939.1 229.4h1.6v1.6h-1.6zM952.1 229.4h1.6v1.6h-1.6zM965 229.4h1.6v1.6h-1.6zM991 229.4h1.6v1.6h-1.6zM1003.9 229.4h1.6v1.6h-1.6zM1016.9 229.4h1.6v1.6h-1.6zM1029.9 229.4h1.6v1.6h-1.6zM1055.8 229.4h1.6v1.6h-1.6zM1068.8 229.4h1.6v1.6h-1.6zM1081.7 229.4h1.6v1.6h-1.6zM1094.7 229.4h1.6v1.6h-1.6zM1120.6 229.4h1.6v1.6h-1.6zM1133.6 229.4h1.6v1.6h-1.6zM1146.5 229.4h1.6v1.6h-1.6zM1159.5 229.4h1.6v1.6h-1.6zM1185.4 229.4h1.6v1.6h-1.6zM1198.4 229.4h1.6v1.6h-1.6zM1211.4 229.4h1.6v1.6h-1.6zM1224.3 229.4h1.6v1.6h-1.6zM1250.3 229.4h1.6v1.6h-1.6zM1263.2 229.4h1.6v1.6h-1.6zM1276.2 229.4h1.6v1.6h-1.6zM1289.2 229.4h1.6v1.6h-1.6zM1315.1 229.4h1.6v1.6h-1.6zM1328.1 229.4h1.6v1.6h-1.6zM1341 229.4h1.6v1.6h-1.6zM1354 229.4h1.6v1.6h-1.6zM1379.9 229.4h1.6v1.6h-1.6zM1392.9 229.4h1.6v1.6h-1.6zM1405.9 229.4h1.6v1.6h-1.6zM1418.8 229.4h1.6v1.6h-1.6zM796.5 359.1h1.6v1.6h-1.6zM809.4 359.1h1.6v1.6h-1.6zM822.4 359.1h1.6v1.6h-1.6zM835.4 359.1h1.6v1.6h-1.6zM861.3 359.1h1.6v1.6h-1.6zM874.3 359.1h1.6v1.6h-1.6zM887.2 359.1h1.6v1.6h-1.6zM900.2 359.1h1.6v1.6h-1.6zM926.1 359.1h1.6v1.6h-1.6zM939.1 359.1h1.6v1.6h-1.6zM952.1 359.1h1.6v1.6h-1.6zM965 359.1h1.6v1.6h-1.6zM991 359.1h1.6v1.6h-1.6zM1003.9 359.1h1.6v1.6h-1.6zM1016.9 359.1h1.6v1.6h-1.6zM1029.9 359.1h1.6v1.6h-1.6zM1055.8 359.1h1.6v1.6h-1.6zM1068.8 359.1h1.6v1.6h-1.6zM1081.7 359.1h1.6v1.6h-1.6zM1094.7 359.1h1.6v1.6h-1.6zM1120.6 359.1h1.6v1.6h-1.6zM1133.6 359.1h1.6v1.6h-1.6zM1146.5 359.1h1.6v1.6h-1.6zM1159.5 359.1h1.6v1.6h-1.6zM1185.4 359.1h1.6v1.6h-1.6zM1198.4 359.1h1.6v1.6h-1.6zM1211.4 359.1h1.6v1.6h-1.6zM1224.3 359.1h1.6v1.6h-1.6zM1250.3 359.1h1.6v1.6h-1.6zM1263.2 359.1h1.6v1.6h-1.6zM1276.2 359.1h1.6v1.6h-1.6zM1289.2 359.1h1.6v1.6h-1.6zM1315.1 359.1h1.6v1.6h-1.6zM1328.1 359.1h1.6v1.6h-1.6zM1341 359.1h1.6v1.6h-1.6zM1354 359.1h1.6v1.6h-1.6zM1379.9 359.1h1.6v1.6h-1.6zM1392.9 359.1h1.6v1.6h-1.6zM1405.9 359.1h1.6v1.6h-1.6zM1418.8 359.1h1.6v1.6h-1.6zM796.5 424h1.6v1.6h-1.6zM809.4 424h1.6v1.6h-1.6zM822.4 424h1.6v1.6h-1.6zM835.4 424h1.6v1.6h-1.6zM861.3 424h1.6v1.6h-1.6zM874.3 424h1.6v1.6h-1.6zM887.2 424h1.6v1.6h-1.6zM900.2 424h1.6v1.6h-1.6zM926.1 424h1.6v1.6h-1.6zM939.1 424h1.6v1.6h-1.6zM952.1 424h1.6v1.6h-1.6zM965 424h1.6v1.6h-1.6zM991 424h1.6v1.6h-1.6zM1003.9 424h1.6v1.6h-1.6zM1016.9 424h1.6v1.6h-1.6zM1029.9 424h1.6v1.6h-1.6zM1055.8 424h1.6v1.6h-1.6zM1068.8 424h1.6v1.6h-1.6zM1081.7 424h1.6v1.6h-1.6zM1094.7 424h1.6v1.6h-1.6zM1120.6 424h1.6v1.6h-1.6zM1133.6 424h1.6v1.6h-1.6zM1146.5 424h1.6v1.6h-1.6zM1159.5 424h1.6v1.6h-1.6zM1185.4 424h1.6v1.6h-1.6zM1198.4 424h1.6v1.6h-1.6zM1211.4 424h1.6v1.6h-1.6zM1224.3 424h1.6v1.6h-1.6zM1250.3 424h1.6v1.6h-1.6zM1263.2 424h1.6v1.6h-1.6zM1276.2 424h1.6v1.6h-1.6zM1289.2 424h1.6v1.6h-1.6zM1315.1 424h1.6v1.6h-1.6zM1328.1 424h1.6v1.6h-1.6zM1341 424h1.6v1.6h-1.6zM1354 424h1.6v1.6h-1.6zM1379.9 424h1.6v1.6h-1.6zM1392.9 424h1.6v1.6h-1.6zM1405.9 424h1.6v1.6h-1.6zM1418.8 424h1.6v1.6h-1.6zM796.5 488.8h1.6v1.6h-1.6zM809.4 488.8h1.6v1.6h-1.6zM822.4 488.8h1.6v1.6h-1.6zM835.4 488.8h1.6v1.6h-1.6zM861.3 488.8h1.6v1.6h-1.6zM874.3 488.8h1.6v1.6h-1.6zM887.2 488.8h1.6v1.6h-1.6zM900.2 488.8h1.6v1.6h-1.6zM926.1 488.8h1.6v1.6h-1.6zM939.1 488.8h1.6v1.6h-1.6zM952.1 488.8h1.6v1.6h-1.6zM965 488.8h1.6v1.6h-1.6zM991 488.8h1.6v1.6h-1.6zM1003.9 488.8h1.6v1.6h-1.6zM1016.9 488.8h1.6v1.6h-1.6zM1029.9 488.8h1.6v1.6h-1.6zM1055.8 488.8h1.6v1.6h-1.6zM1068.8 488.8h1.6v1.6h-1.6zM1081.7 488.8h1.6v1.6h-1.6zM1094.7 488.8h1.6v1.6h-1.6zM1120.6 488.8h1.6v1.6h-1.6zM1133.6 488.8h1.6v1.6h-1.6zM1146.5 488.8h1.6v1.6h-1.6zM1159.5 488.8h1.6v1.6h-1.6zM1185.4 488.8h1.6v1.6h-1.6zM1198.4 488.8h1.6v1.6h-1.6zM1211.4 488.8h1.6v1.6h-1.6zM1224.3 488.8h1.6v1.6h-1.6zM1250.3 488.8h1.6v1.6h-1.6zM1263.2 488.8h1.6v1.6h-1.6zM1276.2 488.8h1.6v1.6h-1.6zM1289.2 488.8h1.6v1.6h-1.6zM1315.1 488.8h1.6v1.6h-1.6zM1328.1 488.8h1.6v1.6h-1.6zM1341 488.8h1.6v1.6h-1.6zM1354 488.8h1.6v1.6h-1.6zM1379.9 488.8h1.6v1.6h-1.6zM1392.9 488.8h1.6v1.6h-1.6zM1405.9 488.8h1.6v1.6h-1.6zM1418.8 488.8h1.6v1.6h-1.6zM1107.8 37.6h1.3v1.1h-1.3zM1107.8 40.2h1.3v1.1h-1.3zM1107.8 42.8h1.3v1.1h-1.3zM1107.8 45.4h1.3v1.1h-1.3zM1107.8 48h1.3v1.1h-1.3zM1107.8 50.6h1.3v1.1h-1.3zM1107.8 53.2h1.3v1.1h-1.3zM1107.8 55.8h1.3v1.1h-1.3zM1107.8 58.4h1.3v1.1h-1.3zM1107.8 61h1.3v1.1h-1.3zM1107.8 63.6h1.3v1.1h-1.3zM1107.8 66.2h1.3v1.1h-1.3zM1107.8 68.8h1.3v1.1h-1.3zM1107.8 71.4h1.3v1.1h-1.3zM1107.8 74h1.3v1.1h-1.3zM1107.8 76.6h1.3v1.1h-1.3zM1107.8 79.2h1.3v1.1h-1.3zM1107.8 81.7h1.3v1.1h-1.3zM1107.8 84.3h1.3v1.1h-1.3zM1107.8 86.9h1.3v1.1h-1.3zM1107.8 89.5h1.3v1.1h-1.3zM1107.8 92.1h1.3v1.1h-1.3zM1107.8 94.7h1.3v1.1h-1.3zM1107.8 97.3h1.3v1.1h-1.3zM1107.8 99.9h1.3v1.1h-1.3zM1107.8 102.5h1.3v1.1h-1.3zM1107.8 105.1h1.3v1.1h-1.3zM1107.8 107.7h1.3v1.1h-1.3zM1107.8 110.3h1.3v1.1h-1.3zM1107.8 112.9h1.3v1.1h-1.3zM1107.8 115.5h1.3v1.1h-1.3zM1107.8 118.1h1.3v1.1h-1.3zM1107.8 120.7h1.3v1.1h-1.3zM1107.8 123.3h1.3v1.1h-1.3zM1107.8 125.9h1.3v1.1h-1.3zM1107.8 128.4h1.3v1.1h-1.3zM1107.8 131h1.3v1.1h-1.3zM1107.8 133.6h1.3v1.1h-1.3zM1107.8 136.2h1.3v1.1h-1.3zM1107.8 138.8h1.3v1.1h-1.3zM1107.8 141.4h1.3v1.1h-1.3zM1107.8 144h1.3v1.1h-1.3zM1107.8 146.6h1.3v1.1h-1.3zM1107.8 149.2h1.3v1.1h-1.3zM1107.8 151.8h1.3v1.1h-1.3zM1107.8 154.4h1.3v1.1h-1.3zM1107.8 157h1.3v1.1h-1.3zM1107.8 159.6h1.3v1.1h-1.3zM1107.8 162.2h1.3v1.1h-1.3zM1107.8 164.8h1.3v1.1h-1.3zM1107.8 167.4h1.3v1.1h-1.3zM1107.8 170h1.3v1.1h-1.3zM1107.8 172.6h1.3v1.1h-1.3zM1107.8 175.1h1.3v1.1h-1.3zM1107.8 177.7h1.3v1.1h-1.3zM1107.8 180.3h1.3v1.1h-1.3zM1107.8 182.9h1.3v1.1h-1.3zM1107.8 185.5h1.3v1.1h-1.3zM1107.8 188.1h1.3v1.1h-1.3zM1107.8 190.7h1.3v1.1h-1.3zM1107.8 193.3h1.3v1.1h-1.3zM1107.8 195.9h1.3v1.1h-1.3zM1107.8 198.5h1.3v1.1h-1.3zM1107.8 201.1h1.3v1.1h-1.3zM1107.8 203.7h1.3v1.1h-1.3zM1107.8 206.3h1.3v1.1h-1.3zM1107.8 208.9h1.3v1.1h-1.3zM1107.8 211.5h1.3v1.1h-1.3zM1107.8 214.1h1.3v1.1h-1.3zM1107.8 216.7h1.3v1.1h-1.3zM1107.8 219.3h1.3v1.1h-1.3zM1107.8 221.8h1.3v1.1h-1.3zM1107.8 224.4h1.3v1.1h-1.3zM1107.8 227h1.3v1.1h-1.3zM1107.8 229.6h1.3v1.1h-1.3zM1107.8 232.2h1.3v1.1h-1.3zM1107.8 234.8h1.3v1.1h-1.3zM1107.8 237.4h1.3v1.1h-1.3zM1107.8 240h1.3v1.1h-1.3zM1107.8 242.6h1.3v1.1h-1.3zM1107.8 245.2h1.3v1.1h-1.3zM1107.8 247.8h1.3v1.1h-1.3zM1107.8 250.4h1.3v1.1h-1.3zM1107.8 253h1.3v1.1h-1.3zM1107.8 255.6h1.3v1.1h-1.3zM1107.8 258.2h1.3v1.1h-1.3zM1107.8 260.8h1.3v1.1h-1.3zM1107.8 263.4h1.3v1.1h-1.3zM1107.8 266h1.3v1.1h-1.3zM1107.8 268.5h1.3v1.1h-1.3zM1107.8 271.1h1.3v1.1h-1.3zM1107.8 273.7h1.3v1.1h-1.3zM1107.8 276.3h1.3v1.1h-1.3zM1107.8 278.9h1.3v1.1h-1.3zM1107.8 281.5h1.3v1.1h-1.3zM1107.8 284.1h1.3v1.1h-1.3zM1107.8 286.7h1.3v1.1h-1.3zM1107.8 289.3h1.3v1.1h-1.3zM1107.8 291.9h1.3v1.1h-1.3zM1107.8 294.5h1.3v1.1h-1.3zM1107.8 297.1h1.3v1.1h-1.3zM1107.8 299.7h1.3v1.1h-1.3zM1107.8 302.3h1.3v1.1h-1.3zM1107.8 304.9h1.3v1.1h-1.3zM1107.8 307.5h1.3v1.1h-1.3zM1107.8 310.1h1.3v1.1h-1.3zM1107.8 312.7h1.3v1.1h-1.3zM1107.8 315.2h1.3v1.1h-1.3zM1107.8 317.8h1.3v1.1h-1.3zM1107.8 320.4h1.3v1.1h-1.3zM1107.8 323h1.3v1.1h-1.3zM1107.8 325.6h1.3v1.1h-1.3zM1107.8 328.2h1.3v1.1h-1.3zM1107.8 330.8h1.3v1.1h-1.3zM1107.8 333.4h1.3v1.1h-1.3zM1107.8 336h1.3v1.1h-1.3zM1107.8 338.6h1.3v1.1h-1.3zM1107.8 341.2h1.3v1.1h-1.3zM1107.8 343.8h1.3v1.1h-1.3zM1107.8 346.4h1.3v1.1h-1.3zM1107.8 349h1.3v1.1h-1.3zM1107.8 351.6h1.3v1.1h-1.3zM1107.8 354.2h1.3v1.1h-1.3zM1107.8 356.8h1.3v1.1h-1.3zM1107.8 359.4h1.3v1.1h-1.3zM1107.8 361.9h1.3v1.1h-1.3zM1107.8 364.5h1.3v1.1h-1.3zM1107.8 367.1h1.3v1.1h-1.3zM1107.8 369.7h1.3v1.1h-1.3zM1107.8 372.3h1.3v1.1h-1.3zM1107.8 374.9h1.3v1.1h-1.3zM1107.8 377.5h1.3v1.1h-1.3zM1107.8 380.1h1.3v1.1h-1.3zM1107.8 382.7h1.3v1.1h-1.3zM1107.8 385.3h1.3v1.1h-1.3zM1107.8 387.9h1.3v1.1h-1.3zM1107.8 390.5h1.3v1.1h-1.3zM1107.8 393.1h1.3v1.1h-1.3zM1107.8 395.7h1.3v1.1h-1.3zM1107.8 398.3h1.3v1.1h-1.3zM1107.8 400.9h1.3v1.1h-1.3zM1107.8 403.5h1.3v1.1h-1.3zM1107.8 406h1.3v1.1h-1.3zM1107.8 408.6h1.3v1.1h-1.3zM1107.8 411.2h1.3v1.1h-1.3zM1107.8 413.8h1.3v1.1h-1.3zM1107.8 416.4h1.3v1.1h-1.3zM1107.8 419h1.3v1.1h-1.3zM1107.8 421.6h1.3v1.1h-1.3zM1107.8 424.2h1.3v1.1h-1.3zM1107.8 426.8h1.3v1.1h-1.3zM1107.8 429.4h1.3v1.1h-1.3zM1107.8 432h1.3v1.1h-1.3zM1107.8 434.6h1.3v1.1h-1.3zM1107.8 437.2h1.3v1.1h-1.3zM1107.8 439.8h1.3v1.1h-1.3zM1107.8 442.4h1.3v1.1h-1.3zM1107.8 445h1.3v1.1h-1.3zM1107.8 447.6h1.3v1.1h-1.3zM1107.8 450.2h1.3v1.1h-1.3zM1107.8 452.7h1.3v1.1h-1.3zM1107.8 455.3h1.3v1.1h-1.3zM1107.8 457.9h1.3v1.1h-1.3zM1107.8 460.5h1.3v1.1h-1.3zM1107.8 463.1h1.3v1.1h-1.3zM1107.8 465.7h1.3v1.1h-1.3zM1107.8 468.3h1.3v1.1h-1.3zM1107.8 470.9h1.3v1.1h-1.3zM1107.8 473.5h1.3v1.1h-1.3zM1107.8 476.1h1.3v1.1h-1.3zM1107.8 478.7h1.3v1.1h-1.3zM1107.8 481.3h1.3v1.1h-1.3zM1107.8 483.9h1.3v1.1h-1.3zM1107.8 486.5h1.3v1.1h-1.3zM1107.8 489.1h1.3v1.1h-1.3zM1107.8 491.7h1.3v1.1h-1.3zM1107.8 494.3h1.3v1.1h-1.3zM1107.8 496.9h1.3v1.1h-1.3zM1107.8 499.4h1.3v1.1h-1.3zM1107.8 502h1.3v1.1h-1.3zM1107.8 504.6h1.3v1.1h-1.3zM1107.8 507.2h1.3v1.1h-1.3zM1107.8 509.8h1.3v1.1h-1.3zM1107.8 512.4h1.3v1.1h-1.3zM1107.8 515h1.3v1.1h-1.3zM1107.8 517.6h1.3v1.1h-1.3zM1107.8 520.2h1.3v1.1h-1.3zM1107.8 522.8h1.3v1.1h-1.3zM1107.8 525.4h1.3v1.1h-1.3zM1107.8 528h1.3v1.1h-1.3zM1107.8 530.6h1.3v1.1h-1.3zM1107.8 533.2h1.3v1.1h-1.3zM1107.8 535.8h1.3v1.1h-1.3zM1107.8 538.4h1.3v1.1h-1.3zM1107.8 541h1.3v1.1h-1.3zM1107.8 543.6h1.3v1.1h-1.3zM1107.8 546.1h1.3v1.1h-1.3zM1107.8 548.7h1.3v1.1h-1.3zM1107.8 551.3h1.3v1.1h-1.3zM786.3 294.4h1.1v1.3h-1.1zM788.9 294.4h1.1v1.3h-1.1zM791.5 294.4h1.1v1.3h-1.1zM794.1 294.4h1.1v1.3h-1.1zM796.7 294.4h1.1v1.3h-1.1zM799.3 294.4h1.1v1.3h-1.1zM801.9 294.4h1.1v1.3h-1.1zM804.5 294.4h1.1v1.3h-1.1zM807.1 294.4h1.1v1.3h-1.1zM809.7 294.4h1.1v1.3h-1.1zM812.3 294.4h1.1v1.3h-1.1zM814.9 294.4h1.1v1.3h-1.1zM817.5 294.4h1.1v1.3h-1.1zM820.1 294.4h1.1v1.3h-1.1zM822.6 294.4h1.1v1.3h-1.1zM825.2 294.4h1.1v1.3h-1.1zM827.8 294.4h1.1v1.3h-1.1zM830.4 294.4h1.1v1.3h-1.1zM833 294.4h1.1v1.3h-1.1zM835.6 294.4h1.1v1.3h-1.1zM838.2 294.4h1.1v1.3h-1.1zM840.8 294.4h1.1v1.3h-1.1zM843.4 294.4h1.1v1.3h-1.1zM846 294.4h1.1v1.3h-1.1zM848.6 294.4h1.1v1.3h-1.1zM851.2 294.4h1.1v1.3h-1.1zM853.8 294.4h1.1v1.3h-1.1zM856.4 294.4h1.1v1.3h-1.1zM859 294.4h1.1v1.3h-1.1zM861.5 294.4h1.1v1.3h-1.1zM864.1 294.4h1.1v1.3h-1.1zM866.7 294.4h1.1v1.3h-1.1zM869.3 294.4h1.1v1.3h-1.1zM871.9 294.4h1.1v1.3h-1.1zM874.5 294.4h1.1v1.3h-1.1zM877.1 294.4h1.1v1.3h-1.1zM879.7 294.4h1.1v1.3h-1.1zM882.3 294.4h1.1v1.3h-1.1zM884.9 294.4h1.1v1.3h-1.1zM887.5 294.4h1.1v1.3h-1.1zM890.1 294.4h1.1v1.3h-1.1zM892.7 294.4h1.1v1.3h-1.1zM895.3 294.4h1.1v1.3h-1.1zM897.9 294.4h1.1v1.3h-1.1zM900.4 294.4h1.1v1.3h-1.1zM903 294.4h1.1v1.3h-1.1zM905.6 294.4h1.1v1.3h-1.1zM908.2 294.4h1.1v1.3h-1.1zM910.8 294.4h1.1v1.3h-1.1zM913.4 294.4h1.1v1.3h-1.1zM916 294.4h1.1v1.3h-1.1zM918.6 294.4h1.1v1.3h-1.1zM921.2 294.4h1.1v1.3h-1.1zM923.8 294.4h1.1v1.3h-1.1zM926.4 294.4h1.1v1.3h-1.1zM929 294.4h1.1v1.3h-1.1zM931.6 294.4h1.1v1.3h-1.1zM934.2 294.4h1.1v1.3h-1.1zM936.7 294.4h1.1v1.3h-1.1zM939.3 294.4h1.1v1.3h-1.1zM941.9 294.4h1.1v1.3h-1.1zM944.5 294.4h1.1v1.3h-1.1zM947.1 294.4h1.1v1.3h-1.1zM949.7 294.4h1.1v1.3h-1.1zM952.3 294.4h1.1v1.3h-1.1zM954.9 294.4h1.1v1.3h-1.1zM957.5 294.4h1.1v1.3h-1.1zM960.1 294.4h1.1v1.3h-1.1zM962.7 294.4h1.1v1.3h-1.1zM965.3 294.4h1.1v1.3h-1.1zM967.9 294.4h1.1v1.3h-1.1zM970.5 294.4h1.1v1.3h-1.1zM973.1 294.4h1.1v1.3h-1.1zM975.6 294.4h1.1v1.3h-1.1zM978.2 294.4h1.1v1.3h-1.1zM980.8 294.4h1.1v1.3h-1.1zM983.4 294.4h1.1v1.3h-1.1zM986 294.4h1.1v1.3h-1.1zM988.6 294.4h1.1v1.3h-1.1zM991.2 294.4h1.1v1.3h-1.1zM993.8 294.4h1.1v1.3h-1.1zM996.4 294.4h1.1v1.3h-1.1zM999 294.4h1.1v1.3h-1.1zM1001.6 294.4h1.1v1.3h-1.1zM1004.2 294.4h1.1v1.3h-1.1zM1006.8 294.4h1.1v1.3h-1.1zM1009.4 294.4h1.1v1.3h-1.1zM1012 294.4h1.1v1.3h-1.1zM1014.5 294.4h1.1v1.3h-1.1zM1017.1 294.4h1.1v1.3h-1.1zM1019.7 294.4h1.1v1.3h-1.1zM1022.3 294.4h1.1v1.3h-1.1zM1024.9 294.4h1.1v1.3h-1.1zM1027.5 294.4h1.1v1.3h-1.1zM1030.1 294.4h1.1v1.3h-1.1zM1032.7 294.4h1.1v1.3h-1.1zM1035.3 294.4h1.1v1.3h-1.1zM1037.9 294.4h1.1v1.3h-1.1zM1040.5 294.4h1.1v1.3h-1.1zM1043.1 294.4h1.1v1.3h-1.1zM1045.7 294.4h1.1v1.3h-1.1zM1048.3 294.4h1.1v1.3h-1.1zM1050.8 294.4h1.1v1.3h-1.1zM1053.4 294.4h1.1v1.3h-1.1zM1056 294.4h1.1v1.3h-1.1zM1058.6 294.4h1.1v1.3h-1.1zM1061.2 294.4h1.1v1.3h-1.1zM1063.8 294.4h1.1v1.3h-1.1zM1066.4 294.4h1.1v1.3h-1.1zM1069 294.4h1.1v1.3h-1.1zM1071.6 294.4h1.1v1.3h-1.1zM1074.2 294.4h1.1v1.3h-1.1zM1076.8 294.4h1.1v1.3h-1.1zM1079.4 294.4h1.1v1.3h-1.1zM1082 294.4h1.1v1.3h-1.1zM1084.6 294.4h1.1v1.3h-1.1zM1087.2 294.4h1.1v1.3h-1.1zM1089.7 294.4h1.1v1.3h-1.1zM1092.3 294.4h1.1v1.3h-1.1zM1094.9 294.4h1.1v1.3h-1.1zM1097.5 294.4h1.1v1.3h-1.1zM1100.1 294.4h1.1v1.3h-1.1zM1102.7 294.4h1.1v1.3h-1.1zM1105.3 294.4h1.1v1.3h-1.1zM1107.9 294.4h1.1v1.3h-1.1zM1110.5 294.4h1.1v1.3h-1.1zM1113.1 294.4h1.1v1.3h-1.1zM1115.7 294.4h1.1v1.3h-1.1zM1118.3 294.4h1.1v1.3h-1.1zM1120.9 294.4h1.1v1.3h-1.1zM1123.5 294.4h1.1v1.3h-1.1zM1126.1 294.4h1.1v1.3h-1.1zM1128.6 294.4h1.1v1.3h-1.1zM1131.2 294.4h1.1v1.3h-1.1zM1133.8 294.4h1.1v1.3h-1.1zM1136.4 294.4h1.1v1.3h-1.1zM1139 294.4h1.1v1.3h-1.1zM1141.6 294.4h1.1v1.3h-1.1zM1144.2 294.4h1.1v1.3h-1.1zM1146.8 294.4h1.1v1.3h-1.1zM1149.4 294.4h1.1v1.3h-1.1zM1152 294.4h1.1v1.3h-1.1zM1154.6 294.4h1.1v1.3h-1.1zM1157.2 294.4h1.1v1.3h-1.1zM1159.8 294.4h1.1v1.3h-1.1zM1162.4 294.4h1.1v1.3h-1.1zM1165 294.4h1.1v1.3h-1.1zM1167.5 294.4h1.1v1.3h-1.1zM1170.1 294.4h1.1v1.3h-1.1zM1172.7 294.4h1.1v1.3h-1.1zM1175.3 294.4h1.1v1.3h-1.1zM1177.9 294.4h1.1v1.3h-1.1zM1180.5 294.4h1.1v1.3h-1.1zM1183.1 294.4h1.1v1.3h-1.1zM1185.7 294.4h1.1v1.3h-1.1zM1188.3 294.4h1.1v1.3h-1.1zM1190.9 294.4h1.1v1.3h-1.1zM1193.5 294.4h1.1v1.3h-1.1zM1196.1 294.4h1.1v1.3h-1.1zM1198.7 294.4h1.1v1.3h-1.1zM1201.3 294.4h1.1v1.3h-1.1zM1203.8 294.4h1.1v1.3h-1.1zM1206.4 294.4h1.1v1.3h-1.1zM1209 294.4h1.1v1.3h-1.1zM1211.6 294.4h1.1v1.3h-1.1zM1214.2 294.4h1.1v1.3h-1.1zM1216.8 294.4h1.1v1.3h-1.1zM1219.4 294.4h1.1v1.3h-1.1zM1222 294.4h1.1v1.3h-1.1zM1224.6 294.4h1.1v1.3h-1.1zM1227.2 294.4h1.1v1.3h-1.1zM1229.8 294.4h1.1v1.3h-1.1zM1232.4 294.4h1.1v1.3h-1.1zM1235 294.4h1.1v1.3h-1.1zM1237.6 294.4h1.1v1.3h-1.1zM1240.2 294.4h1.1v1.3h-1.1zM1242.7 294.4h1.1v1.3h-1.1zM1245.3 294.4h1.1v1.3h-1.1zM1247.9 294.4h1.1v1.3h-1.1zM1250.5 294.4h1.1v1.3h-1.1zM1253.1 294.4h1.1v1.3h-1.1zM1255.7 294.4h1.1v1.3h-1.1zM1258.3 294.4h1.1v1.3h-1.1zM1260.9 294.4h1.1v1.3h-1.1zM1263.5 294.4h1.1v1.3h-1.1zM1266.1 294.4h1.1v1.3h-1.1zM1268.7 294.4h1.1v1.3h-1.1zM1271.3 294.4h1.1v1.3h-1.1zM1273.9 294.4h1.1v1.3h-1.1zM1276.5 294.4h1.1v1.3h-1.1zM1279.1 294.4h1.1v1.3h-1.1zM1281.6 294.4h1.1v1.3h-1.1zM1284.2 294.4h1.1v1.3h-1.1zM1286.8 294.4h1.1v1.3h-1.1zM1289.4 294.4h1.1v1.3h-1.1zM1292 294.4h1.1v1.3h-1.1zM1294.6 294.4h1.1v1.3h-1.1zM1297.2 294.4h1.1v1.3h-1.1zM1299.8 294.4h1.1v1.3h-1.1zM1302.4 294.4h1.1v1.3h-1.1zM1305 294.4h1.1v1.3h-1.1zM1307.6 294.4h1.1v1.3h-1.1zM1310.2 294.4h1.1v1.3h-1.1zM1312.8 294.4h1.1v1.3h-1.1zM1315.4 294.4h1.1v1.3h-1.1zM1317.9 294.4h1.1v1.3h-1.1zM1320.5 294.4h1.1v1.3h-1.1zM1323.1 294.4h1.1v1.3h-1.1zM1325.7 294.4h1.1v1.3h-1.1zM1328.3 294.4h1.1v1.3h-1.1zM1330.9 294.4h1.1v1.3h-1.1zM1333.5 294.4h1.1v1.3h-1.1zM1336.1 294.4h1.1v1.3h-1.1zM1338.7 294.4h1.1v1.3h-1.1zM1341.3 294.4h1.1v1.3h-1.1zM1343.9 294.4h1.1v1.3h-1.1zM1346.5 294.4h1.1v1.3h-1.1zM1349.1 294.4h1.1v1.3h-1.1zM1351.7 294.4h1.1v1.3h-1.1zM1354.3 294.4h1.1v1.3h-1.1zM1356.8 294.4h1.1v1.3h-1.1zM1359.4 294.4h1.1v1.3h-1.1zM1362 294.4h1.1v1.3h-1.1zM1364.6 294.4h1.1v1.3h-1.1zM1367.2 294.4h1.1v1.3h-1.1zM1369.8 294.4h1.1v1.3h-1.1zM1372.4 294.4h1.1v1.3h-1.1zM1375 294.4h1.1v1.3h-1.1zM1377.6 294.4h1.1v1.3h-1.1zM1380.2 294.4h1.1v1.3h-1.1zM1382.8 294.4h1.1v1.3h-1.1zM1385.4 294.4h1.1v1.3h-1.1zM1388 294.4h1.1v1.3h-1.1zM1390.6 294.4h1.1v1.3h-1.1zM1393.2 294.4h1.1v1.3h-1.1zM1395.7 294.4h1.1v1.3h-1.1zM1398.3 294.4h1.1v1.3h-1.1zM1400.9 294.4h1.1v1.3h-1.1zM1403.5 294.4h1.1v1.3h-1.1zM1406.1 294.4h1.1v1.3h-1.1zM1408.7 294.4h1.1v1.3h-1.1zM1411.3 294.4h1.1v1.3h-1.1zM1413.9 294.4h1.1v1.3h-1.1zM1416.5 294.4h1.1v1.3h-1.1zM1419.1 294.4h1.1v1.3h-1.1zM1421.7 294.4h1.1v1.3h-1.1zM1424.3 294.4h1.1v1.3h-1.1zM1426.9 294.4h1.1v1.3h-1.1zM1429.5 294.4h1.1v1.3h-1.1zM1103.8 47.9h1.2v1.3h-1.2zM1106.3 47.9h1.2v1.3h-1.2zM1109.3 47.9h1.2v1.3h-1.2zM1111.8 47.9h1.2v1.3h-1.2zM1103.8 60.9h1.2v1.3h-1.2zM1106.3 60.9h1.2v1.3h-1.2zM1109.3 60.9h1.2v1.3h-1.2zM1111.8 60.9h1.2v1.3h-1.2zM1103.8 73.9h1.2v1.3h-1.2zM1106.3 73.9h1.2v1.3h-1.2zM1109.3 73.9h1.2v1.3h-1.2zM1111.8 73.9h1.2v1.3h-1.2zM1103.8 86.8h1.2v1.3h-1.2zM1106.3 86.8h1.2v1.3h-1.2zM1109.3 86.8h1.2v1.3h-1.2zM1111.8 86.8h1.2v1.3h-1.2zM1103.8 99.8h1.2v1.3h-1.2zM1106.3 99.8h1.2v1.3h-1.2zM1109.3 99.8h1.2v1.3h-1.2zM1111.8 99.8h1.2v1.3h-1.2zM1103.8 112.8h1.2v1.3h-1.2zM1106.3 112.8h1.2v1.3h-1.2zM1109.3 112.8h1.2v1.3h-1.2zM1111.8 112.8h1.2v1.3h-1.2zM1103.8 125.8h1.2v1.3h-1.2zM1106.3 125.8h1.2v1.3h-1.2zM1109.3 125.8h1.2v1.3h-1.2zM1111.8 125.8h1.2v1.3h-1.2zM1103.8 138.7h1.2v1.3h-1.2zM1106.3 138.7h1.2v1.3h-1.2zM1109.3 138.7h1.2v1.3h-1.2zM1111.8 138.7h1.2v1.3h-1.2zM1103.8 151.7h1.2v1.3h-1.2zM1106.3 151.7h1.2v1.3h-1.2zM1109.3 151.7h1.2v1.3h-1.2zM1111.8 151.7h1.2v1.3h-1.2zM1103.8 164.7h1.2v1.3h-1.2zM1106.3 164.7h1.2v1.3h-1.2zM1109.3 164.7h1.2v1.3h-1.2zM1111.8 164.7h1.2v1.3h-1.2zM1103.8 177.6h1.2v1.3h-1.2zM1106.3 177.6h1.2v1.3h-1.2zM1109.3 177.6h1.2v1.3h-1.2zM1111.8 177.6h1.2v1.3h-1.2zM1103.8 190.6h1.2v1.3h-1.2zM1106.3 190.6h1.2v1.3h-1.2zM1109.3 190.6h1.2v1.3h-1.2zM1111.8 190.6h1.2v1.3h-1.2zM1103.8 203.6h1.2v1.3h-1.2zM1106.3 203.6h1.2v1.3h-1.2zM1109.3 203.6h1.2v1.3h-1.2zM1111.8 203.6h1.2v1.3h-1.2zM1103.8 216.6h1.2v1.3h-1.2zM1106.3 216.6h1.2v1.3h-1.2zM1109.3 216.6h1.2v1.3h-1.2zM1111.8 216.6h1.2v1.3h-1.2zM1103.8 229.5h1.2v1.3h-1.2zM1106.3 229.5h1.2v1.3h-1.2zM1109.3 229.5h1.2v1.3h-1.2zM1111.8 229.5h1.2v1.3h-1.2zM1103.8 242.5h1.2v1.3h-1.2zM1106.3 242.5h1.2v1.3h-1.2zM1109.3 242.5h1.2v1.3h-1.2zM1111.8 242.5h1.2v1.3h-1.2zM1103.8 255.5h1.2v1.3h-1.2zM1106.3 255.5h1.2v1.3h-1.2zM1109.3 255.5h1.2v1.3h-1.2zM1111.8 255.5h1.2v1.3h-1.2zM1103.8 268.4h1.2v1.3h-1.2zM1106.3 268.4h1.2v1.3h-1.2zM1109.3 268.4h1.2v1.3h-1.2zM1111.8 268.4h1.2v1.3h-1.2zM1103.8 281.4h1.2v1.3h-1.2zM1106.3 281.4h1.2v1.3h-1.2zM1109.3 281.4h1.2v1.3h-1.2zM1111.8 281.4h1.2v1.3h-1.2zM1103.8 294.4h1.2v1.3h-1.2zM1106.3 294.4h1.2v1.3h-1.2zM1109.3 294.4h1.2v1.3h-1.2zM1111.8 294.4h1.2v1.3h-1.2zM1103.8 307.4h1.2v1.3h-1.2zM1106.3 307.4h1.2v1.3h-1.2zM1109.3 307.4h1.2v1.3h-1.2zM1111.8 307.4h1.2v1.3h-1.2zM1103.8 320.3h1.2v1.3h-1.2zM1106.3 320.3h1.2v1.3h-1.2zM1109.3 320.3h1.2v1.3h-1.2zM1111.8 320.3h1.2v1.3h-1.2zM1103.8 333.3h1.2v1.3h-1.2zM1106.3 333.3h1.2v1.3h-1.2zM1109.3 333.3h1.2v1.3h-1.2zM1111.8 333.3h1.2v1.3h-1.2zM1103.8 346.3h1.2v1.3h-1.2zM1106.3 346.3h1.2v1.3h-1.2zM1109.3 346.3h1.2v1.3h-1.2zM1111.8 346.3h1.2v1.3h-1.2zM1103.8 359.3h1.2v1.3h-1.2zM1106.3 359.3h1.2v1.3h-1.2zM1109.3 359.3h1.2v1.3h-1.2zM1111.8 359.3h1.2v1.3h-1.2zM1103.8 372.2h1.2v1.3h-1.2zM1106.3 372.2h1.2v1.3h-1.2zM1109.3 372.2h1.2v1.3h-1.2zM1111.8 372.2h1.2v1.3h-1.2zM1103.8 385.2h1.2v1.3h-1.2zM1106.3 385.2h1.2v1.3h-1.2zM1109.3 385.2h1.2v1.3h-1.2zM1111.8 385.2h1.2v1.3h-1.2zM1103.8 398.2h1.2v1.3h-1.2zM1106.3 398.2h1.2v1.3h-1.2zM1109.3 398.2h1.2v1.3h-1.2zM1111.8 398.2h1.2v1.3h-1.2zM1103.8 411.1h1.2v1.3h-1.2zM1106.3 411.1h1.2v1.3h-1.2zM1109.3 411.1h1.2v1.3h-1.2zM1111.8 411.1h1.2v1.3h-1.2zM1103.8 424.1h1.2v1.3h-1.2zM1106.3 424.1h1.2v1.3h-1.2zM1109.3 424.1h1.2v1.3h-1.2zM1111.8 424.1h1.2v1.3h-1.2zM1103.8 437.1h1.2v1.3h-1.2zM1106.3 437.1h1.2v1.3h-1.2zM1109.3 437.1h1.2v1.3h-1.2zM1111.8 437.1h1.2v1.3h-1.2zM1103.8 450.1h1.2v1.3h-1.2zM1106.3 450.1h1.2v1.3h-1.2zM1109.3 450.1h1.2v1.3h-1.2zM1111.8 450.1h1.2v1.3h-1.2zM1103.8 463h1.2v1.3h-1.2zM1106.3 463h1.2v1.3h-1.2zM1109.3 463h1.2v1.3h-1.2zM1111.8 463h1.2v1.3h-1.2zM1103.8 476h1.2v1.3h-1.2zM1106.3 476h1.2v1.3h-1.2zM1109.3 476h1.2v1.3h-1.2zM1111.8 476h1.2v1.3h-1.2zM1103.8 489h1.2v1.3h-1.2zM1106.3 489h1.2v1.3h-1.2zM1109.3 489h1.2v1.3h-1.2zM1111.8 489h1.2v1.3h-1.2zM1103.8 501.9h1.2v1.3h-1.2zM1106.3 501.9h1.2v1.3h-1.2zM1109.3 501.9h1.2v1.3h-1.2zM1111.8 501.9h1.2v1.3h-1.2zM1103.8 514.9h1.2v1.3h-1.2zM1106.3 514.9h1.2v1.3h-1.2zM1109.3 514.9h1.2v1.3h-1.2zM1111.8 514.9h1.2v1.3h-1.2zM1103.8 527.9h1.2v1.3h-1.2zM1106.3 527.9h1.2v1.3h-1.2zM1109.3 527.9h1.2v1.3h-1.2zM1111.8 527.9h1.2v1.3h-1.2zM1103.8 540.9h1.2v1.3h-1.2zM1106.3 540.9h1.2v1.3h-1.2zM1109.3 540.9h1.2v1.3h-1.2zM1111.8 540.9h1.2v1.3h-1.2zM796.6 290.4h1.3v1.2h-1.3zM796.6 292.9h1.3v1.2h-1.3zM796.6 295.9h1.3v1.2h-1.3zM796.6 298.4h1.3v1.2h-1.3zM809.6 290.4h1.3v1.2h-1.3zM809.6 292.9h1.3v1.2h-1.3zM809.6 295.9h1.3v1.2h-1.3zM809.6 298.4h1.3v1.2h-1.3zM822.5 290.4h1.3v1.2h-1.3zM822.5 292.9h1.3v1.2h-1.3zM822.5 295.9h1.3v1.2h-1.3zM822.5 298.4h1.3v1.2h-1.3zM835.5 290.4h1.3v1.2h-1.3zM835.5 292.9h1.3v1.2h-1.3zM835.5 295.9h1.3v1.2h-1.3zM835.5 298.4h1.3v1.2h-1.3zM848.5 290.4h1.3v1.2h-1.3zM848.5 292.9h1.3v1.2h-1.3zM848.5 295.9h1.3v1.2h-1.3zM848.5 298.4h1.3v1.2h-1.3zM861.4 290.4h1.3v1.2h-1.3zM861.4 292.9h1.3v1.2h-1.3zM861.4 295.9h1.3v1.2h-1.3zM861.4 298.4h1.3v1.2h-1.3zM874.4 290.4h1.3v1.2h-1.3zM874.4 292.9h1.3v1.2h-1.3zM874.4 295.9h1.3v1.2h-1.3zM874.4 298.4h1.3v1.2h-1.3zM887.4 290.4h1.3v1.2h-1.3zM887.4 292.9h1.3v1.2h-1.3zM887.4 295.9h1.3v1.2h-1.3zM887.4 298.4h1.3v1.2h-1.3zM900.3 290.4h1.3v1.2h-1.3zM900.3 292.9h1.3v1.2h-1.3zM900.3 295.9h1.3v1.2h-1.3zM900.3 298.4h1.3v1.2h-1.3zM913.3 290.4h1.3v1.2h-1.3zM913.3 292.9h1.3v1.2h-1.3zM913.3 295.9h1.3v1.2h-1.3zM913.3 298.4h1.3v1.2h-1.3zM926.3 290.4h1.3v1.2h-1.3zM926.3 292.9h1.3v1.2h-1.3zM926.3 295.9h1.3v1.2h-1.3zM926.3 298.4h1.3v1.2h-1.3zM939.2 290.4h1.3v1.2h-1.3zM939.2 292.9h1.3v1.2h-1.3zM939.2 295.9h1.3v1.2h-1.3zM939.2 298.4h1.3v1.2h-1.3zM952.2 290.4h1.3v1.2h-1.3zM952.2 292.9h1.3v1.2h-1.3zM952.2 295.9h1.3v1.2h-1.3zM952.2 298.4h1.3v1.2h-1.3zM965.2 290.4h1.3v1.2h-1.3zM965.2 292.9h1.3v1.2h-1.3zM965.2 295.9h1.3v1.2h-1.3zM965.2 298.4h1.3v1.2h-1.3zM978.1 290.4h1.3v1.2h-1.3zM978.1 292.9h1.3v1.2h-1.3zM978.1 295.9h1.3v1.2h-1.3zM978.1 298.4h1.3v1.2h-1.3zM991.1 290.4h1.3v1.2h-1.3zM991.1 292.9h1.3v1.2h-1.3zM991.1 295.9h1.3v1.2h-1.3zM991.1 298.4h1.3v1.2h-1.3zM1004.1 290.4h1.3v1.2h-1.3zM1004.1 292.9h1.3v1.2h-1.3zM1004.1 295.9h1.3v1.2h-1.3zM1004.1 298.4h1.3v1.2h-1.3zM1017 290.4h1.3v1.2h-1.3zM1017 292.9h1.3v1.2h-1.3zM1017 295.9h1.3v1.2h-1.3zM1017 298.4h1.3v1.2h-1.3zM1030 290.4h1.3v1.2h-1.3zM1030 292.9h1.3v1.2h-1.3zM1030 295.9h1.3v1.2h-1.3zM1030 298.4h1.3v1.2h-1.3zM1043 290.4h1.3v1.2h-1.3zM1043 292.9h1.3v1.2h-1.3zM1043 295.9h1.3v1.2h-1.3zM1043 298.4h1.3v1.2h-1.3zM1055.9 290.4h1.3v1.2h-1.3zM1055.9 292.9h1.3v1.2h-1.3zM1055.9 295.9h1.3v1.2h-1.3zM1055.9 298.4h1.3v1.2h-1.3zM1068.9 290.4h1.3v1.2h-1.3zM1068.9 292.9h1.3v1.2h-1.3zM1068.9 295.9h1.3v1.2h-1.3zM1068.9 298.4h1.3v1.2h-1.3zM1081.9 290.4h1.3v1.2h-1.3zM1081.9 292.9h1.3v1.2h-1.3zM1081.9 295.9h1.3v1.2h-1.3zM1081.9 298.4h1.3v1.2h-1.3zM1094.8 290.4h1.3v1.2h-1.3zM1094.8 292.9h1.3v1.2h-1.3zM1094.8 295.9h1.3v1.2h-1.3zM1094.8 298.4h1.3v1.2h-1.3zM1107.8 290.4h1.3v1.2h-1.3zM1107.8 292.9h1.3v1.2h-1.3zM1107.8 295.9h1.3v1.2h-1.3zM1107.8 298.4h1.3v1.2h-1.3zM1120.8 290.4h1.3v1.2h-1.3zM1120.8 292.9h1.3v1.2h-1.3zM1120.8 295.9h1.3v1.2h-1.3zM1120.8 298.4h1.3v1.2h-1.3zM1133.7 290.4h1.3v1.2h-1.3zM1133.7 292.9h1.3v1.2h-1.3zM1133.7 295.9h1.3v1.2h-1.3zM1133.7 298.4h1.3v1.2h-1.3zM1146.7 290.4h1.3v1.2h-1.3zM1146.7 292.9h1.3v1.2h-1.3zM1146.7 295.9h1.3v1.2h-1.3zM1146.7 298.4h1.3v1.2h-1.3zM1159.7 290.4h1.3v1.2h-1.3zM1159.7 292.9h1.3v1.2h-1.3zM1159.7 295.9h1.3v1.2h-1.3zM1159.7 298.4h1.3v1.2h-1.3zM1172.6 290.4h1.3v1.2h-1.3zM1172.6 292.9h1.3v1.2h-1.3zM1172.6 295.9h1.3v1.2h-1.3zM1172.6 298.4h1.3v1.2h-1.3zM1185.6 290.4h1.3v1.2h-1.3zM1185.6 292.9h1.3v1.2h-1.3zM1185.6 295.9h1.3v1.2h-1.3zM1185.6 298.4h1.3v1.2h-1.3zM1198.6 290.4h1.3v1.2h-1.3zM1198.6 292.9h1.3v1.2h-1.3zM1198.6 295.9h1.3v1.2h-1.3zM1198.6 298.4h1.3v1.2h-1.3zM1211.5 290.4h1.3v1.2h-1.3zM1211.5 292.9h1.3v1.2h-1.3zM1211.5 295.9h1.3v1.2h-1.3zM1211.5 298.4h1.3v1.2h-1.3zM1224.5 290.4h1.3v1.2h-1.3zM1224.5 292.9h1.3v1.2h-1.3zM1224.5 295.9h1.3v1.2h-1.3zM1224.5 298.4h1.3v1.2h-1.3zM1237.5 290.4h1.3v1.2h-1.3zM1237.5 292.9h1.3v1.2h-1.3zM1237.5 295.9h1.3v1.2h-1.3zM1237.5 298.4h1.3v1.2h-1.3zM1250.4 290.4h1.3v1.2h-1.3zM1250.4 292.9h1.3v1.2h-1.3zM1250.4 295.9h1.3v1.2h-1.3zM1250.4 298.4h1.3v1.2h-1.3zM1263.4 290.4h1.3v1.2h-1.3zM1263.4 292.9h1.3v1.2h-1.3zM1263.4 295.9h1.3v1.2h-1.3zM1263.4 298.4h1.3v1.2h-1.3zM1276.4 290.4h1.3v1.2h-1.3zM1276.4 292.9h1.3v1.2h-1.3zM1276.4 295.9h1.3v1.2h-1.3zM1276.4 298.4h1.3v1.2h-1.3zM1289.3 290.4h1.3v1.2h-1.3zM1289.3 292.9h1.3v1.2h-1.3zM1289.3 295.9h1.3v1.2h-1.3zM1289.3 298.4h1.3v1.2h-1.3zM1302.3 290.4h1.3v1.2h-1.3zM1302.3 292.9h1.3v1.2h-1.3zM1302.3 295.9h1.3v1.2h-1.3zM1302.3 298.4h1.3v1.2h-1.3zM1315.3 290.4h1.3v1.2h-1.3zM1315.3 292.9h1.3v1.2h-1.3zM1315.3 295.9h1.3v1.2h-1.3zM1315.3 298.4h1.3v1.2h-1.3zM1328.2 290.4h1.3v1.2h-1.3zM1328.2 292.9h1.3v1.2h-1.3zM1328.2 295.9h1.3v1.2h-1.3zM1328.2 298.4h1.3v1.2h-1.3zM1341.2 290.4h1.3v1.2h-1.3zM1341.2 292.9h1.3v1.2h-1.3zM1341.2 295.9h1.3v1.2h-1.3zM1341.2 298.4h1.3v1.2h-1.3zM1354.2 290.4h1.3v1.2h-1.3zM1354.2 292.9h1.3v1.2h-1.3zM1354.2 295.9h1.3v1.2h-1.3zM1354.2 298.4h1.3v1.2h-1.3zM1367.1 290.4h1.3v1.2h-1.3zM1367.1 292.9h1.3v1.2h-1.3zM1367.1 295.9h1.3v1.2h-1.3zM1367.1 298.4h1.3v1.2h-1.3zM1380.1 290.4h1.3v1.2h-1.3zM1380.1 292.9h1.3v1.2h-1.3zM1380.1 295.9h1.3v1.2h-1.3zM1380.1 298.4h1.3v1.2h-1.3zM1393.1 290.4h1.3v1.2h-1.3zM1393.1 292.9h1.3v1.2h-1.3zM1393.1 295.9h1.3v1.2h-1.3zM1393.1 298.4h1.3v1.2h-1.3zM1406 290.4h1.3v1.2h-1.3zM1406 292.9h1.3v1.2h-1.3zM1406 295.9h1.3v1.2h-1.3zM1406 298.4h1.3v1.2h-1.3zM1419 290.4h1.3v1.2h-1.3zM1419 292.9h1.3v1.2h-1.3zM1419 295.9h1.3v1.2h-1.3zM1419 298.4h1.3v1.2h-1.3zM848.5 37.2h1.3v1.2h-1.3zM848.5 551.7h1.3v1.2h-1.3zM848.5 39.6h1.3v1.2h-1.3zM848.5 549.3h1.3v1.2h-1.3zM848.5 42h1.3v1.2h-1.3zM848.5 546.9h1.3v1.2h-1.3zM913.3 37.2h1.3v1.2h-1.3zM913.3 551.7h1.3v1.2h-1.3zM913.3 39.6h1.3v1.2h-1.3zM913.3 549.3h1.3v1.2h-1.3zM913.3 42h1.3v1.2h-1.3zM913.3 546.9h1.3v1.2h-1.3zM978.1 37.2h1.3v1.2h-1.3zM978.1 551.7h1.3v1.2h-1.3zM978.1 39.6h1.3v1.2h-1.3zM978.1 549.3h1.3v1.2h-1.3zM978.1 42h1.3v1.2h-1.3zM978.1 546.9h1.3v1.2h-1.3zM1043 37.2h1.3v1.2h-1.3zM1043 551.7h1.3v1.2h-1.3zM1043 39.6h1.3v1.2h-1.3zM1043 549.3h1.3v1.2h-1.3zM1043 42h1.3v1.2h-1.3zM1043 546.9h1.3v1.2h-1.3zM1107.8 37.2h1.3v1.2h-1.3zM1107.8 551.7h1.3v1.2h-1.3zM1107.8 39.6h1.3v1.2h-1.3zM1107.8 549.3h1.3v1.2h-1.3zM1107.8 42h1.3v1.2h-1.3zM1107.8 546.9h1.3v1.2h-1.3zM1172.6 37.2h1.3v1.2h-1.3zM1172.6 551.7h1.3v1.2h-1.3zM1172.6 39.6h1.3v1.2h-1.3zM1172.6 549.3h1.3v1.2h-1.3zM1172.6 42h1.3v1.2h-1.3zM1172.6 546.9h1.3v1.2h-1.3zM1237.5 37.2h1.3v1.2h-1.3zM1237.5 551.7h1.3v1.2h-1.3zM1237.5 39.6h1.3v1.2h-1.3zM1237.5 549.3h1.3v1.2h-1.3zM1237.5 42h1.3v1.2h-1.3zM1237.5 546.9h1.3v1.2h-1.3zM1302.3 37.2h1.3v1.2h-1.3zM1302.3 551.7h1.3v1.2h-1.3zM1302.3 39.6h1.3v1.2h-1.3zM1302.3 549.3h1.3v1.2h-1.3zM1302.3 42h1.3v1.2h-1.3zM1302.3 546.9h1.3v1.2h-1.3zM1367.1 37.2h1.3v1.2h-1.3zM1367.1 551.7h1.3v1.2h-1.3zM1367.1 39.6h1.3v1.2h-1.3zM1367.1 549.3h1.3v1.2h-1.3zM1367.1 42h1.3v1.2h-1.3zM1367.1 546.9h1.3v1.2h-1.3zM785.9 99.8h1.2v1.3h-1.2zM1429.8 99.8h1.2v1.3h-1.2zM788.3 99.8h1.2v1.3h-1.2zM1427.4 99.8h1.2v1.3h-1.2zM790.7 99.8h1.2v1.3h-1.2zM1425 99.8h1.2v1.3h-1.2zM785.9 164.7h1.2v1.3h-1.2zM1429.8 164.7h1.2v1.3h-1.2zM788.3 164.7h1.2v1.3h-1.2zM1427.4 164.7h1.2v1.3h-1.2zM790.7 164.7h1.2v1.3h-1.2zM1425 164.7h1.2v1.3h-1.2zM785.9 229.5h1.2v1.3h-1.2zM1429.8 229.5h1.2v1.3h-1.2zM788.3 229.5h1.2v1.3h-1.2zM1427.4 229.5h1.2v1.3h-1.2zM790.7 229.5h1.2v1.3h-1.2zM1425 229.5h1.2v1.3h-1.2zM785.9 294.4h1.2v1.3h-1.2zM1429.8 294.4h1.2v1.3h-1.2zM788.3 294.4h1.2v1.3h-1.2zM1427.4 294.4h1.2v1.3h-1.2zM790.7 294.4h1.2v1.3h-1.2zM1425 294.4h1.2v1.3h-1.2zM785.9 359.3h1.2v1.3h-1.2zM1429.8 359.3h1.2v1.3h-1.2zM788.3 359.3h1.2v1.3h-1.2zM1427.4 359.3h1.2v1.3h-1.2zM790.7 359.3h1.2v1.3h-1.2zM1425 359.3h1.2v1.3h-1.2zM785.9 424.1h1.2v1.3h-1.2zM1429.8 424.1h1.2v1.3h-1.2zM788.3 424.1h1.2v1.3h-1.2zM1427.4 424.1h1.2v1.3h-1.2zM790.7 424.1h1.2v1.3h-1.2zM1425 424.1h1.2v1.3h-1.2zM785.9 489h1.2v1.3h-1.2zM1429.8 489h1.2v1.3h-1.2zM788.3 489h1.2v1.3h-1.2zM1427.4 489h1.2v1.3h-1.2zM790.7 489h1.2v1.3h-1.2zM1425 489h1.2v1.3h-1.2zM796.6 34.8h1.3v1.8h-1.3zM796.6 37.5h1.3v1.3h-1.3zM796.6 553.5h1.3v1.8h-1.3zM796.6 551.3h1.3v1.3h-1.3zM809.6 34.8h1.3v1.8h-1.3zM809.6 37.5h1.3v1.3h-1.3zM809.6 553.5h1.3v1.8h-1.3zM809.6 551.3h1.3v1.3h-1.3zM822.5 34.8h1.3v1.8h-1.3zM822.5 37.5h1.3v1.3h-1.3zM822.5 553.5h1.3v1.8h-1.3zM822.5 551.3h1.3v1.3h-1.3zM835.5 34.8h1.3v1.8h-1.3zM835.5 37.5h1.3v1.3h-1.3zM835.5 553.5h1.3v1.8h-1.3zM835.5 551.3h1.3v1.3h-1.3zM848.5 34.8h1.3v1.8h-1.3zM848.5 37.5h1.3v1.3h-1.3zM848.5 553.5h1.3v1.8h-1.3zM848.5 551.3h1.3v1.3h-1.3zM861.4 34.8h1.3v1.8h-1.3zM861.4 37.5h1.3v1.3h-1.3zM861.4 553.5h1.3v1.8h-1.3zM861.4 551.3h1.3v1.3h-1.3zM874.4 34.8h1.3v1.8h-1.3zM874.4 37.5h1.3v1.3h-1.3zM874.4 553.5h1.3v1.8h-1.3zM874.4 551.3h1.3v1.3h-1.3zM887.4 34.8h1.3v1.8h-1.3zM887.4 37.5h1.3v1.3h-1.3zM887.4 553.5h1.3v1.8h-1.3zM887.4 551.3h1.3v1.3h-1.3zM900.3 34.8h1.3v1.8h-1.3zM900.3 37.5h1.3v1.3h-1.3zM900.3 553.5h1.3v1.8h-1.3zM900.3 551.3h1.3v1.3h-1.3zM913.3 34.8h1.3v1.8h-1.3zM913.3 37.5h1.3v1.3h-1.3zM913.3 553.5h1.3v1.8h-1.3zM913.3 551.3h1.3v1.3h-1.3zM926.3 34.8h1.3v1.8h-1.3zM926.3 37.5h1.3v1.3h-1.3zM926.3 553.5h1.3v1.8h-1.3zM926.3 551.3h1.3v1.3h-1.3zM939.2 34.8h1.3v1.8h-1.3zM939.2 37.5h1.3v1.3h-1.3zM939.2 553.5h1.3v1.8h-1.3zM939.2 551.3h1.3v1.3h-1.3zM952.2 34.8h1.3v1.8h-1.3zM952.2 37.5h1.3v1.3h-1.3zM952.2 553.5h1.3v1.8h-1.3zM952.2 551.3h1.3v1.3h-1.3zM965.2 34.8h1.3v1.8h-1.3zM965.2 37.5h1.3v1.3h-1.3zM965.2 553.5h1.3v1.8h-1.3zM965.2 551.3h1.3v1.3h-1.3zM978.1 34.8h1.3v1.8h-1.3zM978.1 37.5h1.3v1.3h-1.3zM978.1 553.5h1.3v1.8h-1.3zM978.1 551.3h1.3v1.3h-1.3zM991.1 34.8h1.3v1.8h-1.3zM991.1 37.5h1.3v1.3h-1.3zM991.1 553.5h1.3v1.8h-1.3zM991.1 551.3h1.3v1.3h-1.3zM1004.1 34.8h1.3v1.8h-1.3zM1004.1 37.5h1.3v1.3h-1.3zM1004.1 553.5h1.3v1.8h-1.3zM1004.1 551.3h1.3v1.3h-1.3zM1017 34.8h1.3v1.8h-1.3zM1017 37.5h1.3v1.3h-1.3zM1017 553.5h1.3v1.8h-1.3zM1017 551.3h1.3v1.3h-1.3zM1030 34.8h1.3v1.8h-1.3zM1030 37.5h1.3v1.3h-1.3zM1030 553.5h1.3v1.8h-1.3zM1030 551.3h1.3v1.3h-1.3zM1043 34.8h1.3v1.8h-1.3zM1043 37.5h1.3v1.3h-1.3zM1043 553.5h1.3v1.8h-1.3zM1043 551.3h1.3v1.3h-1.3zM1055.9 34.8h1.3v1.8h-1.3zM1055.9 37.5h1.3v1.3h-1.3zM1055.9 553.5h1.3v1.8h-1.3zM1055.9 551.3h1.3v1.3h-1.3zM1068.9 34.8h1.3v1.8h-1.3zM1068.9 37.5h1.3v1.3h-1.3zM1068.9 553.5h1.3v1.8h-1.3zM1068.9 551.3h1.3v1.3h-1.3zM1081.9 34.8h1.3v1.8h-1.3zM1081.9 37.5h1.3v1.3h-1.3zM1081.9 553.5h1.3v1.8h-1.3zM1081.9 551.3h1.3v1.3h-1.3zM1094.8 34.8h1.3v1.8h-1.3zM1094.8 37.5h1.3v1.3h-1.3zM1094.8 553.5h1.3v1.8h-1.3zM1094.8 551.3h1.3v1.3h-1.3zM1107.8 34.8h1.3v1.8h-1.3zM1107.8 37.5h1.3v1.3h-1.3zM1107.8 553.5h1.3v1.8h-1.3zM1107.8 551.3h1.3v1.3h-1.3zM1120.8 34.8h1.3v1.8h-1.3zM1120.8 37.5h1.3v1.3h-1.3zM1120.8 553.5h1.3v1.8h-1.3zM1120.8 551.3h1.3v1.3h-1.3zM1133.7 34.8h1.3v1.8h-1.3zM1133.7 37.5h1.3v1.3h-1.3zM1133.7 553.5h1.3v1.8h-1.3zM1133.7 551.3h1.3v1.3h-1.3zM1146.7 34.8h1.3v1.8h-1.3zM1146.7 37.5h1.3v1.3h-1.3zM1146.7 553.5h1.3v1.8h-1.3zM1146.7 551.3h1.3v1.3h-1.3zM1159.7 34.8h1.3v1.8h-1.3zM1159.7 37.5h1.3v1.3h-1.3zM1159.7 553.5h1.3v1.8h-1.3zM1159.7 551.3h1.3v1.3h-1.3zM1172.6 34.8h1.3v1.8h-1.3zM1172.6 37.5h1.3v1.3h-1.3zM1172.6 553.5h1.3v1.8h-1.3zM1172.6 551.3h1.3v1.3h-1.3zM1185.6 34.8h1.3v1.8h-1.3zM1185.6 37.5h1.3v1.3h-1.3zM1185.6 553.5h1.3v1.8h-1.3zM1185.6 551.3h1.3v1.3h-1.3zM1198.6 34.8h1.3v1.8h-1.3zM1198.6 37.5h1.3v1.3h-1.3zM1198.6 553.5h1.3v1.8h-1.3zM1198.6 551.3h1.3v1.3h-1.3zM1211.5 34.8h1.3v1.8h-1.3zM1211.5 37.5h1.3v1.3h-1.3zM1211.5 553.5h1.3v1.8h-1.3zM1211.5 551.3h1.3v1.3h-1.3zM1224.5 34.8h1.3v1.8h-1.3zM1224.5 37.5h1.3v1.3h-1.3zM1224.5 553.5h1.3v1.8h-1.3zM1224.5 551.3h1.3v1.3h-1.3zM1237.5 34.8h1.3v1.8h-1.3zM1237.5 37.5h1.3v1.3h-1.3zM1237.5 553.5h1.3v1.8h-1.3zM1237.5 551.3h1.3v1.3h-1.3zM1250.4 34.8h1.3v1.8h-1.3zM1250.4 37.5h1.3v1.3h-1.3zM1250.4 553.5h1.3v1.8h-1.3zM1250.4 551.3h1.3v1.3h-1.3zM1263.4 34.8h1.3v1.8h-1.3zM1263.4 37.5h1.3v1.3h-1.3zM1263.4 553.5h1.3v1.8h-1.3zM1263.4 551.3h1.3v1.3h-1.3zM1276.4 34.8h1.3v1.8h-1.3zM1276.4 37.5h1.3v1.3h-1.3zM1276.4 553.5h1.3v1.8h-1.3zM1276.4 551.3h1.3v1.3h-1.3zM1289.3 34.8h1.3v1.8h-1.3zM1289.3 37.5h1.3v1.3h-1.3zM1289.3 553.5h1.3v1.8h-1.3zM1289.3 551.3h1.3v1.3h-1.3zM1302.3 34.8h1.3v1.8h-1.3zM1302.3 37.5h1.3v1.3h-1.3zM1302.3 553.5h1.3v1.8h-1.3zM1302.3 551.3h1.3v1.3h-1.3zM1315.3 34.8h1.3v1.8h-1.3zM1315.3 37.5h1.3v1.3h-1.3zM1315.3 553.5h1.3v1.8h-1.3zM1315.3 551.3h1.3v1.3h-1.3zM1328.2 34.8h1.3v1.8h-1.3zM1328.2 37.5h1.3v1.3h-1.3zM1328.2 553.5h1.3v1.8h-1.3zM1328.2 551.3h1.3v1.3h-1.3zM1341.2 34.8h1.3v1.8h-1.3zM1341.2 37.5h1.3v1.3h-1.3zM1341.2 553.5h1.3v1.8h-1.3zM1341.2 551.3h1.3v1.3h-1.3zM1354.2 34.8h1.3v1.8h-1.3zM1354.2 37.5h1.3v1.3h-1.3zM1354.2 553.5h1.3v1.8h-1.3zM1354.2 551.3h1.3v1.3h-1.3zM1367.1 34.8h1.3v1.8h-1.3zM1367.1 37.5h1.3v1.3h-1.3zM1367.1 553.5h1.3v1.8h-1.3zM1367.1 551.3h1.3v1.3h-1.3zM1380.1 34.8h1.3v1.8h-1.3zM1380.1 37.5h1.3v1.3h-1.3zM1380.1 553.5h1.3v1.8h-1.3zM1380.1 551.3h1.3v1.3h-1.3zM1393.1 34.8h1.3v1.8h-1.3zM1393.1 37.5h1.3v1.3h-1.3zM1393.1 553.5h1.3v1.8h-1.3zM1393.1 551.3h1.3v1.3h-1.3zM1406 34.8h1.3v1.8h-1.3zM1406 37.5h1.3v1.3h-1.3zM1406 553.5h1.3v1.8h-1.3zM1406 551.3h1.3v1.3h-1.3zM1419 34.8h1.3v1.8h-1.3zM1419 37.5h1.3v1.3h-1.3zM1419 553.5h1.3v1.8h-1.3zM1419 551.3h1.3v1.3h-1.3zM783.5 47.9h1.8v1.3h-1.8zM786.2 47.9h1.3v1.3h-1.3zM1431.6 47.9h1.8v1.3h-1.8zM1429.4 47.9h1.3v1.3h-1.3zM783.5 60.9h1.8v1.3h-1.8zM786.2 60.9h1.3v1.3h-1.3zM1431.6 60.9h1.8v1.3h-1.8zM1429.4 60.9h1.3v1.3h-1.3zM783.5 73.9h1.8v1.3h-1.8zM786.2 73.9h1.3v1.3h-1.3zM1431.6 73.9h1.8v1.3h-1.8zM1429.4 73.9h1.3v1.3h-1.3zM783.5 86.8h1.8v1.3h-1.8zM786.2 86.8h1.3v1.3h-1.3zM1431.6 86.8h1.8v1.3h-1.8zM1429.4 86.8h1.3v1.3h-1.3zM783.5 99.8h1.8v1.3h-1.8zM786.2 99.8h1.3v1.3h-1.3zM1431.6 99.8h1.8v1.3h-1.8zM1429.4 99.8h1.3v1.3h-1.3zM783.5 112.8h1.8v1.3h-1.8zM786.2 112.8h1.3v1.3h-1.3zM1431.6 112.8h1.8v1.3h-1.8zM1429.4 112.8h1.3v1.3h-1.3zM783.5 125.8h1.8v1.3h-1.8zM786.2 125.8h1.3v1.3h-1.3zM1431.6 125.8h1.8v1.3h-1.8zM1429.4 125.8h1.3v1.3h-1.3zM783.5 138.7h1.8v1.3h-1.8zM786.2 138.7h1.3v1.3h-1.3zM1431.6 138.7h1.8v1.3h-1.8zM1429.4 138.7h1.3v1.3h-1.3zM783.5 151.7h1.8v1.3h-1.8zM786.2 151.7h1.3v1.3h-1.3zM1431.6 151.7h1.8v1.3h-1.8zM1429.4 151.7h1.3v1.3h-1.3zM783.5 164.7h1.8v1.3h-1.8zM786.2 164.7h1.3v1.3h-1.3zM1431.6 164.7h1.8v1.3h-1.8zM1429.4 164.7h1.3v1.3h-1.3zM783.5 177.6h1.8v1.3h-1.8zM786.2 177.6h1.3v1.3h-1.3zM1431.6 177.6h1.8v1.3h-1.8zM1429.4 177.6h1.3v1.3h-1.3zM783.5 190.6h1.8v1.3h-1.8zM786.2 190.6h1.3v1.3h-1.3zM1431.6 190.6h1.8v1.3h-1.8zM1429.4 190.6h1.3v1.3h-1.3zM783.5 203.6h1.8v1.3h-1.8zM786.2 203.6h1.3v1.3h-1.3zM1431.6 203.6h1.8v1.3h-1.8zM1429.4 203.6h1.3v1.3h-1.3zM783.5 216.6h1.8v1.3h-1.8zM786.2 216.6h1.3v1.3h-1.3zM1431.6 216.6h1.8v1.3h-1.8zM1429.4 216.6h1.3v1.3h-1.3zM783.5 229.5h1.8v1.3h-1.8zM786.2 229.5h1.3v1.3h-1.3zM1431.6 229.5h1.8v1.3h-1.8zM1429.4 229.5h1.3v1.3h-1.3zM783.5 242.5h1.8v1.3h-1.8zM786.2 242.5h1.3v1.3h-1.3zM1431.6 242.5h1.8v1.3h-1.8zM1429.4 242.5h1.3v1.3h-1.3zM783.5 255.5h1.8v1.3h-1.8zM786.2 255.5h1.3v1.3h-1.3zM1431.6 255.5h1.8v1.3h-1.8zM1429.4 255.5h1.3v1.3h-1.3zM783.5 268.4h1.8v1.3h-1.8zM786.2 268.4h1.3v1.3h-1.3zM1431.6 268.4h1.8v1.3h-1.8zM1429.4 268.4h1.3v1.3h-1.3zM783.5 281.4h1.8v1.3h-1.8zM786.2 281.4h1.3v1.3h-1.3zM1431.6 281.4h1.8v1.3h-1.8zM1429.4 281.4h1.3v1.3h-1.3zM783.5 294.4h1.8v1.3h-1.8zM786.2 294.4h1.3v1.3h-1.3zM1431.6 294.4h1.8v1.3h-1.8zM1429.4 294.4h1.3v1.3h-1.3zM783.5 307.4h1.8v1.3h-1.8zM786.2 307.4h1.3v1.3h-1.3zM1431.6 307.4h1.8v1.3h-1.8zM1429.4 307.4h1.3v1.3h-1.3zM783.5 320.3h1.8v1.3h-1.8zM786.2 320.3h1.3v1.3h-1.3zM1431.6 320.3h1.8v1.3h-1.8zM1429.4 320.3h1.3v1.3h-1.3zM783.5 333.3h1.8v1.3h-1.8zM786.2 333.3h1.3v1.3h-1.3zM1431.6 333.3h1.8v1.3h-1.8zM1429.4 333.3h1.3v1.3h-1.3zM783.5 346.3h1.8v1.3h-1.8zM786.2 346.3h1.3v1.3h-1.3zM1431.6 346.3h1.8v1.3h-1.8zM1429.4 346.3h1.3v1.3h-1.3zM783.5 359.3h1.8v1.3h-1.8zM786.2 359.3h1.3v1.3h-1.3zM1431.6 359.3h1.8v1.3h-1.8zM1429.4 359.3h1.3v1.3h-1.3zM783.5 372.2h1.8v1.3h-1.8zM786.2 372.2h1.3v1.3h-1.3zM1431.6 372.2h1.8v1.3h-1.8zM1429.4 372.2h1.3v1.3h-1.3zM783.5 385.2h1.8v1.3h-1.8zM786.2 385.2h1.3v1.3h-1.3zM1431.6 385.2h1.8v1.3h-1.8zM1429.4 385.2h1.3v1.3h-1.3zM783.5 398.2h1.8v1.3h-1.8zM786.2 398.2h1.3v1.3h-1.3zM1431.6 398.2h1.8v1.3h-1.8zM1429.4 398.2h1.3v1.3h-1.3zM783.5 411.1h1.8v1.3h-1.8zM786.2 411.1h1.3v1.3h-1.3zM1431.6 411.1h1.8v1.3h-1.8zM1429.4 411.1h1.3v1.3h-1.3zM783.5 424.1h1.8v1.3h-1.8zM786.2 424.1h1.3v1.3h-1.3zM1431.6 424.1h1.8v1.3h-1.8zM1429.4 424.1h1.3v1.3h-1.3zM783.5 437.1h1.8v1.3h-1.8zM786.2 437.1h1.3v1.3h-1.3zM1431.6 437.1h1.8v1.3h-1.8zM1429.4 437.1h1.3v1.3h-1.3zM783.5 450.1h1.8v1.3h-1.8zM786.2 450.1h1.3v1.3h-1.3zM1431.6 450.1h1.8v1.3h-1.8zM1429.4 450.1h1.3v1.3h-1.3zM783.5 463h1.8v1.3h-1.8zM786.2 463h1.3v1.3h-1.3zM1431.6 463h1.8v1.3h-1.8zM1429.4 463h1.3v1.3h-1.3zM783.5 476h1.8v1.3h-1.8zM786.2 476h1.3v1.3h-1.3zM1431.6 476h1.8v1.3h-1.8zM1429.4 476h1.3v1.3h-1.3zM783.5 489h1.8v1.3h-1.8zM786.2 489h1.3v1.3h-1.3zM1431.6 489h1.8v1.3h-1.8zM1429.4 489h1.3v1.3h-1.3zM783.5 501.9h1.8v1.3h-1.8zM786.2 501.9h1.3v1.3h-1.3zM1431.6 501.9h1.8v1.3h-1.8zM1429.4 501.9h1.3v1.3h-1.3zM783.5 514.9h1.8v1.3h-1.8zM786.2 514.9h1.3v1.3h-1.3zM1431.6 514.9h1.8v1.3h-1.8zM1429.4 514.9h1.3v1.3h-1.3zM783.5 527.9h1.8v1.3h-1.8zM786.2 527.9h1.3v1.3h-1.3zM1431.6 527.9h1.8v1.3h-1.8zM1429.4 527.9h1.3v1.3h-1.3zM783.5 540.9h1.8v1.3h-1.8zM786.2 540.9h1.3v1.3h-1.3zM1431.6 540.9h1.8v1.3h-1.8zM1429.4 540.9h1.3v1.3h-1.3z"/>
<path fill="#ee1c24" d="M1100.9 34.8h15l-7.5 7.5z"/>
<path d="M756.1 409.3H771.8L782.8 419.8L771.8 430.3H756.1Z" fill="#fff" stroke="#20a020" stroke-width="1.3"/><text x="766.6" y="427.1" font-family="Liberation Sans" font-weight="bold" font-size="19" fill="#20a020" text-anchor="middle">2</text>
<path d="M756.1 393.3H771.8L782.8 403.5L771.8 413.7H756.1Z" fill="#990f99" stroke="#990f99" stroke-width="1.3"/><text x="766.6" y="410.5" font-family="Liberation Sans" font-weight="bold" font-size="19" fill="#fff" text-anchor="middle">3</text>
<path d="M756.1 424.2H771.8L782.8 434.8L771.8 445.4H756.1Z" fill="#fff" stroke="#2a2aa8" stroke-width="1.3"/><text x="766.6" y="442.2" font-family="Liberation Sans" font-weight="bold" font-size="19" fill="#0a0a90" text-anchor="middle">4</text>
<path fill="none" stroke="#4472c4" stroke-width="4.2" d="M1240.4 44V90.3 M1238.3 90.3H1292"/>
<path fill="#4472c4" d="M1240.4 32 L1252.9 56 L1240.4 46 L1227.9 56 Z"/>
<path fill="#4472c4" d="M1304 90.3 L1280 102.3 L1289 90.3 L1280 78.3 Z"/>
<text x="1173.7" y="94.9" font-family="Liberation Serif" font-size="15.8" font-weight="bold" fill="#000" text-anchor="start" textLength="50.6" lengthAdjust="spacingAndGlyphs">0.2 Wb</text>
<text x="1240.8" y="126.2" font-family="Liberation Serif" font-size="15.5" font-weight="bold" fill="#000" text-anchor="start" textLength="47" lengthAdjust="spacingAndGlyphs">100 ms</text>
<path fill="none" stroke="#4472c4" stroke-width="4.2" d="M1302.5 305V352 M1300.4 352H1354"/>
<path fill="#4472c4" d="M1302.5 293 L1315 317 L1302.5 307 L1290 317 Z"/>
<path fill="#4472c4" d="M1366 352 L1342 364 L1351 352 L1342 340 Z"/>
<text x="1252" y="360.5" font-family="Liberation Serif" font-size="15.8" font-weight="bold" fill="#000" text-anchor="start" textLength="36.9" lengthAdjust="spacingAndGlyphs">1 Wb</text>
<text x="1302" y="368.5" font-family="Liberation Serif" font-size="15.5" font-weight="bold" fill="#000" text-anchor="start" textLength="46" lengthAdjust="spacingAndGlyphs">100 ms</text>
<path fill="none" stroke="#00ffff" stroke-width="4.5" d="M918.7 213.4L894.6 179"/><path fill="#00ffff" d="M887.4 168.7L906.7 177.1L894.6 179L888.7 189.8Z"/>
<path fill="none" stroke="#22dd44" stroke-width="4.5" d="M983.6 218L961.1 181.7"/><path fill="#22dd44" d="M954.5 171L973.3 180.5L961.1 181.7L954.6 192.1Z"/>
<text x="833.7" y="230" font-family="Liberation Serif" font-size="16.3" font-weight="normal" fill="#000" text-anchor="start" textLength="100.7" lengthAdjust="spacingAndGlyphs">Reference Flux</text>
<text x="985.8" y="220.5" font-family="Liberation Serif" font-size="16.3" font-weight="normal" fill="#000" text-anchor="start" textLength="64.9" lengthAdjust="spacingAndGlyphs">Real Flux</text>
<g transform="matrix(1.0054 0 0 1 729.1 -2)"><text x="51.3" y="577.8" font-family="Liberation Sans" font-size="18.5" font-weight="normal" fill="#119a11" text-anchor="start" textLength="36.6" lengthAdjust="spacing" stroke="#119a11" stroke-width="0.45">Ch1</text>
<rect x="92.2" y="561.3" width="125.6" height="20.6" fill="#fff" stroke="#a9a9a9" stroke-width="1.6"/>
<text x="115.5" y="578.6" font-family="Liberation Sans" font-size="18.5" font-weight="normal" fill="#119a11" text-anchor="start" textLength="70" lengthAdjust="spacing" stroke="#119a11" stroke-width="0.45">200mV</text>
<text x="220.9" y="577.8" font-family="Liberation Sans" font-size="18.5" font-weight="normal" fill="#00f0f0" text-anchor="start" textLength="37.9" lengthAdjust="spacing" stroke="#00f0f0" stroke-width="0.45">Ch2</text>
<rect x="262.2" y="561.3" width="125.8" height="20.6" fill="#fff" stroke="#a9a9a9" stroke-width="1.6"/>
<text x="286.4" y="578.6" font-family="Liberation Sans" font-size="18.5" font-weight="normal" fill="#00f0f0" text-anchor="start" textLength="70.2" lengthAdjust="spacing" stroke="#00f0f0" stroke-width="0.45">200mV</text>
<text x="390.8" y="577.5" font-family="Liberation Sans" font-size="18.5" font-weight="normal" fill="#000" text-anchor="start" textLength="15.2" lengthAdjust="spacing" stroke="#000" stroke-width="0.45">M</text>
<rect x="408.9" y="561.2" width="76.6" height="20.8" fill="#fff" stroke="#a9a9a9" stroke-width="1.6"/>
<text x="417.9" y="578.3" font-family="Liberation Sans" font-size="18.5" font-weight="normal" fill="#000" text-anchor="start" textLength="62" lengthAdjust="spacing" stroke="#000" stroke-width="0.45">100ms</text>
<text x="505" y="578.3" font-family="Liberation Sans" font-size="18.5" font-weight="normal" fill="#000" text-anchor="start" textLength="13.7" lengthAdjust="spacing" stroke="#000" stroke-width="0.45">A</text>
<rect x="520.7" y="562.2" width="179.8" height="20.8" fill="#fff" stroke="#a9a9a9" stroke-width="1.6"/>
<text x="537.7" y="578.8" font-family="Liberation Sans" font-size="18.5" font-weight="normal" fill="#9a109a" text-anchor="start" textLength="36.3" lengthAdjust="spacing" stroke="#9a109a" stroke-width="0.45">Ch1</text>
<path fill="none" stroke="#000" stroke-width="2.6" d="M590.2 577.5H595.5L599.5 566H605"/>
<rect x="613.3" y="571.2" width="9.5" height="1.8" fill="#000"/>
<text x="629" y="578.8" font-family="Liberation Sans" font-size="18.5" font-weight="normal" fill="#000" text-anchor="start" textLength="68.4" lengthAdjust="spacing" stroke="#000" stroke-width="0.45">64.0mV</text>
<rect x="50.4" y="585.9" width="39.6" height="20" fill="#990f99"/>
<text x="51.3" y="601.6" font-family="Liberation Sans" font-size="18.5" font-weight="normal" fill="#fff" text-anchor="start" textLength="36.6" lengthAdjust="spacing" stroke="#fff" stroke-width="0.45">Ch3</text>
<rect x="92.2" y="585.6" width="125.6" height="21.2" fill="#fff" stroke="#a9a9a9" stroke-width="1.6"/>
<text x="117.1" y="601.6" font-family="Liberation Sans" font-size="18.5" font-weight="normal" fill="#9a109a" text-anchor="start" textLength="61" lengthAdjust="spacing" stroke="#9a109a" stroke-width="0.45">1.00 V</text>
<path fill="none" stroke="#9a109a" stroke-width="2" stroke-linecap="round" d="M184.4 595.2q1.2 -7 2.9 -6.5l6.5 12.6q2.2 0.6 2.8 -6.1"/>
<text x="220.9" y="601.4" font-family="Liberation Sans" font-size="18.5" font-weight="normal" fill="#101090" text-anchor="start" textLength="37" lengthAdjust="spacing" stroke="#101090" stroke-width="0.45">Ch4</text>
<rect x="262.2" y="585.6" width="125.8" height="21.2" fill="#fff" stroke="#a9a9a9" stroke-width="1.6"/>
<text x="287.3" y="601.6" font-family="Liberation Sans" font-size="18.5" font-weight="normal" fill="#101090" text-anchor="start" textLength="61" lengthAdjust="spacing" stroke="#101090" stroke-width="0.45">1.00 V</text>
<path fill="none" stroke="#101090" stroke-width="2" stroke-linecap="round" d="M354.6 595.2q1.2 -7 2.9 -6.5l6.5 12.6q2.2 0.6 2.8 -6.1"/></g>
<rect x="3.3" y="2.5" width="1470" height="2" fill="#000"/>
<rect x="3.3" y="712.7" width="1470" height="2" fill="#000"/>
<rect x="3.3" y="2.5" width="2" height="712.2" fill="#000"/>
<rect x="1471.2" y="2.5" width="2" height="712.2" fill="#000"/>
<rect x="730.6" y="3" width="2" height="711" fill="#000"/>
<rect x="3" y="642.8" width="1470" height="2" fill="#000"/>
<text x="304.5" y="694" font-family="Liberation Serif" font-size="43" font-weight="normal" fill="#000" text-anchor="start" textLength="124.6" lengthAdjust="spacingAndGlyphs">a) DTC</text>
<text x="976.1" y="694" font-family="Liberation Serif" font-size="42.5" font-weight="normal" fill="#000" text-anchor="start" textLength="250" lengthAdjust="spacingAndGlyphs">b) Neural DTC</text>
</svg>
</body></html>
